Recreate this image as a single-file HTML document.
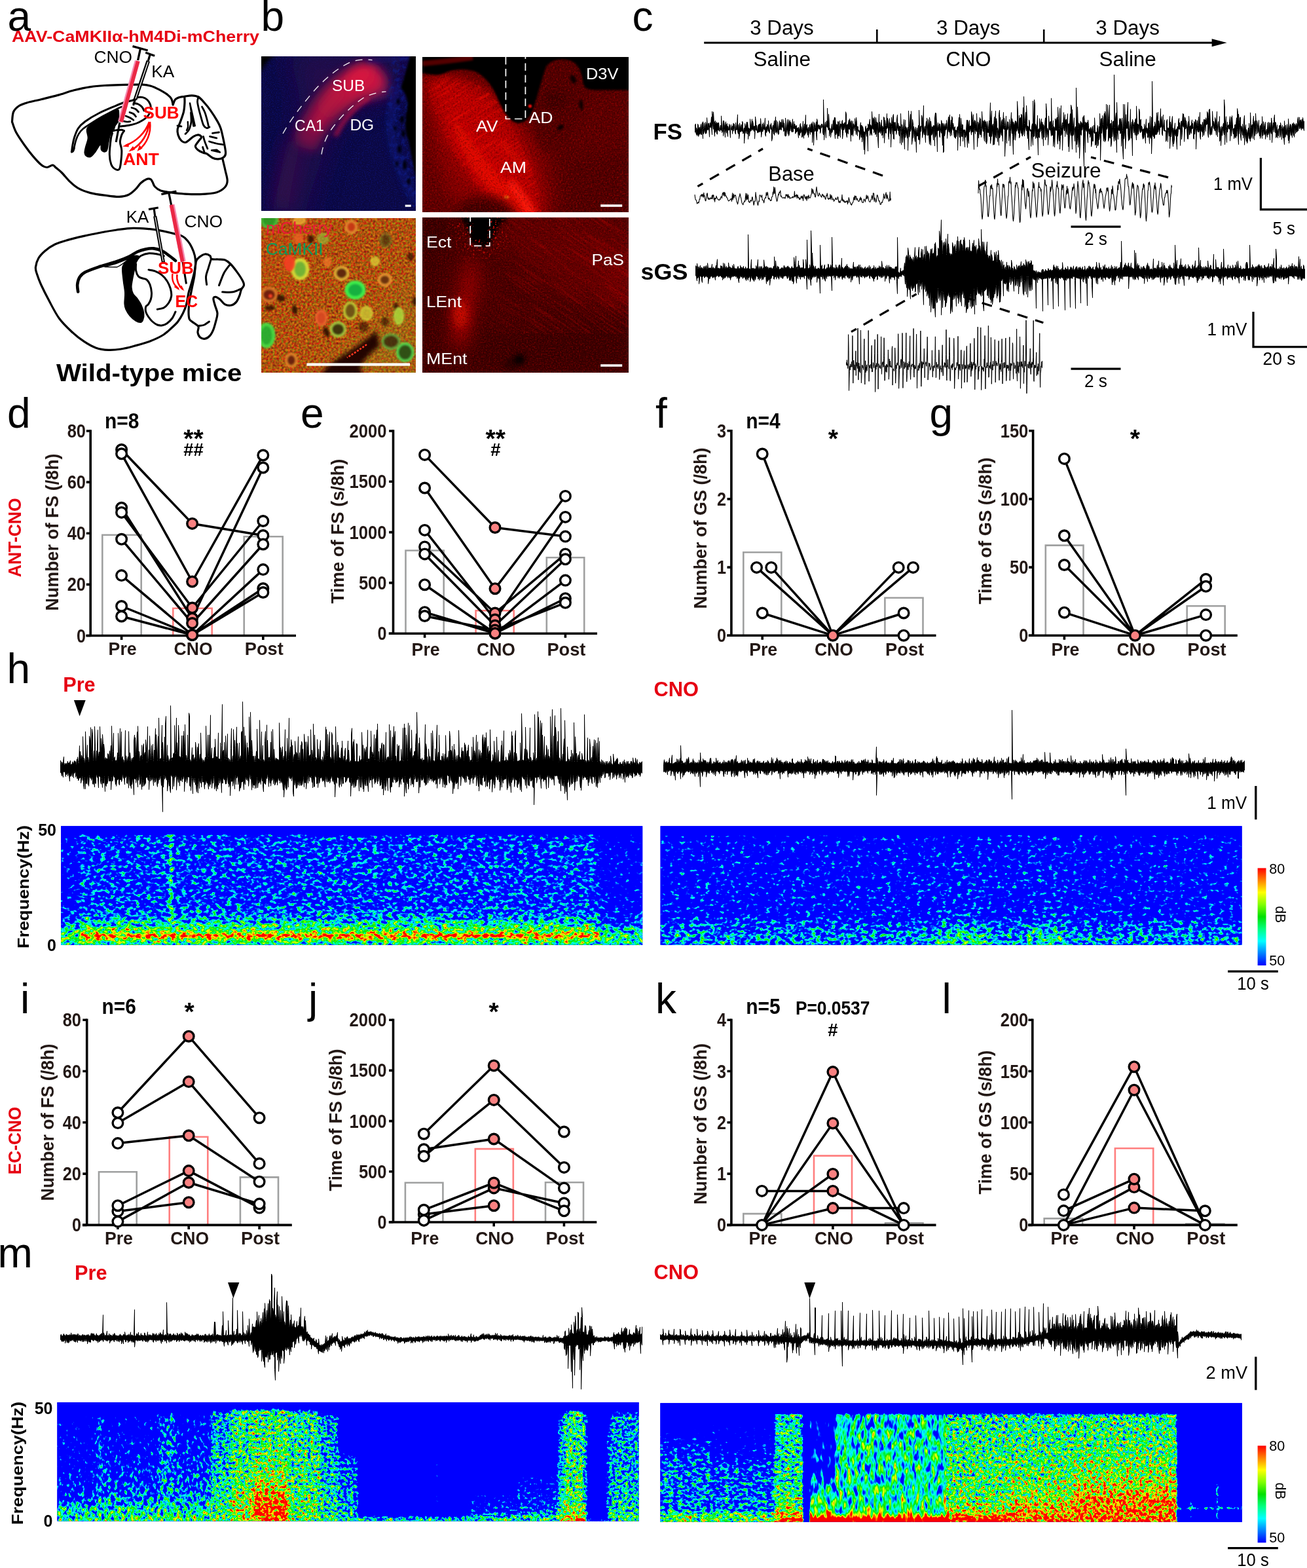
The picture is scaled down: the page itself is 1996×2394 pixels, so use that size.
<!DOCTYPE html>
<html lang="en"><head><meta charset="utf-8"><title>Figure</title>
<style>html,body{margin:0;padding:0;background:#fff}svg{display:block}text{font-family:"Liberation Sans",Arial,Helvetica,sans-serif}</style>
</head><body>
<svg xmlns="http://www.w3.org/2000/svg" width="1996" height="2394" viewBox="0 0 1996 2394">
<defs>
<linearGradient id="gh1_0" gradientUnits="userSpaceOnUse" x1="0" y1="1261.2" x2="0" y2="1442.8"><stop offset="0.000" stop-color="#000000"/><stop offset="0.055" stop-color="#000000"/><stop offset="0.075" stop-color="#505050"/><stop offset="0.650" stop-color="#525252"/><stop offset="0.800" stop-color="#666666"/><stop offset="0.880" stop-color="#8a8a8a"/><stop offset="0.930" stop-color="#999999"/><stop offset="1.000" stop-color="#858585"/></linearGradient>
<linearGradient id="gh1_1" gradientUnits="userSpaceOnUse" x1="0" y1="1261.2" x2="0" y2="1442.8"><stop offset="0.000" stop-color="#000000"/><stop offset="0.055" stop-color="#000000"/><stop offset="0.075" stop-color="#626262"/><stop offset="0.650" stop-color="#636363"/><stop offset="0.740" stop-color="#6c6c6c"/><stop offset="0.800" stop-color="#7c7c7c"/><stop offset="0.860" stop-color="#949494"/><stop offset="0.900" stop-color="#a3a3a3"/><stop offset="0.917" stop-color="#c4c4c4"/><stop offset="0.930" stop-color="#c4c4c4"/><stop offset="0.947" stop-color="#a3a3a3"/><stop offset="0.970" stop-color="#949494"/><stop offset="1.000" stop-color="#858585"/></linearGradient>
<linearGradient id="gh1_2" gradientUnits="userSpaceOnUse" x1="0" y1="1261.2" x2="0" y2="1442.8"><stop offset="0.000" stop-color="#000000"/><stop offset="0.055" stop-color="#000000"/><stop offset="0.075" stop-color="#8a8a8a"/><stop offset="0.780" stop-color="#8f8f8f"/><stop offset="0.860" stop-color="#999999"/><stop offset="0.900" stop-color="#a3a3a3"/><stop offset="0.917" stop-color="#c4c4c4"/><stop offset="0.930" stop-color="#c4c4c4"/><stop offset="0.947" stop-color="#a3a3a3"/><stop offset="0.970" stop-color="#949494"/><stop offset="1.000" stop-color="#858585"/></linearGradient>
<linearGradient id="gh1_3" gradientUnits="userSpaceOnUse" x1="0" y1="1261.2" x2="0" y2="1442.8"><stop offset="0.000" stop-color="#000000"/><stop offset="0.055" stop-color="#000000"/><stop offset="0.075" stop-color="#626262"/><stop offset="0.650" stop-color="#636363"/><stop offset="0.740" stop-color="#6c6c6c"/><stop offset="0.800" stop-color="#7c7c7c"/><stop offset="0.860" stop-color="#949494"/><stop offset="0.900" stop-color="#a3a3a3"/><stop offset="0.917" stop-color="#c4c4c4"/><stop offset="0.930" stop-color="#c4c4c4"/><stop offset="0.947" stop-color="#a3a3a3"/><stop offset="0.970" stop-color="#949494"/><stop offset="1.000" stop-color="#858585"/></linearGradient>
<linearGradient id="gh1_4" gradientUnits="userSpaceOnUse" x1="0" y1="1261.2" x2="0" y2="1442.8"><stop offset="0.000" stop-color="#000000"/><stop offset="0.055" stop-color="#000000"/><stop offset="0.075" stop-color="#494949"/><stop offset="0.650" stop-color="#4e4e4e"/><stop offset="0.800" stop-color="#5e5e5e"/><stop offset="0.880" stop-color="#808080"/><stop offset="0.930" stop-color="#8f8f8f"/><stop offset="1.000" stop-color="#808080"/></linearGradient>
<g id="eh1"><rect x="79.1" y="1247.2" width="916.1" height="209.6" fill="#000"/><rect x="79.1" y="1247.2" width="41.9" height="209.6" fill="url(#gh1_0)"/><rect x="121.0" y="1247.2" width="136.5" height="209.6" fill="url(#gh1_1)"/><rect x="257.5" y="1247.2" width="6.5" height="209.6" fill="url(#gh1_2)"/><rect x="264.0" y="1247.2" width="652.0" height="209.6" fill="url(#gh1_3)"/><rect x="916.0" y="1247.2" width="79.2" height="209.6" fill="url(#gh1_4)"/></g>
<clipPath id="ch1_0"><rect x="93.1" y="1261.2" width="888.1" height="181.6"/></clipPath>
<filter id="fh1_0" filterUnits="userSpaceOnUse" x="79.1" y="1247.2" width="916.1" height="209.6" color-interpolation-filters="sRGB">
<feGaussianBlur in="SourceGraphic" stdDeviation="1.6 1.0" result="e"/>
<feTurbulence type="fractalNoise" baseFrequency="0.13 0.19" numOctaves="2" seed="7"/>
<feColorMatrix type="matrix" values="1 0 0 0 0 1 0 0 0 0 1 0 0 0 0 0 0 0 0 1" result="n"/>
<feComposite in="e" in2="n" operator="arithmetic" k1="0" k2="2.5" k3="1.728" k4="-1.864"/>
<feComponentTransfer><feFuncR type="table" tableValues="0 0 0 0 0 .5 1 1 1"/><feFuncG type="table" tableValues="0 .5 1 1 .9 1 1 .5 0"/><feFuncB type="table" tableValues="1 1 1 .5 0 0 0 0 0"/></feComponentTransfer>
</filter>
<linearGradient id="gh2_0" gradientUnits="userSpaceOnUse" x1="0" y1="1261.2" x2="0" y2="1442.8"><stop offset="0.000" stop-color="#000000"/><stop offset="0.060" stop-color="#000000"/><stop offset="0.080" stop-color="#4e4e4e"/><stop offset="0.500" stop-color="#525252"/><stop offset="0.750" stop-color="#535353"/><stop offset="0.800" stop-color="#606060"/><stop offset="0.900" stop-color="#6e6e6e"/><stop offset="0.970" stop-color="#757575"/><stop offset="1.000" stop-color="#6e6e6e"/></linearGradient>
<linearGradient id="gh2_1" gradientUnits="userSpaceOnUse" x1="0" y1="1261.2" x2="0" y2="1442.8"><stop offset="0.000" stop-color="#000000"/><stop offset="0.060" stop-color="#000000"/><stop offset="0.080" stop-color="#505050"/><stop offset="0.300" stop-color="#565656"/><stop offset="0.700" stop-color="#595959"/><stop offset="0.800" stop-color="#686868"/><stop offset="0.900" stop-color="#808080"/><stop offset="0.970" stop-color="#8d8d8d"/><stop offset="1.000" stop-color="#838383"/></linearGradient>
<linearGradient id="gh2_2" gradientUnits="userSpaceOnUse" x1="0" y1="1261.2" x2="0" y2="1442.8"><stop offset="0.000" stop-color="#000000"/><stop offset="0.060" stop-color="#000000"/><stop offset="0.080" stop-color="#4e4e4e"/><stop offset="0.500" stop-color="#525252"/><stop offset="0.750" stop-color="#535353"/><stop offset="0.800" stop-color="#606060"/><stop offset="0.900" stop-color="#6e6e6e"/><stop offset="0.970" stop-color="#757575"/><stop offset="1.000" stop-color="#6e6e6e"/></linearGradient>
<linearGradient id="gh2_3" gradientUnits="userSpaceOnUse" x1="0" y1="1261.2" x2="0" y2="1442.8"><stop offset="0.000" stop-color="#000000"/><stop offset="0.060" stop-color="#000000"/><stop offset="0.080" stop-color="#505050"/><stop offset="0.300" stop-color="#565656"/><stop offset="0.700" stop-color="#595959"/><stop offset="0.800" stop-color="#686868"/><stop offset="0.900" stop-color="#808080"/><stop offset="0.970" stop-color="#8d8d8d"/><stop offset="1.000" stop-color="#838383"/></linearGradient>
<linearGradient id="gh2_4" gradientUnits="userSpaceOnUse" x1="0" y1="1261.2" x2="0" y2="1442.8"><stop offset="0.000" stop-color="#000000"/><stop offset="0.060" stop-color="#000000"/><stop offset="0.080" stop-color="#4e4e4e"/><stop offset="0.500" stop-color="#525252"/><stop offset="0.750" stop-color="#535353"/><stop offset="0.800" stop-color="#606060"/><stop offset="0.900" stop-color="#6e6e6e"/><stop offset="0.970" stop-color="#757575"/><stop offset="1.000" stop-color="#6e6e6e"/></linearGradient>
<g id="eh2"><rect x="994.6" y="1247.2" width="916.0" height="209.6" fill="#000"/><rect x="994.6" y="1247.2" width="435.4" height="209.6" fill="url(#gh2_0)"/><rect x="1430.0" y="1247.2" width="80.0" height="209.6" fill="url(#gh2_1)"/><rect x="1510.0" y="1247.2" width="55.0" height="209.6" fill="url(#gh2_2)"/><rect x="1565.0" y="1247.2" width="60.0" height="209.6" fill="url(#gh2_3)"/><rect x="1625.0" y="1247.2" width="285.6" height="209.6" fill="url(#gh2_4)"/></g>
<clipPath id="ch2_0"><rect x="1008.6" y="1261.2" width="888.0" height="181.6"/></clipPath>
<filter id="fh2_0" filterUnits="userSpaceOnUse" x="994.6" y="1247.2" width="916.0" height="209.6" color-interpolation-filters="sRGB">
<feGaussianBlur in="SourceGraphic" stdDeviation="12 1.0" result="e"/>
<feTurbulence type="fractalNoise" baseFrequency="0.13 0.19" numOctaves="2" seed="12"/>
<feColorMatrix type="matrix" values="1 0 0 0 0 1 0 0 0 0 1 0 0 0 0 0 0 0 0 1" result="n"/>
<feComposite in="e" in2="n" operator="arithmetic" k1="0" k2="2.5" k3="1.728" k4="-1.864"/>
<feComponentTransfer><feFuncR type="table" tableValues="0 0 0 0 0 .5 1 1 1"/><feFuncG type="table" tableValues="0 .5 1 1 .9 1 1 .5 0"/><feFuncB type="table" tableValues="1 1 1 .5 0 0 0 0 0"/></feComponentTransfer>
</filter>
<linearGradient id="gm1_0" gradientUnits="userSpaceOnUse" x1="0" y1="2141" x2="0" y2="2322.6"><stop offset="0.000" stop-color="#000000"/><stop offset="0.080" stop-color="#000000"/><stop offset="0.120" stop-color="#3d3d3d"/><stop offset="0.500" stop-color="#474747"/><stop offset="0.800" stop-color="#575757"/><stop offset="0.880" stop-color="#7a7a7a"/><stop offset="1.000" stop-color="#8f8f8f"/></linearGradient>
<linearGradient id="gm1_1" gradientUnits="userSpaceOnUse" x1="0" y1="2141" x2="0" y2="2322.6"><stop offset="0.000" stop-color="#000000"/><stop offset="0.100" stop-color="#000000"/><stop offset="0.130" stop-color="#666666"/><stop offset="0.500" stop-color="#6b6b6b"/><stop offset="0.800" stop-color="#757575"/><stop offset="0.900" stop-color="#858585"/><stop offset="1.000" stop-color="#949494"/></linearGradient>
<linearGradient id="gm1_2" gradientUnits="userSpaceOnUse" x1="0" y1="2141" x2="0" y2="2322.6"><stop offset="0.000" stop-color="#000000"/><stop offset="0.080" stop-color="#000000"/><stop offset="0.120" stop-color="#424242"/><stop offset="0.400" stop-color="#4c4c4c"/><stop offset="0.600" stop-color="#5c5c5c"/><stop offset="0.800" stop-color="#6b6b6b"/><stop offset="0.900" stop-color="#858585"/><stop offset="1.000" stop-color="#949494"/></linearGradient>
<linearGradient id="gm1_3" gradientUnits="userSpaceOnUse" x1="0" y1="2141" x2="0" y2="2322.6"><stop offset="0.000" stop-color="#000000"/><stop offset="0.070" stop-color="#000000"/><stop offset="0.100" stop-color="#666666"/><stop offset="0.500" stop-color="#6e6e6e"/><stop offset="0.800" stop-color="#757575"/><stop offset="0.900" stop-color="#8a8a8a"/><stop offset="1.000" stop-color="#949494"/></linearGradient>
<linearGradient id="gm1_4" gradientUnits="userSpaceOnUse" x1="0" y1="2141" x2="0" y2="2322.6"><stop offset="0.000" stop-color="#000000"/><stop offset="0.080" stop-color="#000000"/><stop offset="0.120" stop-color="#474747"/><stop offset="0.400" stop-color="#575757"/><stop offset="0.700" stop-color="#666666"/><stop offset="0.850" stop-color="#7a7a7a"/><stop offset="0.950" stop-color="#8f8f8f"/><stop offset="1.000" stop-color="#949494"/></linearGradient>
<linearGradient id="gm1_5" gradientUnits="userSpaceOnUse" x1="0" y1="2141" x2="0" y2="2322.6"><stop offset="0.000" stop-color="#000000"/><stop offset="0.050" stop-color="#000000"/><stop offset="0.080" stop-color="#757575"/><stop offset="0.600" stop-color="#808080"/><stop offset="0.850" stop-color="#8f8f8f"/><stop offset="1.000" stop-color="#999999"/></linearGradient>
<linearGradient id="gm1_6" gradientUnits="userSpaceOnUse" x1="0" y1="2141" x2="0" y2="2322.6"><stop offset="0.000" stop-color="#000000"/><stop offset="0.040" stop-color="#000000"/><stop offset="0.070" stop-color="#8b8b8b"/><stop offset="0.500" stop-color="#919191"/><stop offset="0.750" stop-color="#9b9b9b"/><stop offset="0.900" stop-color="#a5a5a5"/><stop offset="1.000" stop-color="#a3a3a3"/></linearGradient>
<linearGradient id="gm1_7" gradientUnits="userSpaceOnUse" x1="0" y1="2141" x2="0" y2="2322.6"><stop offset="0.000" stop-color="#000000"/><stop offset="0.040" stop-color="#000000"/><stop offset="0.070" stop-color="#919191"/><stop offset="0.450" stop-color="#969696"/><stop offset="0.600" stop-color="#9e9e9e"/><stop offset="0.720" stop-color="#afafaf"/><stop offset="0.820" stop-color="#c7c7c7"/><stop offset="0.970" stop-color="#cccccc"/><stop offset="1.000" stop-color="#b8b8b8"/></linearGradient>
<linearGradient id="gm1_8" gradientUnits="userSpaceOnUse" x1="0" y1="2141" x2="0" y2="2322.6"><stop offset="0.000" stop-color="#000000"/><stop offset="0.050" stop-color="#000000"/><stop offset="0.080" stop-color="#858585"/><stop offset="0.500" stop-color="#8f8f8f"/><stop offset="0.800" stop-color="#949494"/><stop offset="0.950" stop-color="#999999"/><stop offset="1.000" stop-color="#999999"/></linearGradient>
<linearGradient id="gm1_9" gradientUnits="userSpaceOnUse" x1="0" y1="2141" x2="0" y2="2322.6"><stop offset="0.000" stop-color="#000000"/><stop offset="0.080" stop-color="#000000"/><stop offset="0.120" stop-color="#707070"/><stop offset="0.500" stop-color="#7a7a7a"/><stop offset="0.850" stop-color="#858585"/><stop offset="1.000" stop-color="#8f8f8f"/></linearGradient>
<linearGradient id="gm1_10" gradientUnits="userSpaceOnUse" x1="0" y1="2141" x2="0" y2="2322.6"><stop offset="0.000" stop-color="#000000"/><stop offset="0.300" stop-color="#000000"/><stop offset="0.500" stop-color="#666666"/><stop offset="0.850" stop-color="#757575"/><stop offset="1.000" stop-color="#858585"/></linearGradient>
<linearGradient id="gm1_11" gradientUnits="userSpaceOnUse" x1="0" y1="2141" x2="0" y2="2322.6"><stop offset="0.000" stop-color="#000000"/><stop offset="0.940" stop-color="#000000"/><stop offset="0.970" stop-color="#7a7a7a"/><stop offset="1.000" stop-color="#8a8a8a"/></linearGradient>
<linearGradient id="gm1_12" gradientUnits="userSpaceOnUse" x1="0" y1="2141" x2="0" y2="2322.6"><stop offset="0.000" stop-color="#000000"/><stop offset="0.700" stop-color="#000000"/><stop offset="0.800" stop-color="#474747"/><stop offset="0.930" stop-color="#575757"/><stop offset="0.960" stop-color="#858585"/><stop offset="1.000" stop-color="#8a8a8a"/></linearGradient>
<linearGradient id="gm1_13" gradientUnits="userSpaceOnUse" x1="0" y1="2141" x2="0" y2="2322.6"><stop offset="0.000" stop-color="#000000"/><stop offset="0.500" stop-color="#000000"/><stop offset="0.650" stop-color="#474747"/><stop offset="0.900" stop-color="#616161"/><stop offset="0.960" stop-color="#858585"/><stop offset="1.000" stop-color="#8f8f8f"/></linearGradient>
<linearGradient id="gm1_14" gradientUnits="userSpaceOnUse" x1="0" y1="2141" x2="0" y2="2322.6"><stop offset="0.000" stop-color="#000000"/><stop offset="0.080" stop-color="#000000"/><stop offset="0.120" stop-color="#707070"/><stop offset="0.600" stop-color="#7a7a7a"/><stop offset="0.850" stop-color="#858585"/><stop offset="1.000" stop-color="#a3a3a3"/></linearGradient>
<linearGradient id="gm1_15" gradientUnits="userSpaceOnUse" x1="0" y1="2141" x2="0" y2="2322.6"><stop offset="0.000" stop-color="#000000"/><stop offset="0.050" stop-color="#000000"/><stop offset="0.080" stop-color="#8b8b8b"/><stop offset="0.600" stop-color="#919191"/><stop offset="0.850" stop-color="#999999"/><stop offset="0.950" stop-color="#a8a8a8"/><stop offset="1.000" stop-color="#c7c7c7"/></linearGradient>
<linearGradient id="gm1_16" gradientUnits="userSpaceOnUse" x1="0" y1="2141" x2="0" y2="2322.6"><stop offset="0.000" stop-color="#000000"/><stop offset="0.080" stop-color="#000000"/><stop offset="0.120" stop-color="#666666"/><stop offset="0.850" stop-color="#7a7a7a"/><stop offset="1.000" stop-color="#8f8f8f"/></linearGradient>
<linearGradient id="gm1_17" gradientUnits="userSpaceOnUse" x1="0" y1="2141" x2="0" y2="2322.6"><stop offset="0.000" stop-color="#000000"/><stop offset="0.960" stop-color="#000000"/><stop offset="1.000" stop-color="#666666"/></linearGradient>
<linearGradient id="gm1_18" gradientUnits="userSpaceOnUse" x1="0" y1="2141" x2="0" y2="2322.6"><stop offset="0.000" stop-color="#000000"/><stop offset="0.100" stop-color="#000000"/><stop offset="0.200" stop-color="#525252"/><stop offset="0.900" stop-color="#707070"/><stop offset="1.000" stop-color="#858585"/></linearGradient>
<linearGradient id="gm1_19" gradientUnits="userSpaceOnUse" x1="0" y1="2141" x2="0" y2="2322.6"><stop offset="0.000" stop-color="#000000"/><stop offset="0.060" stop-color="#000000"/><stop offset="0.100" stop-color="#727272"/><stop offset="0.700" stop-color="#7a7a7a"/><stop offset="0.900" stop-color="#878787"/><stop offset="1.000" stop-color="#8f8f8f"/></linearGradient>
<g id="em1"><rect x="73.4" y="2127.0" width="916.2" height="209.6" fill="#000"/><rect x="73.4" y="2127.0" width="74.6" height="209.6" fill="url(#gm1_0)"/><rect x="148.0" y="2127.0" width="10.0" height="209.6" fill="url(#gm1_1)"/><rect x="158.0" y="2127.0" width="84.0" height="209.6" fill="url(#gm1_2)"/><rect x="242.0" y="2127.0" width="26.0" height="209.6" fill="url(#gm1_3)"/><rect x="268.0" y="2127.0" width="54.0" height="209.6" fill="url(#gm1_4)"/><rect x="322.0" y="2127.0" width="30.0" height="209.6" fill="url(#gm1_5)"/><rect x="352.0" y="2127.0" width="33.0" height="209.6" fill="url(#gm1_6)"/><rect x="385.0" y="2127.0" width="55.0" height="209.6" fill="url(#gm1_7)"/><rect x="440.0" y="2127.0" width="50.0" height="209.6" fill="url(#gm1_8)"/><rect x="490.0" y="2127.0" width="28.0" height="209.6" fill="url(#gm1_9)"/><rect x="518.0" y="2127.0" width="30.0" height="209.6" fill="url(#gm1_10)"/><rect x="548.0" y="2127.0" width="166.0" height="209.6" fill="url(#gm1_11)"/><rect x="714.0" y="2127.0" width="76.0" height="209.6" fill="url(#gm1_12)"/><rect x="790.0" y="2127.0" width="61.0" height="209.6" fill="url(#gm1_13)"/><rect x="851.0" y="2127.0" width="11.0" height="209.6" fill="url(#gm1_14)"/><rect x="862.0" y="2127.0" width="31.0" height="209.6" fill="url(#gm1_15)"/><rect x="893.0" y="2127.0" width="5.0" height="209.6" fill="url(#gm1_16)"/><rect x="898.0" y="2127.0" width="27.0" height="209.6" fill="url(#gm1_17)"/><rect x="925.0" y="2127.0" width="7.0" height="209.6" fill="url(#gm1_18)"/><rect x="932.0" y="2127.0" width="57.6" height="209.6" fill="url(#gm1_19)"/><rect x="665.5" y="2231.8" width="3.5" height="69.0" fill="#808080"/></g>
<clipPath id="cm1_0"><rect x="87.4" y="2141" width="234.6" height="181.6"/></clipPath>
<filter id="fm1_0" filterUnits="userSpaceOnUse" x="73.4" y="2127.0" width="262.6" height="209.6" color-interpolation-filters="sRGB">
<feGaussianBlur in="SourceGraphic" stdDeviation="2 1.2" result="e"/>
<feTurbulence type="fractalNoise" baseFrequency="0.2 0.14" numOctaves="2" seed="21"/>
<feColorMatrix type="matrix" values="1 0 0 0 0 1 0 0 0 0 1 0 0 0 0 0 0 0 0 1" result="n"/>
<feComposite in="e" in2="n" operator="arithmetic" k1="0" k2="2.5" k3="1.920" k4="-1.960"/>
<feComponentTransfer><feFuncR type="table" tableValues="0 0 0 0 0 .5 1 1 1"/><feFuncG type="table" tableValues="0 .5 1 1 .9 1 1 .5 0"/><feFuncB type="table" tableValues="1 1 1 .5 0 0 0 0 0"/></feComponentTransfer>
</filter>
<clipPath id="cm1_1"><rect x="322.0" y="2141" width="653.6" height="181.6"/></clipPath>
<filter id="fm1_1" filterUnits="userSpaceOnUse" x="308.0" y="2127.0" width="681.6" height="209.6" color-interpolation-filters="sRGB">
<feGaussianBlur in="SourceGraphic" stdDeviation="2 1.2" result="e"/>
<feTurbulence type="fractalNoise" baseFrequency="0.2 0.22" numOctaves="2" seed="23"/>
<feColorMatrix type="matrix" values="1 0 0 0 0 1 0 0 0 0 1 0 0 0 0 0 0 0 0 1" result="n"/>
<feComposite in="e" in2="n" operator="arithmetic" k1="0" k2="2.5" k3="1.800" k4="-1.900"/>
<feComponentTransfer><feFuncR type="table" tableValues="0 0 0 0 0 .5 1 1 1"/><feFuncG type="table" tableValues="0 .5 1 1 .9 1 1 .5 0"/><feFuncB type="table" tableValues="1 1 1 .5 0 0 0 0 0"/></feComponentTransfer>
</filter>
<linearGradient id="gm2_0" gradientUnits="userSpaceOnUse" x1="0" y1="2142.2" x2="0" y2="2323.8"><stop offset="0.000" stop-color="#000000"/><stop offset="0.100" stop-color="#000000"/><stop offset="0.250" stop-color="#383838"/><stop offset="0.400" stop-color="#5c5c5c"/><stop offset="0.600" stop-color="#707070"/><stop offset="0.900" stop-color="#707070"/><stop offset="0.930" stop-color="#949494"/><stop offset="1.000" stop-color="#999999"/></linearGradient>
<linearGradient id="gm2_1" gradientUnits="userSpaceOnUse" x1="0" y1="2142.2" x2="0" y2="2323.8"><stop offset="0.000" stop-color="#000000"/><stop offset="0.100" stop-color="#000000"/><stop offset="0.200" stop-color="#3d3d3d"/><stop offset="0.450" stop-color="#474747"/><stop offset="0.550" stop-color="#666666"/><stop offset="0.900" stop-color="#707070"/><stop offset="0.930" stop-color="#949494"/><stop offset="1.000" stop-color="#999999"/></linearGradient>
<linearGradient id="gm2_2" gradientUnits="userSpaceOnUse" x1="0" y1="2142.2" x2="0" y2="2323.8"><stop offset="0.000" stop-color="#000000"/><stop offset="0.070" stop-color="#000000"/><stop offset="0.100" stop-color="#858585"/><stop offset="0.600" stop-color="#8a8a8a"/><stop offset="0.800" stop-color="#949494"/><stop offset="0.900" stop-color="#a3a3a3"/><stop offset="0.970" stop-color="#c2c2c2"/><stop offset="1.000" stop-color="#cccccc"/></linearGradient>
<linearGradient id="gm2_3" gradientUnits="userSpaceOnUse" x1="0" y1="2142.2" x2="0" y2="2323.8"><stop offset="0.000" stop-color="#000000"/><stop offset="1.000" stop-color="#000000"/></linearGradient>
<linearGradient id="gm2_4" gradientUnits="userSpaceOnUse" x1="0" y1="2142.2" x2="0" y2="2323.8"><stop offset="0.000" stop-color="#000000"/><stop offset="0.100" stop-color="#000000"/><stop offset="0.150" stop-color="#474747"/><stop offset="0.550" stop-color="#525252"/><stop offset="0.700" stop-color="#757575"/><stop offset="0.880" stop-color="#999999"/><stop offset="0.950" stop-color="#bdbdbd"/><stop offset="0.975" stop-color="#ebebeb"/><stop offset="1.000" stop-color="#ebebeb"/></linearGradient>
<linearGradient id="gm2_5" gradientUnits="userSpaceOnUse" x1="0" y1="2142.2" x2="0" y2="2323.8"><stop offset="0.000" stop-color="#000000"/><stop offset="0.070" stop-color="#000000"/><stop offset="0.100" stop-color="#838383"/><stop offset="0.800" stop-color="#888888"/><stop offset="0.920" stop-color="#949494"/><stop offset="0.955" stop-color="#bdbdbd"/><stop offset="0.975" stop-color="#ebebeb"/><stop offset="1.000" stop-color="#ebebeb"/></linearGradient>
<linearGradient id="gm2_6" gradientUnits="userSpaceOnUse" x1="0" y1="2142.2" x2="0" y2="2323.8"><stop offset="0.000" stop-color="#000000"/><stop offset="0.070" stop-color="#000000"/><stop offset="0.100" stop-color="#8b8b8b"/><stop offset="0.500" stop-color="#939393"/><stop offset="0.800" stop-color="#999999"/><stop offset="0.920" stop-color="#a8a8a8"/><stop offset="0.960" stop-color="#d1d1d1"/><stop offset="1.000" stop-color="#e0e0e0"/></linearGradient>
<linearGradient id="gm2_7" gradientUnits="userSpaceOnUse" x1="0" y1="2142.2" x2="0" y2="2323.8"><stop offset="0.000" stop-color="#000000"/><stop offset="0.070" stop-color="#000000"/><stop offset="0.100" stop-color="#8b8b8b"/><stop offset="0.400" stop-color="#939393"/><stop offset="0.600" stop-color="#999999"/><stop offset="0.780" stop-color="#a3a3a3"/><stop offset="0.900" stop-color="#b6b6b6"/><stop offset="1.000" stop-color="#cccccc"/></linearGradient>
<linearGradient id="gm2_8" gradientUnits="userSpaceOnUse" x1="0" y1="2142.2" x2="0" y2="2323.8"><stop offset="0.000" stop-color="#000000"/><stop offset="0.070" stop-color="#000000"/><stop offset="0.100" stop-color="#8d8d8d"/><stop offset="0.350" stop-color="#959595"/><stop offset="0.550" stop-color="#9d9d9d"/><stop offset="0.700" stop-color="#ababab"/><stop offset="0.820" stop-color="#c0c0c0"/><stop offset="1.000" stop-color="#c4c4c4"/></linearGradient>
<linearGradient id="gm2_9" gradientUnits="userSpaceOnUse" x1="0" y1="2142.2" x2="0" y2="2323.8"><stop offset="0.000" stop-color="#000000"/><stop offset="0.860" stop-color="#000000"/><stop offset="0.875" stop-color="#666666"/><stop offset="0.895" stop-color="#666666"/><stop offset="0.910" stop-color="#000000"/><stop offset="1.000" stop-color="#000000"/></linearGradient>
<g id="em2"><rect x="994.4" y="2128.2" width="916.4" height="209.6" fill="#000"/><rect x="994.4" y="2128.2" width="90.6" height="209.6" fill="url(#gm2_0)"/><rect x="1085.0" y="2128.2" width="98.0" height="209.6" fill="url(#gm2_1)"/><rect x="1183.0" y="2128.2" width="44.0" height="209.6" fill="url(#gm2_2)"/><rect x="1227.0" y="2128.2" width="9.0" height="209.6" fill="url(#gm2_3)"/><rect x="1236.0" y="2128.2" width="39.0" height="209.6" fill="url(#gm2_4)"/><rect x="1275.0" y="2128.2" width="170.0" height="209.6" fill="url(#gm2_5)"/><rect x="1445.0" y="2128.2" width="95.0" height="209.6" fill="url(#gm2_6)"/><rect x="1540.0" y="2128.2" width="100.0" height="209.6" fill="url(#gm2_7)"/><rect x="1640.0" y="2128.2" width="158.5" height="209.6" fill="url(#gm2_8)"/><rect x="1798.5" y="2128.2" width="112.3" height="209.6" fill="url(#gm2_9)"/><rect x="1816.5" y="2287.5" width="4" height="30.9" fill="#858585"/><rect x="1857" y="2265.7" width="4" height="54.5" fill="#858585"/><rect x="1246" y="2164.0" width="3" height="90.8" fill="#707070"/></g>
<clipPath id="cm2_0"><rect x="1008.4" y="2142.2" width="227.6" height="181.6"/></clipPath>
<filter id="fm2_0" filterUnits="userSpaceOnUse" x="994.4" y="2128.2" width="255.6" height="209.6" color-interpolation-filters="sRGB">
<feGaussianBlur in="SourceGraphic" stdDeviation="1.6 1.2" result="e"/>
<feTurbulence type="fractalNoise" baseFrequency="0.14 0.22" numOctaves="2" seed="33"/>
<feColorMatrix type="matrix" values="1 0 0 0 0 1 0 0 0 0 1 0 0 0 0 0 0 0 0 1" result="n"/>
<feComposite in="e" in2="n" operator="arithmetic" k1="0" k2="2.5" k3="1.920" k4="-1.960"/>
<feComponentTransfer><feFuncR type="table" tableValues="0 0 0 0 0 .5 1 1 1"/><feFuncG type="table" tableValues="0 .5 1 1 .9 1 1 .5 0"/><feFuncB type="table" tableValues="1 1 1 .5 0 0 0 0 0"/></feComponentTransfer>
</filter>
<clipPath id="cm2_1"><rect x="1236.0" y="2142.2" width="209.0" height="181.6"/></clipPath>
<filter id="fm2_1" filterUnits="userSpaceOnUse" x="1222.0" y="2128.2" width="237.0" height="209.6" color-interpolation-filters="sRGB">
<feGaussianBlur in="SourceGraphic" stdDeviation="1.6 1.2" result="e"/>
<feTurbulence type="fractalNoise" baseFrequency="0.17 0.06" numOctaves="2" seed="35"/>
<feColorMatrix type="matrix" values="1 0 0 0 0 1 0 0 0 0 1 0 0 0 0 0 0 0 0 1" result="n"/>
<feComposite in="e" in2="n" operator="arithmetic" k1="0" k2="2.5" k3="1.680" k4="-1.840"/>
<feComponentTransfer><feFuncR type="table" tableValues="0 0 0 0 0 .5 1 1 1"/><feFuncG type="table" tableValues="0 .5 1 1 .9 1 1 .5 0"/><feFuncB type="table" tableValues="1 1 1 .5 0 0 0 0 0"/></feComponentTransfer>
</filter>
<clipPath id="cm2_2"><rect x="1445.0" y="2142.2" width="451.8" height="181.6"/></clipPath>
<filter id="fm2_2" filterUnits="userSpaceOnUse" x="1431.0" y="2128.2" width="479.8" height="209.6" color-interpolation-filters="sRGB">
<feGaussianBlur in="SourceGraphic" stdDeviation="1.6 1.2" result="e"/>
<feTurbulence type="fractalNoise" baseFrequency="0.2 0.2" numOctaves="2" seed="37"/>
<feColorMatrix type="matrix" values="1 0 0 0 0 1 0 0 0 0 1 0 0 0 0 0 0 0 0 1" result="n"/>
<feComposite in="e" in2="n" operator="arithmetic" k1="0" k2="2.5" k3="1.800" k4="-1.900"/>
<feComponentTransfer><feFuncR type="table" tableValues="0 0 0 0 0 .5 1 1 1"/><feFuncG type="table" tableValues="0 .5 1 1 .9 1 1 .5 0"/><feFuncB type="table" tableValues="1 1 1 .5 0 0 0 0 0"/></feComponentTransfer>
</filter>
<linearGradient id="jet" x1="0" y1="0" x2="0" y2="1"><stop offset="0" stop-color="#f00"/><stop offset="0.125" stop-color="#ff8000"/><stop offset="0.25" stop-color="#ff0"/><stop offset="0.375" stop-color="#80ff00"/><stop offset="0.5" stop-color="#00e000"/><stop offset="0.625" stop-color="#00ff80"/><stop offset="0.75" stop-color="#0ff"/><stop offset="0.875" stop-color="#0080ff"/><stop offset="1" stop-color="#00f"/></linearGradient>
<filter id="bl1" filterUnits="userSpaceOnUse" x="370" y="50" width="620" height="550"><feGaussianBlur stdDeviation="0.9"/></filter>
<filter id="bl2" filterUnits="userSpaceOnUse" x="370" y="50" width="620" height="550"><feGaussianBlur stdDeviation="1.6"/></filter>
<filter id="bl3" filterUnits="userSpaceOnUse" x="370" y="50" width="620" height="550"><feGaussianBlur stdDeviation="3"/></filter>
<filter id="bl5" filterUnits="userSpaceOnUse" x="370" y="50" width="620" height="550"><feGaussianBlur stdDeviation="5"/></filter>
<filter id="bl8" filterUnits="userSpaceOnUse" x="370" y="50" width="620" height="550"><feGaussianBlur stdDeviation="8"/></filter>
<filter id="bl12" filterUnits="userSpaceOnUse" x="370" y="50" width="620" height="550"><feGaussianBlur stdDeviation="12"/></filter>
<filter id="bl20" filterUnits="userSpaceOnUse" x="370" y="50" width="620" height="550"><feGaussianBlur stdDeviation="20"/></filter>

<clipPath id="cb1"><rect x="399" y="86" width="236" height="236"/></clipPath>
<filter id="nb1" filterUnits="userSpaceOnUse" x="399" y="86" width="236" height="236" color-interpolation-filters="sRGB">
<feTurbulence type="fractalNoise" baseFrequency="0.55" numOctaves="2" seed="4"/>
<feColorMatrix type="matrix" values="0 0 0 0 0.06  0 0 0 0 0.08  0 0 0 0 0.5  0 0 2.2 0 -0.95"/>
</filter>
<filter id="nb1t" filterUnits="userSpaceOnUse" x="399" y="86" width="236" height="236" color-interpolation-filters="sRGB">
<feTurbulence type="fractalNoise" baseFrequency="0.16" numOctaves="2" seed="8"/>
<feColorMatrix type="matrix" values="0 0 0 0 0.06  0 0 0 0 0.12  0 0 0 0 0.55  0 0 4 0 -1.9"/>
</filter>
<linearGradient id="gb1" gradientUnits="userSpaceOnUse" x1="565" y1="100" x2="445" y2="235"><stop offset="0" stop-color="#d01642"/><stop offset="0.35" stop-color="#c01440"/><stop offset="0.7" stop-color="#8a1044"/><stop offset="1" stop-color="#5a0c48"/></linearGradient>
<clipPath id="cb1t"><path d="M600 86C592 120 588 160 590 200C596 250 612 290 635 322L635 86Z"/></clipPath>
<clipPath id="cb2"><rect x="645" y="87" width="315" height="237"/></clipPath>
<filter id="nb2" filterUnits="userSpaceOnUse" x="645" y="87" width="315" height="237" color-interpolation-filters="sRGB">
<feTurbulence type="fractalNoise" baseFrequency="0.4" numOctaves="2" seed="9"/>
<feColorMatrix type="matrix" values="0 0 0 0 1  0 0 0 0 0.02  0 0 0 0 0  2.2 0 0 0 -1.0"/>
</filter>
<filter id="nb2d" filterUnits="userSpaceOnUse" x="645" y="87" width="315" height="237" color-interpolation-filters="sRGB">
<feTurbulence type="fractalNoise" baseFrequency="0.4" numOctaves="2" seed="19"/>
<feColorMatrix type="matrix" values="0 0 0 0 0  0 0 0 0 0  0 0 0 0 0  2.0 0 0 0 -0.9"/>
</filter>
<filter id="nb2f" filterUnits="userSpaceOnUse" x="545" y="-13" width="515" height="437" color-interpolation-filters="sRGB">
<feTurbulence type="fractalNoise" baseFrequency="0.35 0.02" numOctaves="2" seed="5"/>
<feColorMatrix type="matrix" values="0 0 0 0 1  0 0 0 0 0.05  0 0 0 0 0  3 0 0 0 -1.35"/>
</filter>
<clipPath id="cb2f"><path d="M648 118C700 110 745 125 768 170C786 200 800 230 815 262C822 285 826 310 828 330L760 330C735 290 700 250 682 215C668 185 655 150 648 118Z"/></clipPath>
<clipPath id="cb3"><rect x="399" y="333" width="236" height="236"/></clipPath>
<filter id="nb3" filterUnits="userSpaceOnUse" x="399" y="333" width="236" height="236" color-interpolation-filters="sRGB">
<feTurbulence type="fractalNoise" baseFrequency="0.3" numOctaves="2" seed="2"/>
<feColorMatrix type="matrix" values="0.75 0 0 0 0.31  0 0.8 0 0 -0.08  0 0 0 0 0.06  0 0 0 0 1"/>
</filter>
<clipPath id="cb4"><rect x="645" y="332" width="315" height="237"/></clipPath>
<filter id="nb4" filterUnits="userSpaceOnUse" x="645" y="332" width="315" height="237" color-interpolation-filters="sRGB">
<feTurbulence type="fractalNoise" baseFrequency="0.45" numOctaves="2" seed="14"/>
<feColorMatrix type="matrix" values="0 0 0 0 0.9  0 0 0 0 0.02  0 0 0 0 0.0  2.2 0 0 0 -1.0"/>
</filter>
<filter id="nb4d" filterUnits="userSpaceOnUse" x="645" y="332" width="315" height="237" color-interpolation-filters="sRGB">
<feTurbulence type="fractalNoise" baseFrequency="0.45" numOctaves="2" seed="15"/>
<feColorMatrix type="matrix" values="0 0 0 0 0  0 0 0 0 0  0 0 0 0 0  2 0 0 0 -0.9"/>
</filter>
<filter id="nb4s" filterUnits="userSpaceOnUse" x="645" y="332" width="315" height="237" color-interpolation-filters="sRGB">
<feTurbulence type="fractalNoise" baseFrequency="0.32" numOctaves="2" seed="3"/>
<feColorMatrix type="matrix" values="0 0 0 0 1  0 0 0 0 0.06  0 0 0 0 0.03  7 0 0 0 -4.3"/>
</filter>
<filter id="nb4f" filterUnits="userSpaceOnUse" x="495" y="182" width="615" height="537" color-interpolation-filters="sRGB">
<feTurbulence type="fractalNoise" baseFrequency="0.3 0.015" numOctaves="2" seed="6"/>
<feColorMatrix type="matrix" values="0 0 0 0 0.8  0 0 0 0 0.02  0 0 0 0 0  3 0 0 0 -1.4"/>
</filter>
<radialGradient id="rg4s" cx="733" cy="352" r="58" gradientUnits="userSpaceOnUse"><stop offset="0" stop-color="#fff"/><stop offset="0.45" stop-color="#fff" stop-opacity="0.8"/><stop offset="1" stop-color="#fff" stop-opacity="0"/></radialGradient>
<mask id="mk4s" maskUnits="userSpaceOnUse" x="645" y="332" width="315" height="237"><rect x="645" y="332" width="315" height="237" fill="url(#rg4s)"/></mask>
<linearGradient id="lg4f" gradientUnits="userSpaceOnUse" x1="720" y1="0" x2="960" y2="0"><stop offset="0" stop-color="#fff" stop-opacity="0"/><stop offset="0.4" stop-color="#fff" stop-opacity="0.8"/><stop offset="1" stop-color="#fff"/></linearGradient>
<mask id="mk4f" maskUnits="userSpaceOnUse" x="645" y="332" width="315" height="237"><rect x="645" y="332" width="315" height="177" fill="url(#lg4f)"/></mask>
</defs>
<rect width="1996" height="2394" fill="#fff"/>
<text x="11.5" y="46.5" font-size="64" fill="#000">a</text>
<text x="398.5" y="46.5" font-size="64" fill="#000">b</text>
<text x="965.5" y="47.0" font-size="64" fill="#000">c</text>
<text x="11.0" y="652.5" font-size="64" fill="#000">d</text>
<text x="459.0" y="652.5" font-size="64" fill="#000">e</text>
<text x="1001.0" y="652.5" font-size="64" fill="#000">f</text>
<text x="1419.5" y="652.5" font-size="64" fill="#000">g</text>
<text x="10.5" y="1043.0" font-size="64" fill="#000">h</text>
<text x="31.0" y="1547.0" font-size="64" fill="#000">i</text>
<text x="471.0" y="1547.0" font-size="64" fill="#000">j</text>
<text x="1001.0" y="1547.0" font-size="64" fill="#000">k</text>
<text x="1438.5" y="1547.0" font-size="64" fill="#000">l</text>
<text x="-3.5" y="1935.0" font-size="64" fill="#000">m</text>
<text x="18.0" y="63.6" font-size="23.5" fill="#e60012" font-weight="bold" textLength="378.0" lengthAdjust="spacingAndGlyphs">AAV-CaMKIIα-hM4Di-mCherry</text>
<path d="M18.5 186.0C18.8 183.5 18.8 175.0 20.5 171.0C22.2 167.0 25.4 164.2 28.9 161.8C32.4 159.4 35.9 158.4 41.5 156.7C47.1 155.0 55.0 153.6 62.8 151.7C70.5 149.8 79.6 147.7 88.0 145.4C96.4 143.1 104.6 139.9 113.0 137.8C121.4 135.7 129.8 133.8 138.2 132.6C146.6 131.3 154.3 130.9 163.3 130.3C172.3 129.8 182.9 129.5 192.0 129.3C201.1 129.1 211.3 128.9 217.7 129.2C224.1 129.5 226.1 130.0 230.3 131.2C234.5 132.4 238.6 134.4 242.8 136.6C247.0 138.8 252.2 141.8 255.4 144.2C258.6 146.6 260.2 148.2 261.7 150.8C263.2 153.4 263.8 158.3 264.2 159.8" fill="none" stroke="#000" stroke-width="3.2" stroke-linecap="round" stroke-linejoin="round" />
<path d="M18.5 186.0C19.5 188.7 21.4 196.0 24.6 202.0C27.8 208.0 33.4 215.9 37.7 222.0C42.0 228.1 46.1 233.5 50.3 238.4C54.5 243.3 59.2 248.7 62.8 251.5C66.3 254.3 68.7 255.4 71.6 255.5C74.5 255.6 78.1 252.1 80.4 252.2C82.7 252.3 83.1 254.1 85.4 256.0C87.7 257.9 90.6 259.9 94.2 263.5C97.8 267.1 102.6 273.4 106.8 277.4C111.0 281.4 114.2 284.5 119.4 287.4C124.6 290.3 130.9 292.7 138.2 294.6C145.5 296.5 156.0 297.7 163.3 298.7C170.6 299.7 176.6 300.6 182.0 300.4C187.4 300.2 191.8 299.4 196.0 297.5C200.2 295.6 204.1 291.7 207.3 288.7C210.5 285.7 212.2 282.1 215.0 279.5C217.8 276.9 221.5 274.4 224.0 273.4C226.5 272.4 228.5 272.8 230.0 273.6C231.5 274.4 231.9 276.1 233.0 278.0C234.1 279.9 234.4 282.8 236.5 285.0C238.6 287.2 241.1 289.5 245.3 291.0C249.5 292.5 255.8 293.2 261.7 294.0C267.6 294.8 273.2 295.6 280.5 296.0C287.8 296.4 297.2 297.0 305.6 296.6C314.0 296.2 324.5 295.5 330.8 293.7C337.1 291.9 340.6 288.9 343.3 286.0C346.0 283.1 347.1 280.3 347.2 276.0C347.3 271.7 345.2 265.7 344.0 260.0C342.8 254.3 340.5 245.0 339.8 242.0" fill="none" stroke="#000" stroke-width="3.2" stroke-linecap="round" stroke-linejoin="round" />
<path d="M264.2 159.8C264.8 158.5 266.1 153.6 268.0 151.7C269.9 149.8 273.2 148.9 275.5 148.2C277.8 147.5 278.9 147.7 281.8 147.3C284.7 146.9 289.5 145.7 293.0 145.8C296.5 145.9 299.8 146.2 303.0 148.0C306.2 149.8 308.8 153.1 312.0 156.7C315.2 160.2 318.9 164.9 322.0 169.3C325.1 173.7 328.3 178.7 330.8 183.1C333.3 187.5 335.1 190.0 337.0 195.7C338.9 201.3 340.7 210.7 342.0 217.0C343.3 223.3 344.6 229.6 344.6 233.4C344.6 237.2 343.9 238.1 342.0 239.7C340.1 241.3 336.2 242.6 333.3 242.8C330.4 243.0 327.4 242.4 324.5 241.0C321.6 239.6 318.0 235.9 315.7 234.6C313.4 233.3 312.8 234.2 310.7 233.4C308.6 232.6 305.1 231.3 303.0 229.6C300.9 227.9 298.4 225.6 298.4 223.3C298.4 221.0 301.5 218.1 303.0 215.8C304.5 213.5 307.6 211.2 307.6 209.5C307.6 207.8 305.0 206.1 303.0 205.9C301.0 205.7 298.1 206.9 295.6 208.3C293.1 209.7 290.1 213.0 288.0 214.5C285.9 216.0 284.9 217.5 283.0 217.5C281.1 217.5 278.6 216.5 276.7 214.5C274.8 212.5 272.8 208.6 271.9 205.7C271.0 202.8 270.6 200.3 271.2 197.0C271.8 193.7 273.9 190.0 275.5 185.6C277.1 181.2 279.4 175.4 280.5 170.6C281.6 165.8 281.8 160.6 282.0 156.7C282.2 152.8 281.8 148.9 281.8 147.3" fill="none" stroke="#000" stroke-width="3.2" stroke-linecap="round" stroke-linejoin="round" />
<path d="M290 157.5L297.8 192L295.4 192.5Z" fill="#000" stroke="#000" stroke-width="2.4" stroke-linejoin="round"/>
<path d="M291.5 172.0C291.6 174.3 292.3 182.0 292.0 186.0C291.7 190.0 290.4 193.5 289.5 196.0C288.6 198.5 287.6 199.6 286.5 201.0C285.4 202.4 283.6 203.9 283.0 204.5" fill="none" stroke="#000" stroke-width="2.8" stroke-linecap="round" stroke-linejoin="round" />
<path d="M286.8 186.0C286.8 187.3 287.3 191.8 287.0 194.0C286.7 196.2 285.3 198.2 285.0 199.0" fill="none" stroke="#000" stroke-width="2.4" stroke-linecap="round" stroke-linejoin="round" />
<path d="M271.0 192.0C272.0 192.2 276.0 192.8 277.0 193.0" fill="none" stroke="#000" stroke-width="2.8" stroke-linecap="round" stroke-linejoin="round" />
<path d="M303.0 148.0C302.8 149.2 301.4 152.0 301.5 155.0C301.6 158.0 302.6 162.0 303.5 166.0C304.4 170.0 305.8 174.8 307.0 179.0C308.2 183.2 309.3 188.2 310.7 191.0C312.1 193.8 313.9 195.0 315.5 195.5C317.1 196.0 319.2 194.2 320.0 194.0" fill="none" stroke="#000" stroke-width="2.8" stroke-linecap="round" stroke-linejoin="round" />
<path d="M308.5 163.0C309.2 164.5 311.7 168.5 313.0 172.0C314.3 175.5 315.6 180.5 316.5 184.0C317.4 187.5 318.2 191.5 318.5 193.0" fill="none" stroke="#000" stroke-width="2.8" stroke-linecap="round" stroke-linejoin="round" />
<path d="M324.5 203.3C326.2 203.1 332.8 202.2 334.5 202.0" fill="none" stroke="#000" stroke-width="2.8" stroke-linecap="round" stroke-linejoin="round" />
<path d="M320.5 208.3C322.2 208.7 329.1 210.4 330.8 210.8" fill="none" stroke="#000" stroke-width="2.8" stroke-linecap="round" stroke-linejoin="round" />
<path d="M319.5 216.0C321.2 216.5 326.5 218.2 330.0 219.0C333.5 219.8 338.8 220.5 340.5 220.8" fill="none" stroke="#000" stroke-width="2.8" stroke-linecap="round" stroke-linejoin="round" />
<path d="M323 229.5L336 232.5L331 228.8Z" fill="#000" stroke="#000" stroke-width="2.4" stroke-linejoin="round"/>
<path d="M310.5 208.5C310.9 209.9 311.9 213.9 313.0 217.0C314.1 220.1 316.3 225.3 317.0 227.0" fill="none" stroke="#000" stroke-width="2.8" stroke-linecap="round" stroke-linejoin="round" />
<path d="M309.5 224.5C309.9 225.8 311.6 230.8 312.0 232.0" fill="none" stroke="#000" stroke-width="2.8" stroke-linecap="round" stroke-linejoin="round" />
<path d="M109.5 231.8C109.7 230.2 110.1 225.6 110.8 222.0C111.5 218.4 112.1 214.3 113.5 210.0C114.9 205.7 116.7 200.1 119.4 196.0C122.2 191.9 124.8 189.3 130.0 185.5C135.2 181.7 143.1 176.9 150.8 173.0C158.5 169.1 169.5 164.6 176.0 161.8C182.5 159.0 185.4 157.8 190.0 156.3C194.6 154.8 201.2 153.6 203.5 153.0" fill="none" stroke="#000" stroke-width="3.0" stroke-linecap="round" stroke-linejoin="round" />
<path d="M113.0 226.5C113.5 224.4 114.8 217.8 116.0 214.0C117.2 210.2 118.7 206.9 120.5 204.0C122.3 201.1 124.0 199.0 127.0 196.5C129.9 194.0 133.2 192.0 138.2 188.8C143.2 185.6 150.3 181.2 157.0 177.5C163.7 173.8 173.6 168.7 178.4 166.3C183.2 163.9 184.7 163.6 186.0 163.0" fill="none" stroke="#000" stroke-width="2.6" stroke-linecap="round" stroke-linejoin="round" />
<path d="M109.5 231.8C109.8 231.6 110.9 231.4 111.5 230.5C112.1 229.6 112.8 227.2 113.0 226.5" fill="none" stroke="#000" stroke-width="3.4" stroke-linecap="round" stroke-linejoin="round" />
<path d="M178.4 166.8C174.3 167.2 163.7 174.0 157.0 178.0C150.3 182.0 142.3 187.3 138.2 190.7C134.1 194.1 133.1 194.8 132.5 198.2C131.9 201.5 134.7 206.6 134.4 210.8C134.2 215.0 131.9 219.5 131.0 223.3C130.1 227.1 129.0 230.9 129.2 233.4C129.4 235.9 130.5 237.4 132.0 238.4C133.5 239.4 136.1 240.3 138.2 239.5C140.3 238.7 142.0 236.5 144.5 233.4C147.0 230.3 151.6 221.6 153.3 220.8C155.0 220.0 153.7 226.6 154.5 228.4C155.3 230.2 156.8 231.6 158.3 231.8C159.8 232.0 162.1 232.1 163.3 229.6C164.6 227.1 165.0 221.0 165.8 217.0C166.7 213.0 167.1 208.6 168.4 205.7C169.7 202.8 172.1 201.8 173.4 199.5C174.7 197.2 174.8 194.3 176.0 192.0C177.2 189.7 179.6 188.3 180.5 185.6C181.4 182.9 181.8 178.7 181.5 175.6C181.2 172.5 182.5 166.4 178.4 166.8Z" fill="#000" stroke="#000" stroke-width="1.5" stroke-linecap="round" stroke-linejoin="round" />
<path d="M171.5 203.5C171.1 204.9 170.0 206.6 169.3 212.0C168.6 217.4 167.2 229.5 167.3 236.0C167.4 242.5 168.4 247.3 169.8 251.0C171.2 254.7 173.9 257.1 176.0 258.3C178.1 259.5 180.8 259.9 182.2 258.3C183.6 256.7 183.9 253.3 184.5 248.5C185.1 243.7 186.0 234.8 185.8 229.6C185.6 224.3 183.4 220.9 183.4 217.0C183.4 213.1 184.8 208.9 185.8 206.0C186.8 203.1 188.9 200.8 189.5 199.8" fill="none" stroke="#000" stroke-width="3.0" stroke-linecap="round" stroke-linejoin="round" />
<path d="M173.5 199.5C174.5 199.3 177.6 198.8 179.7 198.6C181.8 198.4 184.4 198.0 186.0 198.2C187.6 198.4 188.9 199.5 189.5 199.8" fill="none" stroke="#000" stroke-width="3.0" stroke-linecap="round" stroke-linejoin="round" />
<path d="M203.5 153.0C204.6 152.3 207.6 149.5 210.0 148.8C212.4 148.1 215.5 148.0 218.0 148.6C220.5 149.2 223.1 150.7 225.0 152.5C226.9 154.3 228.6 157.2 229.5 159.5C230.4 161.8 230.3 164.9 230.5 166.0" fill="none" stroke="#000" stroke-width="3.0" stroke-linecap="round" stroke-linejoin="round" />
<path d="M184.0 193.0C186.0 192.8 192.0 192.2 196.0 191.5C200.0 190.8 204.3 189.8 208.0 188.5C211.7 187.2 215.2 185.2 218.0 183.5C220.8 181.8 223.2 179.9 225.0 178.0C226.8 176.1 228.3 173.0 229.0 172.0" fill="none" stroke="#000" stroke-width="2.8" stroke-linecap="round" stroke-linejoin="round" />
<path d="M204.0 157.5C205.2 157.8 208.8 158.0 211.0 159.0C213.2 160.0 215.5 161.8 217.0 163.5C218.5 165.2 219.5 168.1 220.0 169.0" fill="none" stroke="#000" stroke-width="3.0" stroke-linecap="round" stroke-linejoin="round" />
<path d="M201.0 164.5C202.0 164.8 205.2 165.4 207.0 166.5C208.8 167.6 210.8 170.2 211.5 171.0" fill="none" stroke="#000" stroke-width="2.8" stroke-linecap="round" stroke-linejoin="round" />
<path d="M198.0 171.5C199.0 171.9 202.4 172.9 204.0 174.0C205.6 175.1 206.9 177.3 207.5 178.0" fill="none" stroke="#000" stroke-width="2.8" stroke-linecap="round" stroke-linejoin="round" />
<path d="M192.0 177.0C193.2 177.5 197.0 178.9 199.0 180.0C201.0 181.1 203.2 182.9 204.0 183.5" fill="none" stroke="#000" stroke-width="2.6" stroke-linecap="round" stroke-linejoin="round" />
<path d="M187.0 184.5C188.2 184.8 192.0 185.8 194.0 186.0C196.0 186.2 198.2 185.6 199.0 185.5" fill="none" stroke="#000" stroke-width="2.6" stroke-linecap="round" stroke-linejoin="round" />
<path d="M226.3 93L206.5 152" stroke="#000" stroke-width="5.6" fill="none"/>
<path d="M226 94.5L207 150.5" stroke="#fff" stroke-width="1.3" fill="none"/>
<path d="M222.2 80.3L236.2 85.2M229.2 83L226.3 93" stroke="#000" stroke-width="3.2" fill="none"/>
<path d="M206.5 152L203.5 161" stroke="#000" stroke-width="3" fill="none"/>
<path d="M202.5 70.6L225.7 77M214.5 74L210.6 92" stroke="#000" stroke-width="3.3" fill="none"/>
<path d="M182.8 187L177.2 217" stroke="#000" stroke-width="3.1" fill="none"/>
<path d="M209.8 93L184 186" stroke="#f58ab0" stroke-width="8" fill="none"/>
<path d="M210.8 93.3L185 186.3" stroke="#ea2845" stroke-width="5.6" fill="none"/>
<path d="M228 186C222 203 208 216 192 222M228 186C226 206 216 220 201 229M229 186C231 204 224 219 213 228" fill="none" stroke="#ff0000" stroke-width="2.6"/>
<path d="M187 223.5L197 218.5L196.5 224.5ZM196.5 231.5L203 223L206 228.5ZM209.5 231L213 221.5L217.5 226.5Z" fill="#ff0000"/>
<text x="143.6" y="95.8" font-size="25.5" fill="#000" textLength="58.5" lengthAdjust="spacingAndGlyphs">CNO</text>
<text x="231.2" y="118.0" font-size="25.5" fill="#000" textLength="35.0" lengthAdjust="spacingAndGlyphs">KA</text>
<text x="218.6" y="181.3" font-size="25.5" fill="#ff0000" font-weight="bold" textLength="55.0" lengthAdjust="spacingAndGlyphs">SUB</text>
<text x="188.0" y="252.3" font-size="25.5" fill="#ff0000" font-weight="bold" textLength="54.8" lengthAdjust="spacingAndGlyphs">ANT</text>
<path d="M259.9 355.3C254.0 353.8 248.0 352.5 242.8 351.6C237.6 350.7 235.1 350.2 228.5 349.7C221.9 349.2 211.7 348.2 203.3 348.4C194.9 348.6 186.6 349.9 178.2 351.0C169.8 352.1 161.4 353.7 153.0 355.3C144.6 356.9 136.4 358.5 128.0 360.4C119.6 362.3 110.1 364.5 102.8 366.6C95.5 368.7 89.7 370.3 84.0 373.0C78.3 375.7 73.1 379.4 68.9 383.0C64.7 386.6 61.2 390.1 58.8 394.3C56.4 398.5 54.8 404.1 54.4 408.0C54.0 411.9 54.9 413.6 56.3 418.0C57.7 422.4 59.5 427.6 62.6 434.5C65.8 441.4 70.6 451.0 75.2 459.6C79.8 468.2 84.7 478.3 90.3 486.0C95.9 493.7 102.7 500.1 109.0 506.0C115.3 511.9 121.7 517.0 128.0 521.2C134.3 525.4 140.5 529.0 146.8 531.2C153.1 533.4 159.3 534.1 165.6 534.4C171.9 534.7 178.2 534.0 184.5 533.0C190.8 532.0 196.0 530.7 203.3 528.7C210.6 526.7 220.9 524.1 228.5 521.2C236.1 518.3 243.5 514.9 249.0 511.5C254.5 508.1 257.9 504.4 261.7 501.0C265.5 497.6 268.8 494.8 271.7 491.0C274.6 487.2 277.2 482.7 279.3 478.5C281.4 474.3 282.9 471.2 284.3 466.0C285.8 460.8 286.8 452.2 288.0 447.0C289.2 441.8 290.3 439.7 291.8 434.5C293.3 429.3 295.7 420.9 296.8 415.6C297.9 410.4 298.6 407.2 298.7 403.0C298.8 398.8 298.4 394.7 297.5 390.5C296.6 386.3 294.8 381.8 293.0 378.0C291.2 374.2 289.3 370.9 286.8 368.0C284.3 365.1 282.5 362.5 278.0 360.4C273.5 358.3 265.8 356.8 259.9 355.3Z" fill="none" stroke="#000" stroke-width="3.2" stroke-linecap="round" stroke-linejoin="round" />
<path d="M299.4 399.3C300.9 394.3 303.3 393.7 305.6 391.8C307.9 389.9 310.7 388.2 313.2 388.0C315.7 387.8 319.0 389.2 320.7 390.5C322.4 391.8 321.1 394.6 323.2 395.5C325.2 396.4 329.6 395.8 333.0 396.0C336.4 396.2 340.1 395.6 343.3 396.8C346.5 398.0 348.9 399.9 352.0 403.0C355.1 406.1 359.0 411.2 362.2 415.6C365.4 420.0 369.3 426.1 371.0 429.5C372.7 432.9 372.8 433.6 372.4 435.7C372.0 437.8 369.6 439.5 368.5 442.0C367.4 444.5 367.2 447.7 366.0 450.8C364.8 453.9 363.1 458.4 361.0 460.9C358.9 463.4 356.3 465.4 353.4 466.0C350.4 466.6 346.2 466.1 343.3 464.6C340.4 463.1 338.1 458.9 335.8 457.0C333.5 455.1 331.1 453.5 329.5 453.3C327.9 453.1 326.1 453.7 325.9 455.8C325.7 457.9 327.3 462.2 328.3 466.0C329.3 469.8 331.8 474.3 332.0 478.5C332.2 482.7 330.6 486.8 329.5 491.0C328.4 495.2 327.2 500.0 325.7 503.6C324.2 507.2 322.8 510.1 320.7 512.4C318.6 514.7 315.7 516.8 313.2 517.2C310.7 517.6 307.5 516.6 305.6 515.0C303.7 513.4 302.4 510.1 302.0 507.4C301.6 504.7 304.0 501.0 303.0 498.6C302.0 496.2 298.3 494.9 296.0 493.0C293.7 491.1 290.6 490.1 289.3 487.3C288.0 484.5 288.0 480.6 288.0 476.0C288.0 471.4 288.5 465.5 289.3 459.6C290.1 453.7 291.8 447.1 293.0 440.8C294.2 434.5 295.7 428.9 296.8 422.0C297.9 415.1 297.9 404.3 299.4 399.3Z" fill="none" stroke="#000" stroke-width="3.2" stroke-linecap="round" stroke-linejoin="round" />
<path d="M322.0 396.8C321.4 398.9 319.4 405.2 318.2 409.4C317.0 413.6 315.0 417.8 314.6 422.0C314.2 426.2 315.5 432.4 315.7 434.5" fill="none" stroke="#000" stroke-width="3.0" stroke-linecap="round" stroke-linejoin="round" />
<path d="M350.9 404.3C349.4 406.4 344.7 411.8 342.0 417.0C339.3 422.2 335.8 432.6 334.5 435.7" fill="none" stroke="#000" stroke-width="3.0" stroke-linecap="round" stroke-linejoin="round" />
<path d="M339.6 445.8C342.3 445.8 351.1 446.6 355.9 445.8C360.7 445.0 366.4 441.6 368.5 440.8" fill="none" stroke="#000" stroke-width="3.0" stroke-linecap="round" stroke-linejoin="round" />
<path d="M304.4 497.3C305.7 497.1 309.5 497.1 312.0 496.0C314.5 494.9 318.2 491.8 319.5 491.0" fill="none" stroke="#000" stroke-width="3.0" stroke-linecap="round" stroke-linejoin="round" />
<path d="M119.2 445.4C119.0 443.6 117.8 438.2 118.2 434.5C118.6 430.8 119.7 426.2 121.7 423.0C123.8 419.8 125.3 418.0 130.5 415.3C135.7 412.6 145.1 409.5 153.0 406.8C160.9 404.1 170.9 401.8 178.2 399.3C185.5 396.8 191.8 394.3 197.0 391.8C202.2 389.3 205.4 386.4 209.6 384.5C213.8 382.6 218.0 381.4 222.2 380.5C226.4 379.6 230.5 379.0 234.7 379.4C238.9 379.8 243.1 381.0 247.3 383.0C251.5 385.0 256.4 389.0 259.9 391.5C263.3 394.0 266.6 396.9 268.0 398.0" fill="none" stroke="#000" stroke-width="4.6" stroke-linecap="round" stroke-linejoin="round" />
<path d="M160 407.6L178.5 407.8C186 405 192 399 197.5 394.5C184 400.5 172 404.5 160 407.6Z" fill="#fff" stroke="#000" stroke-width="1.4" stroke-linejoin="round"/>
<path d="M187.0 408.0C186.0 413.1 187.7 421.7 188.3 428.2C188.9 434.7 190.5 441.1 190.8 447.0C191.1 452.9 189.9 459.2 190.1 463.4C190.3 467.6 190.6 469.1 192.0 472.2C193.4 475.3 195.8 479.3 198.3 482.2C200.8 485.1 204.4 488.1 207.1 489.8C209.8 491.5 212.7 492.5 214.6 492.3C216.5 492.1 217.6 490.8 218.4 488.5C219.2 486.2 220.1 482.2 219.7 478.5C219.3 474.8 217.6 469.8 215.9 466.0C214.2 462.2 211.7 458.8 209.6 455.8C207.5 452.9 204.8 451.2 203.3 448.3C201.8 445.4 201.0 441.7 200.8 438.3C200.6 434.9 201.5 432.0 202.1 428.2C202.7 424.4 203.8 419.8 204.6 415.6C205.4 411.4 205.8 407.0 207.1 403.0C208.3 399.0 212.7 393.8 212.1 391.8C211.5 389.8 206.2 390.1 203.3 391.0C200.4 391.9 197.2 394.7 194.5 397.5C191.8 400.3 188.0 402.9 187.0 408.0Z" fill="#000" stroke="#000" stroke-width="1.5" stroke-linecap="round" stroke-linejoin="round" />
<path d="M208.9 396.8C209.9 395.8 212.1 392.2 215.2 390.5C218.3 388.8 223.5 387.1 227.7 386.7C231.9 386.3 236.5 387.3 240.3 388.0C244.1 388.7 248.7 390.3 250.4 390.8" fill="none" stroke="#000" stroke-width="3.0" stroke-linecap="round" stroke-linejoin="round" />
<path d="M207.6 403.0C207.6 404.7 207.0 409.8 207.6 413.0C208.2 416.2 209.7 420.0 211.4 422.0C213.1 424.0 215.6 424.2 217.7 425.0C219.8 425.8 222.1 425.4 224.0 427.0C225.9 428.6 227.8 431.2 229.0 434.5C230.2 437.8 231.3 443.2 231.5 447.0C231.7 450.8 231.1 454.1 230.3 457.0C229.5 459.9 227.8 462.7 226.5 464.6C225.2 466.5 223.3 466.5 222.7 468.4C222.1 470.3 222.1 473.5 222.7 476.0C223.3 478.5 224.8 481.0 226.5 483.5C228.2 486.0 230.5 488.9 232.8 491.0C235.1 493.1 237.8 495.1 240.3 496.0C242.8 496.9 245.3 497.1 247.8 496.7C250.3 496.3 252.9 495.3 255.4 493.5C257.9 491.7 260.8 488.9 262.9 486.0C265.0 483.1 267.1 477.7 268.0 476.0" fill="none" stroke="#000" stroke-width="3.0" stroke-linecap="round" stroke-linejoin="round" />
<path d="M227.0 411.9C228.6 412.2 233.2 412.6 236.5 413.8C239.8 415.1 243.4 416.8 246.6 419.4C249.8 422.0 253.1 425.9 255.4 429.5C257.7 433.1 259.3 437.1 260.4 440.8C261.4 444.6 262.1 448.5 261.7 452.0C261.3 455.5 259.8 459.1 257.9 462.0C256.0 464.9 253.3 468.0 250.4 469.7C247.5 471.4 242.0 471.8 240.3 472.2" fill="none" stroke="#000" stroke-width="3.0" stroke-linecap="round" stroke-linejoin="round" />
<path d="M236.7 330L249.8 402.5" stroke="#000" stroke-width="5.2" fill="none"/>
<path d="M237 331.5L249.2 399" stroke="#fff" stroke-width="1.2" fill="none"/>
<path d="M227 319.6L241.8 317M235.2 318.5L236.7 330" stroke="#000" stroke-width="3.1" fill="none"/>
<path d="M246.4 296.6L269.4 292M257.8 294.5L261.6 313" stroke="#000" stroke-width="3.2" fill="none"/>
<path d="M279 400L284.5 433.5" stroke="#000" stroke-width="3" fill="none"/>
<path d="M262.6 312.6L279.8 399.4" stroke="#f58ab0" stroke-width="8" fill="none"/>
<path d="M261.6 312.8L278.8 399.6" stroke="#ea2845" stroke-width="5.6" fill="none"/>
<path d="M263.5 418C262 428 266 436 273 441M270.5 419C269 428 273 437 279.5 442" fill="none" stroke="#ff0000" stroke-width="2.4"/>
<path d="M274.5 443.5L265.5 438L270 436ZM281.5 444.5L273 437.5L277.5 436Z" fill="#ff0000"/>
<text x="192.8" y="340.3" font-size="25.5" fill="#000" textLength="34.5" lengthAdjust="spacingAndGlyphs">KA</text>
<text x="281.4" y="347.3" font-size="25.5" fill="#000" textLength="58.8" lengthAdjust="spacingAndGlyphs">CNO</text>
<text x="241.0" y="417.6" font-size="25.5" fill="#ff0000" font-weight="bold" textLength="54.8" lengthAdjust="spacingAndGlyphs">SUB</text>
<text x="267.4" y="468.5" font-size="25.5" fill="#ff0000" font-weight="bold" textLength="34.8" lengthAdjust="spacingAndGlyphs">EC</text>
<text x="86.0" y="582.3" font-size="37" fill="#000" font-weight="bold" textLength="283.5" lengthAdjust="spacingAndGlyphs">Wild-type mice</text>
<g clip-path="url(#cb1)"><rect x="399" y="86" width="236" height="236" fill="#0b0840"/><rect x="399" y="86" width="236" height="236" filter="url(#nb1)" opacity="0.8"/><path d="M440 80C480 78 540 78 625 82C610 110 600 130 595 150C570 150 545 160 525 180C505 200 495 220 490 245C480 280 470 300 465 335L410 335C425 280 440 230 455 190C465 150 450 120 440 80Z" fill="#2c0a4c" opacity="0.75" filter="url(#bl20)"/><path d="M565 92C580 105 592 122 598 146C585 147 572 150 560 156C562 135 564 112 565 92Z" fill="#5e1256" opacity="0.85" filter="url(#bl8)"/><path d="M450 215C442 245 435 280 430 318" stroke="#400c4a" stroke-width="22" fill="none" opacity="0.7" filter="url(#bl12)"/><path d="M550 99C528 106 508 121 491 141C476 159 462 179 452 200C448 210 450 220 458 224L482 231C489 213 500 196 514 181C530 165 548 153 566 147C578 143 586 138 588 128C590 113 574 96 550 99Z" fill="url(#gb1)" opacity="0.95" filter="url(#bl8)"/><ellipse cx="549" cy="118" rx="24" ry="15" transform="rotate(-38 549 118)" fill="#dc1840" opacity="0.8" filter="url(#bl8)"/><path d="M520 140C505 155 490 175 478 198" stroke="#b81440" stroke-width="14" fill="none" opacity="0.6" filter="url(#bl5)"/><path d="M564 150C545 160 526 180 512 208" stroke="#d41842" stroke-width="6" fill="none" opacity="0.7" filter="url(#bl3)"/><path d="M608 128C598 160 594 190 600 218C606 245 618 275 634 306" fill="none" stroke="#101c80" stroke-width="12" opacity="0.5" filter="url(#bl5)"/><g clip-path="url(#cb1t)"><rect x="399" y="86" width="236" height="236" filter="url(#nb1t)" opacity="0.55"/></g><path d="M560 94C585 91 605 90 628 88" fill="none" stroke="#1a1a80" stroke-width="4" opacity="0.6" filter="url(#bl3)"/><path d="M640 80L628 80C622 100 618 118 612 134C618 140 624 150 622 165C618 185 618 200 624 215C629 240 633 265 640 290Z" fill="#000" filter="url(#bl2)"/><path d="M395 82L422 82C410 90 402 100 395 116Z" fill="#000" filter="url(#bl3)"/><ellipse cx="614" cy="182" rx="3" ry="6" fill="#02020c" filter="url(#bl2)"/><ellipse cx="616" cy="204" rx="3" ry="5" fill="#02020c" filter="url(#bl2)"/><ellipse cx="610" cy="228" rx="3" ry="6" fill="#02020c" filter="url(#bl2)"/><ellipse cx="618" cy="252" rx="3" ry="7" fill="#02020c" filter="url(#bl2)"/><ellipse cx="624" cy="277" rx="2.5" ry="5" fill="#02020c" filter="url(#bl2)"/><ellipse cx="608" cy="155" rx="2.5" ry="4" fill="#02020c" filter="url(#bl2)"/><ellipse cx="603" cy="196" rx="2" ry="4" fill="#02020c" filter="url(#bl2)"/><ellipse cx="606" cy="250" rx="2" ry="4" fill="#02020c" filter="url(#bl2)"/><path d="M432 204C443 184 458.6 163.6 476.6 142C495 121 516 103 537 94C548 91 558 90.5 568.5 91.6" fill="none" stroke="#fff" stroke-width="1.3" stroke-dasharray="11 9" opacity="0.95"/><path d="M491 235.6C493 222 498 210 503 202C516 182 536 162 557 148C568 143 580 140.5 589.5 139.8" fill="none" stroke="#fff" stroke-width="1.3" stroke-dasharray="11 9" opacity="0.95"/><rect x="618.7" y="312.6" width="9" height="3.2" fill="#fff"/></g>
<text x="507.0" y="139.2" font-size="23" fill="#fff" textLength="50.2" lengthAdjust="spacingAndGlyphs">SUB</text>
<text x="450.0" y="200.0" font-size="23" fill="#fff" textLength="44.8" lengthAdjust="spacingAndGlyphs">CA1</text>
<text x="534.4" y="198.6" font-size="23" fill="#fff" textLength="36.8" lengthAdjust="spacingAndGlyphs">DG</text>
<g clip-path="url(#cb2)"><rect x="645" y="87" width="315" height="237" fill="#4e0000"/><path d="M640 105L770 150L835 230L845 330L640 330Z" fill="#8c0000" opacity="0.95" filter="url(#bl20)"/><path d="M890 140L965 140L965 230L860 240Z" fill="#600000" opacity="0.6" filter="url(#bl12)"/><path d="M655 120C700 112 742 130 767 168C787 198 800 230 812 260C822 285 828 310 832 335L772 335C752 300 720 270 700 240C680 205 668 165 650 135Z" fill="#c00400" opacity="0.9" filter="url(#bl12)"/><path d="M700 185C722 220 750 256 784 290C802 308 817 325 822 340L790 340C770 315 738 285 720 255C706 232 696 208 690 186Z" fill="#ee0c04" opacity="0.85" filter="url(#bl8)"/><path d="M782 272C796 288 810 306 822 330L802 330C796 312 784 296 774 284Z" fill="#ff1a0c" filter="url(#bl5)"/><path d="M765 215C780 235 795 250 810 262" stroke="#e00c04" stroke-width="10" fill="none" opacity="0.6" filter="url(#bl5)"/><g clip-path="url(#cb2f)" opacity="0.5"><g transform="rotate(58 740 220)"><rect x="545" y="-13" width="515" height="437" filter="url(#nb2f)"/></g></g><ellipse cx="773.5" cy="301" rx="4" ry="2.6" fill="#ff6a10" filter="url(#bl1)"/><ellipse cx="740" cy="330" rx="48" ry="30" fill="#3c0000" opacity="0.97" filter="url(#bl8)"/><path d="M640 140C652 200 664 250 690 300L700 335L640 335Z" fill="#540000" opacity="0.8" filter="url(#bl12)"/><path d="M834 98C850 90 870 92 880 108C890 135 893 160 882 190C868 210 848 224 834 234C820 220 814 200 815 180C813 160 818 128 834 98Z" fill="#500000" opacity="0.9" filter="url(#bl5)"/><ellipse cx="848" cy="152" rx="16" ry="12" fill="#300000" opacity="0.8" filter="url(#bl8)"/><rect x="645" y="87" width="315" height="237" filter="url(#nb2)" opacity="0.4"/><rect x="645" y="87" width="315" height="237" filter="url(#nb2d)" opacity="0.45"/><path d="M640 80L640 111C655 113 668 117 678 112C690 106 705 104 722 108C738 113 750 128 758 146C765 162 772 178 784 186C796 192 806 184 812 172C820 152 826 124 834 102C840 92 856 88 872 93C884 98 888 110 890 124C891 134 896 137.5 910 137.5L965 137.5L965 80Z" fill="#000" filter="url(#bl2)"/><path d="M645 97C670 95 695 92 722 88" stroke="#520000" stroke-width="8" fill="none" filter="url(#bl2)"/><ellipse cx="875.5" cy="121" rx="4" ry="7" transform="rotate(-25 875.5 121)" fill="#0c0000" filter="url(#bl2)"/><ellipse cx="887.5" cy="160" rx="3" ry="8" transform="rotate(-5 887.5 160)" fill="#0c0000" filter="url(#bl2)"/><ellipse cx="856" cy="194.5" rx="6" ry="3.5" transform="rotate(-35 856 194.5)" fill="#0c0000" filter="url(#bl2)"/><circle cx="809.5" cy="162" r="2.6" fill="#ff1008" filter="url(#bl1)"/><path d="M772.4 87V181.5H802.4V87" fill="none" stroke="#fff" stroke-width="1.7" stroke-dasharray="11.5 6.5"/><rect x="917.2" y="312.2" width="33" height="3.6" fill="#fff"/></g>
<text x="895.0" y="120.8" font-size="24.5" fill="#fff" textLength="49.5" lengthAdjust="spacingAndGlyphs">D3V</text>
<text x="727.0" y="201.3" font-size="24.5" fill="#fff" textLength="33.5" lengthAdjust="spacingAndGlyphs">AV</text>
<text x="807.5" y="188.3" font-size="24.5" fill="#fff" textLength="37.0" lengthAdjust="spacingAndGlyphs">AD</text>
<text x="764.0" y="264.0" font-size="24.5" fill="#fff" textLength="40.0" lengthAdjust="spacingAndGlyphs">AM</text>
<g clip-path="url(#cb3)"><rect x="399" y="333" width="236" height="236" filter="url(#nb3)"/><path d="M640 400L640 575L480 575C540 540 600 480 640 400Z" fill="#80a020" opacity="0.28" filter="url(#bl20)"/><path d="M395 330L520 330C480 380 440 420 395 450Z" fill="#d04010" opacity="0.22" filter="url(#bl20)"/><ellipse cx="450.2" cy="473" rx="4" ry="7" transform="rotate(-10 450.2 473)" fill="#2a0a00" opacity="0.9" filter="url(#bl2)"/><ellipse cx="428" cy="455" rx="8" ry="5" transform="rotate(15 428 455)" fill="#2a0a00" opacity="0.85" filter="url(#bl2)"/><ellipse cx="498.7" cy="507" rx="4" ry="8" transform="rotate(-20 498.7 507)" fill="#2a0a00" opacity="0.9" filter="url(#bl2)"/><ellipse cx="474.5" cy="365" rx="5" ry="6" transform="rotate(0 474.5 365)" fill="#2a0a00" opacity="0.8" filter="url(#bl2)"/><ellipse cx="626.8" cy="392" rx="5" ry="6" transform="rotate(0 626.8 392)" fill="#2a0a00" opacity="0.7" filter="url(#bl2)"/><ellipse cx="605" cy="468" rx="4" ry="6" transform="rotate(0 605 468)" fill="#2a0a00" opacity="0.7" filter="url(#bl2)"/><ellipse cx="633.5" cy="460" rx="4" ry="7" transform="rotate(0 633.5 460)" fill="#2a0a00" opacity="0.8" filter="url(#bl2)"/><ellipse cx="555" cy="499" rx="8" ry="8" transform="rotate(0 555 499)" fill="#2a0a00" opacity="0.55" filter="url(#bl2)"/><ellipse cx="588" cy="491" rx="6" ry="7" transform="rotate(0 588 491)" fill="#2a0a00" opacity="0.6" filter="url(#bl2)"/><ellipse cx="412" cy="470" rx="8" ry="4" transform="rotate(0 412 470)" fill="#2a0a00" opacity="0.8" filter="url(#bl2)"/><ellipse cx="542.5" cy="442.8" rx="13.5" ry="12" fill="#16b040" stroke="#3cf04c" stroke-width="5" opacity="1.0" filter="url(#bl2)"/><ellipse cx="411" cy="336" rx="12" ry="11" fill="#20a028" stroke="#3cc83c" stroke-width="4" opacity="0.9" filter="url(#bl2)"/><ellipse cx="407" cy="512" rx="11" ry="17" fill="#28b030" stroke="#44e044" stroke-width="5" opacity="0.95" filter="url(#bl2)"/><ellipse cx="618.7" cy="537.8" rx="12" ry="13.2" fill="#2c5014" stroke="#50dc50" stroke-width="3.6" opacity="0.95" filter="url(#bl2)"/><ellipse cx="597" cy="521.5" rx="13" ry="11" fill="#3a2c10" stroke="#60b040" stroke-width="3.2" opacity="0.85" filter="url(#bl2)"/><ellipse cx="458.3" cy="411" rx="11.5" ry="14.5" fill="#70b838" stroke="#d8e038" stroke-width="5" opacity="0.95" filter="url(#bl2)"/><ellipse cx="442" cy="401.7" rx="7" ry="11" fill="#f04020" stroke="#f83c20" stroke-width="3" opacity="0.95" filter="url(#bl2)"/><ellipse cx="536.5" cy="346.5" rx="8" ry="9" fill="#c83818" stroke="#e89030" stroke-width="3.5" opacity="0.95" filter="url(#bl2)"/><ellipse cx="521.6" cy="417.2" rx="10" ry="9.5" fill="#5c2810" stroke="#e8b838" stroke-width="3.6" opacity="0.95" filter="url(#bl2)"/><ellipse cx="587.7" cy="427.3" rx="9" ry="8.5" fill="#6a3010" stroke="#f09c34" stroke-width="3.6" opacity="0.95" filter="url(#bl2)"/><ellipse cx="535" cy="474.5" rx="9.5" ry="12.5" fill="#6e5418" stroke="#c8d838" stroke-width="3.2" opacity="0.95" filter="url(#bl2)"/><ellipse cx="559.4" cy="478.5" rx="9" ry="10" fill="#c8c030" stroke="#d8d838" stroke-width="3" opacity="0.85" filter="url(#bl2)"/><ellipse cx="490.6" cy="485.3" rx="8" ry="11" fill="#d84820" stroke="#f06830" stroke-width="3" opacity="0.95" filter="url(#bl2)"/><ellipse cx="516.2" cy="502.8" rx="11" ry="10.5" fill="#3a3410" stroke="#a8d844" stroke-width="3.2" opacity="0.95" filter="url(#bl2)"/><ellipse cx="411" cy="450" rx="11" ry="10" fill="#701c0c" stroke="#e07c2c" stroke-width="3.6" opacity="0.95" filter="url(#bl2)"/><ellipse cx="609" cy="482.6" rx="6.5" ry="12" fill="#a8d838" stroke="#b4e444" stroke-width="3" opacity="0.85" filter="url(#bl2)"/><ellipse cx="444.8" cy="550" rx="8" ry="9.5" fill="#6a2410" stroke="#e8882c" stroke-width="3.4" opacity="0.95" filter="url(#bl2)"/><ellipse cx="493.3" cy="364" rx="8" ry="7.5" fill="#90b030" stroke="#a0c038" stroke-width="3" opacity="0.7" filter="url(#bl2)"/><ellipse cx="572.9" cy="399" rx="6" ry="6" fill="#d8c030" stroke="#dcd034" stroke-width="3" opacity="0.85" filter="url(#bl2)"/><ellipse cx="457" cy="337" rx="9" ry="5" fill="#e4a430" stroke="#ecb434" stroke-width="3" opacity="0.85" filter="url(#bl2)"/><ellipse cx="589" cy="366.7" rx="8" ry="10" fill="#4a3410" stroke="#6c7020" stroke-width="3" opacity="0.75" filter="url(#bl2)"/><ellipse cx="455.6" cy="364" rx="6" ry="7" fill="#ec6424" stroke="#ec6424" stroke-width="3" opacity="0.8" filter="url(#bl2)"/><ellipse cx="500" cy="400.4" rx="5" ry="6" fill="#ec7428" stroke="#ec7428" stroke-width="3" opacity="0.8" filter="url(#bl2)"/><circle cx="413" cy="452" r="3" fill="#f04020" filter="url(#bl1)"/><path d="M575 505C560 518 538 534 515 548C503 556 495 563 490 574L560 574C540 566 555 548 580 528Z" fill="#1c0600" opacity="0.95" filter="url(#bl3)"/><path d="M560 526C550 533 540 540 530 546" stroke="#ff3820" stroke-width="2.6" stroke-dasharray="3 2" fill="none"/><rect x="468.4" y="554.4" width="157.7" height="4.2" fill="#fff"/></g>
<text x="406.0" y="357.4" font-size="25.5" fill="#f0183c" textLength="101.5" lengthAdjust="spacingAndGlyphs" opacity="0.92">mCherry</text>
<text x="406.0" y="389.4" font-size="25.5" fill="#00a060" textLength="87.5" lengthAdjust="spacingAndGlyphs" opacity="0.95">CaMKII</text>
<g clip-path="url(#cb4)"><rect x="645" y="332" width="315" height="237" fill="#460000"/><path d="M770 330L965 330L965 470C900 465 850 440 805 400C785 380 775 355 770 330Z" fill="#680000" opacity="0.8" filter="url(#bl20)"/><path d="M930 380L965 380L965 470L920 460Z" fill="#7a0000" opacity="0.6" filter="url(#bl12)"/><path d="M720 500L965 480L965 575L700 575Z" fill="#340000" opacity="0.7" filter="url(#bl20)"/><rect x="640" y="330" width="30" height="250" fill="#380000" opacity="0.7" filter="url(#bl12)"/><path d="M640 325L700 325L690 370L640 400Z" fill="#300000" opacity="0.7" filter="url(#bl12)"/><path d="M722 395C732 410 734 430 727 455C722 480 718 500 714 530L690 530C690 505 694 475 698 452C702 430 708 410 714 395Z" fill="#980000" opacity="0.95" filter="url(#bl12)"/><ellipse cx="703" cy="480" rx="11" ry="22" fill="#e00c04" opacity="0.9" filter="url(#bl8)"/><g mask="url(#mk4f)" opacity="0.4"><g transform="rotate(-55 800 450)"><rect x="495" y="182" width="615" height="537" filter="url(#nb4f)"/></g></g><rect x="645" y="332" width="315" height="237" filter="url(#nb4)" opacity="0.4"/><rect x="645" y="332" width="315" height="237" filter="url(#nb4d)" opacity="0.45"/><path d="M700 325C708 338 714 350 720 362C726 374 734 380 742 378C750 374 754 360 760 348C764 340 772 334 784 328Z" fill="#000" opacity="0.95" filter="url(#bl3)"/><rect x="720" y="330" width="27" height="40" fill="#000" filter="url(#bl2)"/><g mask="url(#mk4s)"><rect x="645" y="332" width="315" height="237" filter="url(#nb4s)"/></g><rect x="722" y="330" width="23" height="36" fill="#000" filter="url(#bl2)"/><ellipse cx="793" cy="549" rx="9" ry="8" fill="#000" filter="url(#bl5)"/><ellipse cx="780" cy="556" rx="8" ry="6" fill="#100000" opacity="0.7" filter="url(#bl5)"/><path d="M718.2 332V375.4H747.8V332" fill="none" stroke="#fff" stroke-width="1.7" stroke-dasharray="11.5 6.5" stroke-dashoffset="5"/><rect x="917.2" y="556.2" width="33" height="3.6" fill="#fff"/></g>
<text x="651.0" y="378.4" font-size="24.5" fill="#fff" textLength="38.5" lengthAdjust="spacingAndGlyphs">Ect</text>
<text x="903.6" y="404.6" font-size="24.5" fill="#fff" textLength="49.5" lengthAdjust="spacingAndGlyphs">PaS</text>
<text x="651.0" y="468.7" font-size="24.5" fill="#fff" textLength="54.0" lengthAdjust="spacingAndGlyphs">LEnt</text>
<text x="651.0" y="556.0" font-size="24.5" fill="#fff" textLength="62.5" lengthAdjust="spacingAndGlyphs">MEnt</text>
<path d="M1075.2 65.3H1852" stroke="#000" stroke-width="3.1" fill="none"/>
<path d="M1339.3 45V65.3M1594.2 45V65.3" stroke="#000" stroke-width="2.6" fill="none"/>
<path d="M1873.6 65.3L1850.6 59.3V71.3Z" fill="#000"/>
<text x="1145.2" y="52.6" font-size="31" fill="#000" textLength="97.5" lengthAdjust="spacingAndGlyphs">3 Days</text>
<text x="1430.0" y="52.6" font-size="31" fill="#000" textLength="97.5" lengthAdjust="spacingAndGlyphs">3 Days</text>
<text x="1673.3" y="52.6" font-size="31" fill="#000" textLength="97.5" lengthAdjust="spacingAndGlyphs">3 Days</text>
<text x="1150.5" y="101.0" font-size="31" fill="#000" textLength="87.5" lengthAdjust="spacingAndGlyphs">Saline</text>
<text x="1444.5" y="101.0" font-size="31" fill="#000" textLength="69.0" lengthAdjust="spacingAndGlyphs">CNO</text>
<text x="1678.4" y="101.0" font-size="31" fill="#000" textLength="87.5" lengthAdjust="spacingAndGlyphs">Saline</text>
<text x="997.5" y="212.9" font-size="34.5" fill="#000" font-weight="bold" textLength="44.5" lengthAdjust="spacingAndGlyphs">FS</text>
<text x="978.5" y="426.6" font-size="34.5" fill="#000" font-weight="bold" textLength="72.0" lengthAdjust="spacingAndGlyphs">sGS</text>
<text x="1173.3" y="275.8" font-size="30.5" fill="#000" textLength="70.5" lengthAdjust="spacingAndGlyphs">Base</text>
<text x="1574.5" y="271.4" font-size="30.5" fill="#000" textLength="107.0" lengthAdjust="spacingAndGlyphs">Seizure</text>
<path d="M1165 227L1065.4 284.7M1233.2 227L1359.5 272.3M1574 239.6L1494.4 284M1666 240L1787.3 271.7M1399.6 448.8L1300 506.7M1453 447.3L1593.3 492.8" stroke="#000" stroke-width="3.2" fill="none" stroke-dasharray="16 12.5" stroke-dashoffset="8"/>
<path d="M1635.5 346.2H1711.5M1635.5 563.1H1711.5" stroke="#000" stroke-width="3.2" fill="none"/>
<text x="1656.0" y="374.0" font-size="27" fill="#000" textLength="35.0" lengthAdjust="spacingAndGlyphs">2 s</text>
<text x="1656.0" y="590.8" font-size="27" fill="#000" textLength="35.0" lengthAdjust="spacingAndGlyphs">2 s</text>
<path d="M1925.4 241V319.8H1996M1914 476V529.6H1996" stroke="#000" stroke-width="3.2" fill="none"/>
<text x="1853.0" y="290.0" font-size="27" fill="#000" textLength="60.0" lengthAdjust="spacingAndGlyphs">1 mV</text>
<text x="1943.5" y="358.0" font-size="27" fill="#000" textLength="34.5" lengthAdjust="spacingAndGlyphs">5 s</text>
<text x="1843.5" y="511.8" font-size="27" fill="#000" textLength="61.0" lengthAdjust="spacingAndGlyphs">1 mV</text>
<text x="1928.5" y="557.2" font-size="27" fill="#000" textLength="50.0" lengthAdjust="spacingAndGlyphs">20 s</text>
<path d="M1061.5 202.3v-12.2l1 -0.9v12l1 4.4v-10.7l1 3v9.5l1 -2.3v-15.8l1 2v17.1l1 -2v-11l1 -1.4v11.2l1 -1.4v-6.9l1 -7.3v15.9l1 0v-9.7l1 -8.6v10.1l1 14.4v-26l1 10.7v8l1 -4.7v-12l1 6.8v5.8l1 4.1v-17.9l1 4.5v12.9l1 -4.4v-19.8l1 14.2v4.4l1 0.1v-9.9l1 -0.6v6.5l1 14.8v-16.2l1 -5.6v7.2l1 0.1v-4.7l1 -11.4v14.6l1 12.5v-35.7l1 6.5v13.8l1 7v-26.5l1 19v8.2l1 10.2v-21.9l1 -1.9v17.8l1 -3.1v-10.1l1 -2.8v17.6l1 1.4v-17.2l1 -0.4v11.2l1 0.6v-12.4l1 10.5v0.9l1 2.5v-5l1 -4.8v7l1 1.2v-22.4l1 18v7.6l1 -2.8v-2l1 -13.5v23.3l1 -8.7v-14.3l1 8.6v5.3l1 11.3v-19l1 -4.9v13.3l1 4.2v-12.9l1 -1.9v10.7l1 9.3v-16l1 2.8v3.6l1 -0.3v-9.2l1 2.5v6.9l1 11.5v-11.2l1 -9.1v7l1 2.1v-3.8l1 -3.4v12.5l1 -8.4v-7.1l1 -0.7v11.9l1 -4.4v-6.3l1 6.9v5.8l1 2.9v-17.6l1 8v3l1 -0.3v-8.3l1 -14.9v26.6l1 2.9v-14.5l1 5.6v16.4l1 -6.5v-17.5l1 4.5v8.8l1 0.2v-6.8l1 -4.5v9.7l1 1.2v-15.7l1 2.2v16.5l1 -0.7v-4.1l1 -4.1v23.9l1 -15v-15.4l1 5.3v6.7l1 3.5v-12.3l1 -5.6v12.8l1 6v-18.4l1 8.4v17.5l1 -11.5v-5.6l1 1v11.5l1 -8.7v-17.5l1 11.4v7.3l1 -1.4v-7.9l1 -9.3v15.3l1 1.7v-14l1 5.5v7.1l1 3.2v-7.8l1 -0.6v19.9l1 -16.4v-17.6l1 8.9v11.6l1 1v-8.2l1 7.5v3.4l1 0.6v-10.1l1 -2.6v11.8l1 -0.9v-12.1l1 0.5v12.5l1 -2.1v-19.1l1 11.6v16.9l1 -7.1v-6l1 -7v11.9l1 -1.4v-12.4l1 6v3.7l1 1.4v-5.8l1 -12.3v24.5l1 3.4v-13l1 -2.3v9.6l1 -2v-10.9l1 2v5.7l1 3.4v-16.6l1 12.8v4.7l1 1.8v-5.7l1 -7.7v5.6l1 2.4v-10.1l1 8v19.4l1 -4.3v-14.6l1 -5.1v6.5l1 7.2v-12l1 -8.7v22.2l1 -10.3v-6.2l1 -11.6v24.3l1 -1.6v-17.3l1 13.4v6.7l1 -4.1v-14.1l1 12.5v7.4l1 -1.5v-8.7l1 -11.1v13.8l1 0.1v-11.5l1 0v10.4l1 1.7v-16.3l1 8.1v3.2l1 1.5v-13.4l1 4.4v14.6l1 -1.1v-12l1 10.9v8.1l1 1.4v-28.1l1 18.7v8.7l1 -8.3v-5.3l1 -11.4v15.5l1 7.2v-14.3l1 -8.3v24.9l1 -3.6v-17.2l1 -2.9v16.3l1 -5.3v-8.3l1 5.1v8.7l1 1.5v-10.9l1 -9.1v19.5l1 -0.2v-8.6l1 -7v10.5l1 1.1v-8l1 2.4v12.7l1 -1.4v-10.5l1 -1v10.6l1 -1.9v-4.1l1 -1.1v7l1 8.7v-16.6l1 4v7.1l1 2.1v-15.9l1 -2.8v14.9l1 -2.4v-8l1 5.3v11.7l1 -1.1v-11.6l1 -12.3v20l1 6.4v-15.5l1 -6.6v17.5l1 -0.8v-13l1 -17.3v28.4l1 -4.4v-8.1l1 -1.7v10.2l1 6.4v-9.5l1 -2.7v15.7l1 -9.6v-2.9l1 -7.3v9l1 6.3v-9.3l1 -7v12.6l1 0.3v-14.6l1 4v26.2l1 -16.4v-15.4l1 10.9v25.3l1 -27.1v-8l1 4.1v9.9l1 -1.5v-4.8l1 -8.7v19.4l1 8.5v-32.2l1 3.9v14.9l1 -5.6v-3.8l1 -0.9v6.5l1 0.9v-5.6l1 -0.8v12.4l1 -3.3v-5.9l1 -4.8v6l1 -2v-4.5l1 3.8v9.3l1 3.9v-54l1 43.1v18.6l1 -13.9v-7.3l1 -6.2v11l1 13.2v-17.7l1 -8.1v8.8l1 1.1v-29.5l1 23.8v7.9l1 2v-24.4l1 15.8v17.6l1 -6.5v-5.8l1 2.7v11.5l1 -8.2v-5.8l1 -6.2v13.1l1 -2.2v-2.1l1 -14.7v14.7l1 -0.1v-13.5l1 -5.7v22.3l1 10.4v-32.1l1 12.5v13.8l1 -2.8v-13.4l1 0.6v13.8l1 7.9v-26.4l1 0.2v21.8l1 0.1v-12.3l1 -10.9v13l1 12.5v-20.9l1 0.3v3.5l1 5.2v-11.9l1 -2.7v28.6l1 -8.5v-15.2l1 0.7v9.5l1 -2.9v-8.3l1 -0.5v7l1 8.4v-31.6l1 3.4v31.4l1 4.4v-19.3l1 -1.2v13.4l1 1.8v-16.8l1 -4.7v14.2l1 0.3v-16.3l1 5.9v8.5l1 20.3v-29.6l1 -2.4v22.4l1 -1.1v-12.9l1 -7.6v23.3l1 -10.7v-8.6l1 3.2v1.9l1 5.7v-18.8l1 7.8v5.7l1 11.2v-26.1l1 7.8v12.1l1 8.1v-14.4l1 0.3v5.7l1 2.9v-3.5l1 1.8v13.2l1 -4.3v-15.7l1 -6.5v17.2l1 5.9v-18.7l1 0.3v25.3l1 -9.7v-14l1 4.7v12.6l1 18.4v-28.1l1 0.6v34.1l1 -29.4v-11.7l1 -2.1v10.1l1 6v-11.1l1 -2v3.5l1 32.1v-41.7l1 1.5v9.4l1 -3v-9l1 -6.2v25.1l1 -5.2v-11.4l1 1.8v12.1l1 2.5v-36.4l1 16.6v9.2l1 1.5v-17.9l1 2.3v20.9l1 -2.5v-21.9l1 10.1v16.6l1 -0.4v-25.3l1 8.6v20.9l1 -12.1v-10.5l1 1.4v22.8l1 15.3v-28l1 -24v28.6l1 -1.7v-14.7l1 7.6v10.2l1 -3.7v-9.5l1 -7.8v23.9l1 -0.8v-13.9l1 2.7v15.8l1 -13v-19.2l1 1.4v38.4l1 -18v-16.9l1 8.2v11.4l1 0.4v-11.6l1 -18.3v23l1 -1.7v-14.3l1 6v20l1 6.5v-20.6l1 -11.6v15.6l1 7.9v-17.1l1 2.3v35.2l1 -30.9v-14.7l1 9.3v7.9l1 8.9v-27.5l1 -3.2v37.5l1 0.7v-26l1 0.4v12.8l1 -0.1v-13.3l1 8.9v9.9l1 -4.7v-18.7l1 -6.5v19.7l1 4.6v-11.9l1 5.5v11l1 3.3v-15.5l1 1.1v25.4l1 -22v-23.2l1 28v19.8l1 -13.7v-17.6l1 6.5v21.2l1 -12.3v-9.5l1 -13.4v24.5l1 20.8v-30l1 -14.5v27l1 -6.8v-9.8l1 2.4v9.4l1 5.7v-12.5l1 -4.4v35.6l1 -33.4v-27.4l1 26.3v14l1 -5.2v-15.9l1 -13.7v26.2l1 -4.9v-26.1l1 29.5v21.3l1 -8v-30l1 6.5v21.5l1 -8.9v-8.4l1 5.6v10l1 7.5v-16.9l1 -5.5v12.5l1 26.3v-31.3l1 -6v12.4l1 0v-6.4l1 -10v21.4l1 1.2v-46l1 29v23.3l1 -16.8v-10.4l1 -1v8.8l1 -10v-15l1 3.9v30.5l1 -6.2v-10.1l1 -33v40l1 5v-9.6l1 -3.9v9.4l1 15.7v-21.1l1 -11.2v21l1 -12.4v-13.7l1 13.8v13.2l1 -1v-23.8l1 8.5v16l1 13.4v-41.1l1 7.9v26.9l1 7.9v-36.9l1 10.4v11l1 -1.7v-11.1l1 -0.1v7.6l1 12.8v-22.6l1 0.5v6.1l1 25.1v-43l1 -7.7v37.1l1 -3.6v-33.1l1 16.2v12.4l1 30.4v-36.8l1 -7.5v12.7l1 -1.1v-5.5l1 -4.8v18.5l1 2.7v-20.6l1 6.4v3.9l1 3.7v-19.6l1 3.8v14.3l1 20.3v-34l1 4.4v40.6l1 -2.1v-42.5l1 4.2v14.9l1 -5.3v-9.6l1 -4.3v10.1l1 -1.8v-13.1l1 12.8v15l1 -13v-8.3l1 -11.7v21l1 2.6v-20.7l1 -6.2v25.2l1 7.7v-14.5l1 -10.3v16.7l1 6.8v-29l1 2.2v16.2l1 3v-11.2l1 5.6v9.7l1 6.3v-14.8l1 -1.4v17l1 1.2v-12.9l1 0.3v10l1 -9v-4.1l1 -2.5v36.3l1 -30.1v-5.5l1 -14.8v21.3l1 9.3v-35.3l1 20.4v28.2l1 -22.4v-20.2l1 14v13.9l1 0.3v-18.7l1 0.6v25.1l1 -13.6v-3.9l1 -0.1v5.2l1 21.2v-26.6l1 4v8.1l1 -3.7v-7.6l1 -15.3v25.3l1 16.6v-42.1l1 2.4v27.4l1 6.2v-27.1l1 -8.4v18.1l1 -3.9v-5.4l1 -0.7v5.4l1 8.9v-35.5l1 6.3v25.2l1 -0.9v-15.9l1 -10.5v23.7l1 29.8v-41.1l1 -4v13.6l1 7.7v-20.1l1 5v10l1 1.9v-28.1l1 24.9v26.1l1 -21.6v-16.5l1 3.4v21.5l1 -12.5v-11l1 -8.1v25.5l1 1.2v-24.9l1 15.3v13l1 -11.7v-27.5l1 17v7.6l1 5.9v-16.6l1 1.5v22.7l1 7.1v-32.5l1 2.9v8.5l1 22.9v-31.6l1 6.1v28.1l1 -4.8v-30l1 10.7v6.7l1 0.2v-6l1 -12.4v23.4l1 1.2v-21.3l1 -30.8v62.4l1 -7.3v-29.1l1 -13.4v39.1l1 -6.9v-9.9l1 -2.4v32.1l1 -0.8v-25.5l1 -16.5v42l1 -14.1v-22.1l1 -15v38.1l1 3.3v-30l1 6.6v12l1 17v-21.2l1 4v4.7l1 18.2v-47.6l1 -6.3v42.4l1 -3.8v-27.9l1 15.1v8.2l1 4.5v-20.7l1 -3.5v22.1l1 11.2v-25.3l1 -19v25l1 1.3v-17.4l1 11v47.4l1 -24.3v-19.7l1 -17.6v24.1l1 17.7v-24.1l1 -9.4v12.9l1 -1.9v-10.3l1 10.2v18.8l1 -10.7v-22.2l1 13.3v27.1l1 -22.4v-11.7l1 -16.9v23.2l1 9.3v-23.3l1 6.2v21.2l1 27.6v-49.7l1 3.5v23.7l1 -11.9v-11.7l1 -5.3v29.7l1 -10.7v-18.6l1 2.7v12.8l1 -4.1v-41.6l1 17.3v25.9l1 5.9v-7.6l1 -20.1v34.7l1 -2.7v-27.1l1 -1.8v18.8l1 5.7v-29.6l1 2v29.9l1 2.2v-14.1l1 -29.9v41.5l1 -7.6v-50.6l1 41v19.4l1 -11.3v-12.4l1 -12.8v23.2l1 5.1v-38.7l1 19.8v21.6l1 9.3v-19.5l1 1.8v18.2l1 16.7v-45.9l1 4.5v11.2l1 1.8v-3.3l1 0.9v25.3l1 -18.3v-10.9l1 -5.4v16.4l1 16.3v-67.5l1 33v21.9l1 -0.9v-56l1 7.2v37.9l1 14.6v-22.2l1 3.2v15.5l1 2.7v-17l1 -17.8v26.7l1 33.9v-38.9l1 -1.6v13.5l1 0.8v-29.7l1 8.5v12.2l1 -4v-6.3l1 -9.9v19.2l1 11.8v-26.1l1 4.8v8.6l1 23v-32.6l1 4.2v15.7l1 -16.9v-2.5l1 -10.6v33.7l1 -13.4v-42.1l1 13.4v38.5l1 -7.3v-7.1l1 3v22.8l1 -18.3v-26.2l1 14v6.4l1 1.8v-13.1l1 -0.9v13.7l1 9.2v-58.1l1 44.3v11.8l1 1v-13.4l1 -9.6v39.4l1 -9.9v-20.2l1 1.9v29.6l1 -24v-19.8l1 2.6v15.4l1 0.3v-18.1l1 -2.2v33.4l1 7.7v-56.5l1 18v23.4l1 10.3v-18.8l1 -31.1v62.5l1 -19.3v-9.9l1 -37.6v45.7l1 -2.1v-10.2l1 -7.5v42.6l1 -36.2v-2.7l1 -19v23.5l1 4.6v-15.6l1 -9.4v33.9l1 -15.7v-9.8l1 -1.3v19.6l1 4.2v-17.7l1 -14.4v14.4l1 36.1v-34.8l1 -0.8v43.2l1 -27.6v-14.9l1 -15.6v27.8l1 5.7v-46.8l1 3.5v37.9l1 26.4v-60.9l1 24.6v15.5l1 -1.9v-11.4l1 -14.2v15.7l1 20v-19.4l1 -3v5.9l1 33.9v-98.9l1 58.1v28.6l1 -9.3v-48.1l1 32.9v28.9l1 -14.2v-23.1l1 2.3v51.9l1 -24.1v-27.4l1 -5.6v20.5l1 1.3v-20l1 2.1v10.2l1 -4.5v-14.7l1 -2v45.4l1 30.8v-78l1 13.4v13.1l1 30.6v-46.8l1 1.8v10.4l1 2.3v-13.1l1 -1.4v18.8l1 13v-34.9l1 8.1v8.9l1 4.8v-7.2l1 -1.9v14.2l1 -3.7v-12.3l1 4.4v25.6l1 -4.9v-23.6l1 -2.9v22.7l1 0.2v-12.9l1 -11.5v11l1 1.7v-24.1l1 18v23.9l1 -0.8v-19l1 -0.4v24.5l1 -13.7v-15.3l1 -5.5v31.4l1 -3.1v-16.6l1 -10.1v20.4l1 -8v-32.2l1 18.6v52.9l1 -36.8v-26.2l1 -1.3v23l1 -9.6v-17.4l1 14.1v12.2l1 12.7v-35.3l1 -7.3v37.1l1 6.9v-46.8l1 8v36.7l1 -20.8v-35l1 33.4v5.1l1 -3.8v-33.3l1 23.8v31.5l1 -3.8v-30.3l1 -21.3v49.7l1 1.2v-22.2l1 -1v36l1 -4.3v-36.3l1 11.4v14l1 -10.6v-12.6l1 -0.8v20.3l1 10.9v-102l1 80.3v13.3l1 6.7v-33.4l1 -8.4v32.2l1 28.2v-76.5l1 32.4v12.1l1 11.8v-18.2l1 -4v8.6l1 0.5v-17.2l1 -1.9v23.8l1 -1.3v-21.4l1 7.1v34.6l1 -14.5v-28.6l1 19.2v27.8l1 15.9v-84.1l1 33.2v20l1 -7.8v-45l1 29.8v38l1 -17v-35.4l1 15.3v6.2l1 -0.2v-23.9l1 -16.2v46.9l1 12.3v-29.7l1 12.6v15.7l1 -2.6v-15.5l1 -29v27.1l1 17.4v-18.4l1 -6.9v12.9l1 39.1v-55.6l1 3.9v7.3l1 9.4v-11.9l1 -4.4v12.4l1 7.3v-22.3l1 -3.1v19l1 14v-52l1 24.7v20.3l1 -4.5v-13.4l1 1.4v14.7l1 -11.3v-27.5l1 4.3v28.1l1 4.2v-19.2l1 -1.8v20l1 -2.8v-6.7l1 3.8v11.6l1 4.6v-14.9l1 -0.9v14.7l1 -4.9v-16.9l1 6.4v10.4l1 12.5v-24.5l1 -12.5v19.9l1 2.3v-9.1l1 2.2v12.9l1 -0.2v-21.1l1 -1.3v16.9l1 15.1v-21.8l1 -20.1v31.6l1 2.4v-13.3l1 -19.4v56.2l1 -29v-82l1 64.3v17.6l1 2.9v-12.6l1 -3.7v19.3l1 -1.3v-24.6l1 5.3v14.6l1 -0.4v-9.5l1 -23.9v33.5l1 -2.8v-21.7l1 -9.6v30.3l1 -4.7v-12.5l1 7.2v13.9l1 -10.7v-8.7l1 -20.4v29.2l1 -1.7v-9.2l1 -6.4v26.6l1 2.9v-13.2l1 -18.7v18.6l1 6v-5.6l1 -11.4v17.5l1 -0.2v-1.3l1 0.5v16.8l1 -2.1v-29.2l1 -2.6v17l1 17.2v-21.4l1 0.4v4l1 8.6v-16.7l1 -13.9v49.3l1 -20.4v-20.2l1 6.4v16.4l1 -9.1v-15l1 -7.3v36.4l1 9.8v-28.6l1 3.2v21.3l1 -6.7v-15.8l1 -9.4v17.1l1 3.2v-9.4l1 -1.9v16.6l1 14.8v-31.5l1 -3.7v15.2l1 -9.8v-13.9l1 -3.8v16.4l1 0.4v-10.5l1 7.3v28l1 -28.7v-8.3l1 -0.4v27.9l1 -10.6v-16l1 -13v18.7l1 2.4v-20.1l1 12v30.1l1 -21.6v-15.8l1 3.4v14.8l1 -2.3v-10.2l1 9v3.2l1 15.4v-17.2l1 -9.4v26.8l1 -16.7v-18.3l1 15.3v13.4l1 -2.3v-11.1l1 -1.3v9.1l1 3.4v-15.4l1 -5.6v14.3l1 -1.2v-8l1 8.4v15l1 1.1v-27.2l1 2.3v17.5l1 -9.1v-13.6l1 1v44.3l1 -31.4v-6l1 -6.4v14.1l1 3.6v-9.9l1 -13.4v23.8l1 -2.6v-9.5l1 -18.5v36.2l1 5.3v-23.4l1 1.1v8.4l1 2.5v-7.8l1 -7.3v22.3l1 -8.3v-7.7l1 -10.5v24.4l1 -7.1v-17.1l1 0.3v8.3l1 9.5v-20.8l1 3.7v7.2l1 -1.1v-19.1l1 2.3v31.6l1 5.7v-30.3l1 -12.4v25.3l1 12.6v-38.8l1 24.6v15.4l1 -3.6v-6.5l1 -3.9v13.2l1 -9.5v-26.4l1 17.5v3.6l1 5.6v-11.3l1 4.6v7.4l1 2.9v-20.6l1 3.8v13.3l1 9.8v-17.1l1 -19v25.6l1 13v-16.2l1 -7.1v6.3l1 10.2v-6.2l1 -18.2v38.3l1 -2.4v-19.9l1 5.7v23l1 -19.3v-10.4l1 2.1v12.3l1 -10.8v-3.7l1 -4.7v12.5l1 5.6v-54l1 13.1v55.8l1 -21.4v-11.7l1 -10v15.8l1 23.9v-22.7l1 -8.8v15.9l1 -7.5v-2.6l1 -1.6v6l1 1.2v-11.8l1 -7.9v37.5l1 -19v-6.6l1 -10.8v28.9l1 -10.9v-20.1l1 15.3v4.3l1 8.4v-8.3l1 -0.7v16.1l1 -3.1v-17.8l1 -1v19l1 2v-21l1 -10.1v28.4l1 -10.5v-32l1 6.9v32.5l1 15.6v-46.4l1 13.3v16.9l1 -9.7v-15.4l1 -0.5v29l1 6.6v-22.2l1 2.1v4.6l1 7.3v-16.8l1 9.6v12l1 -6.4v-19.9l1 -8.4v44.9l1 -15.2v-9.2l1 -6.4v16.9l1 8.7v-18.4l1 5.4v15.7l1 -3.4v-14l1 -6.2v10.7l1 5.8v-23.6l1 13.4v10.2l1 4.4v-44.2l1 22.4v17.2l1 -3.4v-16.6l1 -1.6v12.2l1 9.6v-26.2l1 -8.3v14.8l1 21.5v-26.1l1 -3v22.9l1 -9.7v-24.5l1 20.4v11.5l1 -13.2v-7.5l1 5.3v14l1 -2.7v-6.7l1 -10.6v14.6l1 9.8v-9.2l1 -7.2v19.8l1 -3.9v-15.3l1 -3.4v9.8l1 12.9v-33.7l1 19.6v9.9l1 -6v-15.6l1 9.5v11.1l1 -2.2v-12.7l1 -5v26.1l1 -7.5v-4.4l1 -3.5v5l1 7.4v-22.2l1 9.8v9l1 -2.9v-16.8l1 1.6v12l1 14v-19l1 -7.9v14.2l1 3v-24.3l1 7v30.7l1 -18.5v-5.3l1 -6.7v8.3l1 6.2v-19.2l1 -7.2v17.6l1 9.7v-16.5l1 1.9v22.4l1 -1.3v-12.7l1 -5.7v14.4l1 5.8v-11.4l1 -2.9v11l1 -11.6v-3.9l1 -1v19l1 -3.4v-19.4l1 5.5v3.6l1 16.8v-16.3l1 -5.6v10.4l1 9v-13.7l1 -4v17l1 10.8v-36.2l1 12.5v12.8l1 -3.4v-15.5l1 9.1v4.6l1 1.8v-16.8l1 8.7v2.9l1 13.5v-33.4l1 16.2v21.4l1 -9.8v-14.6l1 -5.3v12l1 5.6v-16.4l1 4.8v8.5l1 6.4v-21.6l1 0.5v11.9l1 6.2v-20.2l1 4.2v18.2l1 -13.3v-6.7l1 2.5v12l1 -4.3v-11.4l1 3v10.6l1 -1.8v-16.5l1 -4.7v21.2l1 -9v-2.1l1 -10v17.9l1 -2v-11.1l1 -0.9v12.5l1 3.2v-12.6l1 -3.8v13.9l1 0.8v-17.2l1 6.2v8.1l1 5.6v-14.6" fill="none" stroke="#000" stroke-width="1.0" stroke-linejoin="round" />
<path d="M1061 297.1l0.6 4.5l0.6 3.4l0.6 0.1l0.6 0.9l0.6 2.9l0.6 2.1l0.6 -0.7l0.6 -1.4l0.6 -0.3l0.6 1.5l0.6 -2.8l0.6 -3.3l0.6 0.4l0.6 -5.4l0.6 0l0.6 -0.6l0.6 -1.6l0.6 3.5l0.6 -2.3l0.6 -1.7l0.6 3.3l0.6 1.8l0.6 -7.2l0.6 5.4l0.6 -0.8l0.6 4.8l0.6 2.8l0.6 0.4l0.6 -3.5l0.6 -3.6l0.6 -4l0.6 -0.8l0.6 7l0.6 2.3l0.6 -2.4l0.6 2.6l0.6 -1.3l0.6 1.2l0.6 -0.2l0.6 -2.4l0.6 1.3l0.6 -0.4l0.6 0.8l0.6 -5.2l0.6 5.6l0.6 -6.3l0.6 2.2l0.6 -1.8l0.6 7.2l0.6 -2.9l0.6 5.9l0.6 -5.6l0.6 0.7l0.6 0.2l0.6 -4.2l0.6 2.1l0.6 1.2l0.6 0.7l0.6 1.5l0.6 -0.1l0.6 0.7l0.6 0.4l0.6 -0.4l0.6 -1.7l0.6 0.8l0.6 -3.2l0.6 -0.7l0.6 -0.5l0.6 2.7l0.6 -5.2l0.6 -2.5l0.6 -1l0.6 4.8l0.6 -4.8l0.6 -0.6l0.6 6.3l0.6 -5.4l0.6 3.4l0.6 1.8l0.6 -0.3l0.6 2.5l0.6 0l0.6 0.4l0.6 2.7l0.6 0.9l0.6 1.2l0.6 -0.4l0.6 -0.2l0.6 -0.8l0.6 -0.6l0.6 -0.3l0.6 -1.4l0.6 0l0.6 4.3l0.6 -5.4l0.6 -7.3l0.6 10.2l0.6 -4.7l0.6 -4.2l0.6 6l0.6 -2.6l0.6 -1.6l0.6 0.5l0.6 -0.4l0.6 4.5l0.6 2l0.6 4.1l0.6 0.3l0.6 2.9l0.6 -1.9l0.6 -3.9l0.6 -2.5l0.6 -3.4l0.6 -0.6l0.6 -3.9l0.6 2.1l0.6 3.6l0.6 1.5l0.6 3.5l0.6 3.4l0.6 1l0.6 1l0.6 1l0.6 -2.4l0.6 -1.2l0.6 -1l0.6 -1.7l0.6 1.4l0.6 -6.8l0.6 -5.9l0.6 10.3l0.6 -2.9l0.6 -6.6l0.6 8.6l0.6 -3l0.6 -3.9l0.6 10.3l0.6 -0.8l0.6 2.1l0.6 0.1l0.6 -1.3l0.6 -2.1l0.6 -0.4l0.6 1.7l0.6 -1.8l0.6 -4.7l0.6 0.3l0.6 5.4l0.6 1.1l0.6 5.8l0.6 -1.6l0.6 -4.7l0.6 0.8l0.6 -1.3l0.6 -13l0.6 6.1l0.6 1.9l0.6 4.3l0.6 2.3l0.6 4.1l0.6 1.2l0.6 -3.8l0.6 -2.8l0.6 1l0.6 -9l0.6 -1.1l0.6 0.6l0.6 0.9l0.6 1.9l0.6 -1.2l0.6 -2.1l0.6 7.7l0.6 -0.4l0.6 0.5l0.6 1.6l0.6 2.6l0.6 -3l0.6 -3.6l0.6 -0.6l0.6 -1.2l0.6 0.9l0.6 -8.6l0.6 4.4l0.6 -0.1l0.6 -4.8l0.6 2.1l0.6 7.3l0.6 1.7l0.6 -2l0.6 0.5l0.6 2.1l0.6 0.7l0.6 1l0.6 -1.2l0.6 0.7l0.6 -5.4l0.6 -0.2l0.6 -0.6l0.6 -6.6l0.6 3.3l0.6 -11.2l0.6 7.3l0.6 3l0.6 -9.3l0.6 5.8l0.6 6l0.6 3.2l0.6 3.1l0.6 2.9l0.6 -1.1l0.6 -3.6l0.6 -3.3l0.6 -3.4l0.6 1.9l0.6 -4.3l0.6 0.8l0.6 -1.7l0.6 -1.7l0.6 8.9l0.6 -0.6l0.6 0l0.6 2.5l0.6 0.2l0.6 0.2l0.6 -0.2l0.6 0.1l0.6 -0.7l0.6 0l0.6 1.3l0.6 0.3l0.6 -2.2l0.6 -4l0.6 0.8l0.6 1.7l0.6 -2.5l0.6 3.1l0.6 2.4l0.6 -5.6l0.6 3.8l0.6 1l0.6 -1.7l0.6 3.5l0.6 -0.6l0.6 -0.7l0.6 -0.1l0.6 0.4l0.6 -0.5l0.6 -0.5l0.6 -1.2l0.6 2.1l0.6 -1.7l0.6 -0.1l0.6 -0.2l0.6 -8.1l0.6 9.2l0.6 -2.8l0.6 0.1l0.6 1.2l0.6 -3.1l0.6 6l0.6 -4.6l0.6 -0.3l0.6 4.3l0.6 -0.8l0.6 -0.1l0.6 3.3l0.6 -1.9l0.6 2l0.6 -1.9l0.6 -1.4l0.6 -2l0.6 2.6l0.6 0.8l0.6 -3.7l0.6 3.6l0.6 3.8l0.6 -7l0.6 -2.4l0.6 1.4l0.6 3.1l0.6 0.3l0.6 2.2l0.6 -4.1l0.6 0l0.6 6.4l0.6 -4.2l0.6 -2.2l0.6 -0.5l0.6 4.3l0.6 -5.8l0.6 2.8l0.6 1l0.6 0.7l0.6 -0.8l0.6 -1.4l0.6 -2.9l0.6 -0.8l0.6 -8.7l0.6 2.1l0.6 5.7l0.6 -6l0.6 4.1l0.6 0.8l0.6 2.2l0.6 -1l0.6 4.2l0.6 1.2l0.6 -2.5l0.6 -8.7l0.6 -4.5l0.6 5.8l0.6 1.9l0.6 4.1l0.6 2.1l0.6 -0.1l0.6 -1.3l0.6 -3.3l0.6 1.9l0.6 0.7l0.6 0.9l0.6 1.5l0.6 0.9l0.6 0.6l0.6 -3.3l0.6 -1.5l0.6 2.2l0.6 -0.8l0.6 3.3l0.6 -1.6l0.6 -0.4l0.6 2.3l0.6 1.9l0.6 1.2l0.6 -3.4l0.6 -2.8l0.6 0.6l0.6 -3.8l0.6 3.3l0.6 5.4l0.6 -1.1l0.6 1.9l0.6 -1l0.6 -1l0.6 0.9l0.6 -6.6l0.6 4.2l0.6 3.9l0.6 -6.9l0.6 2.9l0.6 0.6l0.6 3.5l0.6 -1l0.6 -0.3l0.6 3.7l0.6 -0.9l0.6 -1l0.6 -0.7l0.6 -1.5l0.6 -1.4l0.6 2.4l0.6 0.3l0.6 0l0.6 -2.2l0.6 -1.9l0.6 1.4l0.6 5l0.6 2.5l0.6 -2.5l0.6 1.4l0.6 1.3l0.6 -2.4l0.6 -0.6l0.6 -1.3l0.6 -1.1l0.6 -6.9l0.6 9.4l0.6 -2.6l0.6 1.7l0.6 2.2l0.6 -2.3l0.6 2.7l0.6 0.8l0.6 -1.5l0.6 1.1l0.6 -1.8l0.6 1l0.6 -0.4l0.6 -1.5l0.6 5.5l0.6 -3.9l0.6 1.6l0.6 -7.7l0.6 2.2l0.6 3.1l0.6 2.3l0.6 0l0.6 2.8l0.6 -0.4l0.6 1.7l0.6 -1.6l0.6 -1.5l0.6 -1.2l0.6 0l0.6 -4l0.6 -3.8l0.6 3.7l0.6 -6l0.6 6.3l0.6 -5.4l0.6 -0.5l0.6 1.1l0.6 5l0.6 -2.5l0.6 1l0.6 1.7l0.6 1.5l0.6 0.3l0.6 0l0.6 -0.8l0.6 -3.5l0.6 1.9l0.6 -4.3l0.6 4.4l0.6 -2.4l0.6 4.1l0.6 2.1l0.6 0.4l0.6 -0.2l0.6 0.2l0.6 -4.1l0.6 -1.3l0.6 1.5l0.6 0.3l0.6 2.4l0.6 -4.6l0.6 -0.2l0.6 -5.5l0.6 5.4l0.6 0.2l0.6 -4.7l0.6 1.9l0.6 1.2l0.6 4.3l0.6 1.5l0.6 0.4l0.6 0.5l0.6 -0.7l0.6 -2.8l0.6 0.1l0.6 -2.6l0.6 -3.9l0.6 2.7l0.6 3.6l0.6 -9.7l0.6 -0.4l0.6 0.5l0.6 12.4l0.6 -5.7l0.6 1.6l0.6 1.5l0.6 3.7l0.6 -1.5l0.6 -4.7l0.6 -4.5l0.6 -0.3l0.6 2.3l0.6 2.1l0.6 3.6l0.6 1.5l0.6 -0.8l0.6 2.4l0.6 3.2l0.6 0l0.6 -0.1l0.6 -2.5l0.6 -1l0.6 0.9l0.6 -2.1l0.6 -2.1l0.6 -1l0.6 -8.2l0.6 5.1l0.6 1l0.6 1.1l0.6 -5.6l0.6 -1l0.6 -2.8l0.6 7.7l0.6 2.2l0.6 -6.5l0.6 4.2l0.6 1.2l0.6 2l0.6 2.9l0.6 -1.2l0.6 -1.2l0.6 -12.1l0.6 13.3l0.6 -2.5l0.6 -0.2" fill="none" stroke="#000" stroke-width="1.1" stroke-linejoin="round" />
<path d="M1494 295.2l0.5 -19.5l0.5 7.7l0.5 4l0.5 2.1l0.5 -0.6l0.5 6.7l0.5 1.1l0.5 5.3l0.5 9.6l0.5 11.9l0.5 6.5l0.5 4.7l0.5 -3.5l0.5 -7.8l0.5 -12.8l0.5 -7l0.5 -13.5l0.5 -5.4l0.5 -0.1l0.5 -1.4l0.5 -8l0.5 -0.1l0.5 9.8l0.5 -1.5l0.5 12.9l0.5 4.3l0.5 7.9l0.5 8.7l0.5 10.5l0.5 3.1l0.5 0l0.5 -6.3l0.5 -7.7l0.5 -10.5l0.5 -7.5l0.5 0.1l0.5 -13.7l0.5 -1.9l0.5 0.3l0.5 4.8l0.5 -6.5l0.5 5.4l0.5 1l0.5 -0.6l0.5 13.5l0.5 8.1l0.5 8.1l0.5 8.8l0.5 6.8l0.5 1.8l0.5 -5.8l0.5 -7.3l0.5 -9.1l0.5 -9.7l0.5 -5.3l0.5 -3.3l0.5 -14.3l0.5 4.9l0.5 -11.6l0.5 8.4l0.5 -0.2l0.5 -1.1l0.5 0.8l0.5 8.3l0.5 6.9l0.5 7.8l0.5 8.7l0.5 11.2l0.5 5l0.5 -0.3l0.5 -12.1l0.5 -9.9l0.5 -5.8l0.5 -13.1l0.5 -6.8l0.5 3.3l0.5 -3.1l0.5 5l0.5 -4.3l0.5 8.5l0.5 7.4l0.5 8.2l0.5 6.2l0.5 8.8l0.5 7.9l0.5 4.4l0.5 -2.5l0.5 -5.4l0.5 -9.1l0.5 -9.6l0.5 -7.3l0.5 -1l0.5 -20.4l0.5 -1.4l0.5 2.6l0.5 -3.8l0.5 -5l0.5 7.9l0.5 2.4l0.5 -3.1l0.5 17.9l0.5 4.2l0.5 8.6l0.5 9l0.5 11.4l0.5 5.6l0.5 3.2l0.5 -4.3l0.5 -6.2l0.5 -10.6l0.5 -9.6l0.5 -9.7l0.5 -14.6l0.5 3.4l0.5 -7.2l0.5 1.5l0.5 -1.4l0.5 -0.3l0.5 4l0.5 1l0.5 3.4l0.5 0.3l0.5 13.8l0.5 8.5l0.5 14.1l0.5 10l0.5 6l0.5 -1.6l0.5 -9.4l0.5 -12.4l0.5 -11.8l0.5 -9.5l0.5 -12.6l0.5 7.6l0.5 -16.1l0.5 1.1l0.5 10.6l0.5 -10.3l0.5 8.8l0.5 5l0.5 6.9l0.5 6l0.5 8.6l0.5 3.9l0.5 4.5l0.5 -5.2l0.5 -6.3l0.5 -7.8l0.5 -9.7l0.5 -2.1l0.5 0l0.5 4.6l0.5 7.4l0.5 -8l0.5 3.4l0.5 8.7l0.5 10l0.5 10.2l0.5 6.2l0.5 2.4l0.5 -4.1l0.5 -10.7l0.5 -9.3l0.5 -8.4l0.5 -10.6l0.5 2.1l0.5 -14.3l0.5 7.1l0.5 2.3l0.5 -7.1l0.5 3l0.5 8.1l0.5 8.6l0.5 3.6l0.5 8.5l0.5 8.4l0.5 8.8l0.5 3l0.5 -4.8l0.5 -5.6l0.5 -11.6l0.5 -7.3l0.5 -14.1l0.5 -4.2l0.5 -5.9l0.5 8.1l0.5 -1.2l0.5 0.8l0.5 1.4l0.5 0.4l0.5 4.1l0.5 -2.8l0.5 13.1l0.5 9.3l0.5 13.7l0.5 5.1l0.5 -2.1l0.5 -4.2l0.5 -11.4l0.5 -11.5l0.5 -8.2l0.5 -8.6l0.5 -9.9l0.5 0.6l0.5 7l0.5 0.1l0.5 1.9l0.5 -1.7l0.5 8.9l0.5 9.4l0.5 7.9l0.5 11.4l0.5 5.5l0.5 2.3l0.5 -2.4l0.5 -6.1l0.5 -5.9l0.5 -9.2l0.5 -6.5l0.5 -12.6l0.5 7.3l0.5 -2.9l0.5 -2.9l0.5 -1.9l0.5 -9.9l0.5 3.9l0.5 9.8l0.5 0.9l0.5 8.2l0.5 8.6l0.5 9.7l0.5 9.8l0.5 4.3l0.5 -3l0.5 -7.5l0.5 -10.7l0.5 -11.4l0.5 -8.2l0.5 -6.3l0.5 2.4l0.5 -8.3l0.5 7.2l0.5 1.3l0.5 2.8l0.5 -0.6l0.5 12.7l0.5 9.7l0.5 7.5l0.5 7.4l0.5 0.4l0.5 -7.8l0.5 -8.2l0.5 -10.3l0.5 -7.3l0.5 -9.8l0.5 7.7l0.5 -6.2l0.5 3l0.5 -0.3l0.5 -4.3l0.5 17.4l0.5 4.1l0.5 8.7l0.5 5.2l0.5 0.4l0.5 -3.9l0.5 -8.3l0.5 -8.2l0.5 -6.5l0.5 5.8l0.5 -12.2l0.5 8.8l0.5 1.8l0.5 -6.8l0.5 7l0.5 3.6l0.5 4.1l0.5 7.1l0.5 5.3l0.5 2.9l0.5 1l0.5 -3.5l0.5 -5.9l0.5 -4.1l0.5 -2.9l0.5 -7.5l0.5 -6.3l0.5 -3.3l0.5 4.8l0.5 -3.9l0.5 1l0.5 -7l0.5 4.8l0.5 2l0.5 11.6l0.5 2.1l0.5 13.2l0.5 11.8l0.5 -3.5l0.5 -6.3l0.5 -12.5l0.5 -9l0.5 -9.2l0.5 -8.7l0.5 5.3l0.5 3.2l0.5 9.6l0.5 10.2l0.5 8.5l0.5 11.1l0.5 7.3l0.5 0.6l0.5 -7.7l0.5 -8.8l0.5 -11.7l0.5 -12.5l0.5 -3.5l0.5 -8l0.5 -2.8l0.5 -2.8l0.5 11.3l0.5 0.1l0.5 -6l0.5 16.3l0.5 5.3l0.5 12.4l0.5 9.8l0.5 9.2l0.5 3.2l0.5 -7.8l0.5 -11l0.5 -12.2l0.5 -6.2l0.5 -7l0.5 -11.7l0.5 -5l0.5 4.7l0.5 -1.9l0.5 5.6l0.5 0.9l0.5 5.7l0.5 8.9l0.5 7.3l0.5 12.7l0.5 9.6l0.5 1.1l0.5 -5.3l0.5 -4.7l0.5 -7.9l0.5 -11.8l0.5 -6.9l0.5 -5.4l0.5 -5.4l0.5 -1.7l0.5 6.2l0.5 -5.3l0.5 2.4l0.5 10.2l0.5 -5.5l0.5 13.2l0.5 1.4l0.5 5.2l0.5 2.9l0.5 3.6l0.5 3.5l0.5 -2.4l0.5 -5.1l0.5 -6.6l0.5 -5.1l0.5 -6.4l0.5 -3.7l0.5 4.9l0.5 -6.7l0.5 0.5l0.5 4.5l0.5 0.5l0.5 -1.3l0.5 3.5l0.5 1l0.5 3.6l0.5 4.5l0.5 6.3l0.5 3.6l0.5 3.9l0.5 -3.2l0.5 -3.8l0.5 -5.4l0.5 -5.3l0.5 -1.7l0.5 -2.5l0.5 -2.3l0.5 -6.2l0.5 -1.1l0.5 1.5l0.5 3.5l0.5 -5.3l0.5 7l0.5 7l0.5 9l0.5 7.3l0.5 5.5l0.5 -2.2l0.5 -4.4l0.5 -7l0.5 -4.8l0.5 -1.6l0.5 -13.1l0.5 2.4l0.5 4.6l0.5 -12.4l0.5 4.2l0.5 7.8l0.5 1l0.5 4.3l0.5 3.6l0.5 3.4l0.5 6.8l0.5 5.7l0.5 0.3l0.5 -1.3l0.5 -5.7l0.5 -4.1l0.5 -8.7l0.5 -3.7l0.5 -5.3l0.5 -9l0.5 6.6l0.5 -12.6l0.5 0.7l0.5 2.7l0.5 -6l0.5 -1l0.5 7.8l0.5 0.8l0.5 4l0.5 5.6l0.5 9.4l0.5 5l0.5 6.9l0.5 2.4l0.5 3.9l0.5 1l0.5 -3.9l0.5 -8.5l0.5 -6.8l0.5 -6.8l0.5 -6.7l0.5 -13.1l0.5 -1.8l0.5 -0.4l0.5 0.1l0.5 0.6l0.5 -7l0.5 4l0.5 -0.1l0.5 3l0.5 6.8l0.5 4.7l0.5 0.2l0.5 5.5l0.5 8.5l0.5 9l0.5 5.3l0.5 -0.7l0.5 -5.6l0.5 -7l0.5 -4.2l0.5 -7.5l0.5 -3.5l0.5 -3.1l0.5 -2.7l0.5 9l0.5 -7l0.5 0.8l0.5 4.2l0.5 11.8l0.5 10.7l0.5 11.3l0.5 9l0.5 -2.5l0.5 -2.7l0.5 -16.9l0.5 -7.3l0.5 -7.2l0.5 -3.6l0.5 -5.7l0.5 1.5l0.5 0.2l0.5 2.3l0.5 6.2l0.5 7.2l0.5 7.5l0.5 8.8l0.5 10.2l0.5 6.3l0.5 -2.3l0.5 -5.5l0.5 -11.8l0.5 -8.7l0.5 -6l0.5 -7.7l0.5 -2.9l0.5 1.3l0.5 -7.6l0.5 -1l0.5 5.5l0.5 -3.7l0.5 10.5l0.5 9.1l0.5 9.2l0.5 13.1l0.5 9.3l0.5 4.2l0.5 -6.8l0.5 -5.4l0.5 -10.6l0.5 -11.7l0.5 -12.1l0.5 -0.7l0.5 -11.2l0.5 -0.4l0.5 2.9l0.5 -4l0.5 4.7l0.5 3l0.5 1.5l0.5 13.3l0.5 9.1l0.5 7.6l0.5 6.1l0.5 1.2l0.5 -2.1l0.5 -5.6l0.5 -10.8l0.5 -4.7l0.5 -6.8l0.5 -7.5l0.5 -3.9l0.5 4.6l0.5 -8.3l0.5 10l0.5 -4.1l0.5 12.1l0.5 5.3l0.5 4.6l0.5 10.1l0.5 6.5l0.5 3.7l0.5 -2.4l0.5 -7.5l0.5 -8.9l0.5 -7.8l0.5 -4.4l0.5 -7.6l0.5 -1.3l0.5 -1.3l0.5 -6.3l0.5 1.6l0.5 7.2l0.5 2.3l0.5 10.5l0.5 1.6l0.5 2.8l0.5 5l0.5 2l0.5 0.6l0.5 -0.5l0.5 -6.3l0.5 -5.4l0.5 -0.1l0.5 -3.6l0.5 -2.3l0.5 -0.7l0.5 0.5l0.5 -4.4l0.5 3.8l0.5 0.2l0.5 -4.2l0.5 6l0.5 6l0.5 7.6l0.5 12.6l0.5 8.8l0.5 -2.4l0.5 -5.9l0.5 -8.5l0.5 -11.4l0.5 -6.6l0.5 -1.6l0.5 -12.1l0.5 3.3" fill="none" stroke="#000" stroke-width="1.1" stroke-linejoin="round" />
<path d="M1062.5 421.4v-15.7l1 1.5v15.6l1 6.2v-26.7l1 7v15.5l1 -1.9v-15.9l1 2.8v23.6l1 -8.1v-17l1 -3v16.1l1 1.4v-13l1 -1.9v19.8l1 3.7v-22.5l1 1.6v12.1l1 -1.6v-13.1l1 -1.6v17.9l1 -0.7v-13.8l1 -3.1v15.9l1 -0.7v-16.6l1 5.4v12.5l1 0.1v-21.5l1 7.5v24.1l1 -7.6v-16.6l1 -0.1v16.9l1 -1v-15.9l1 0v13.5l1 -0.6v-12.5l1 -6.2v19.3l1 1.9v-14.6l1 -2.1v15.8l1 -0.4v-13.4l1 0v12.4l1 5.6v-18.4l1 -4.1v17.6l1 -1.7v-17.6l1 -7.7v25.1l1 0.9v-12.4l1 -0.2v13.7l1 -0.7v-12.3l1 0v11.4l1 0.1v-15.8l1 0.5v16.8l1 0.6v-17.3l1 3.9v17.4l1 -3.9v-22l1 8.4v15.4l1 -1.9v-21.1l1 7.2v14.7l1 -2v-13.4l1 -2.3v14.7l1 1.2v-13.1l1 -1.4v16.5l1 -2v-21.5l1 8.6v13.1l1 2.1v-17.8l1 1.5v19l1 -5.6v-13.1l1 0.6v13.9l1 -2.2v-15.9l1 3.5v14.1l1 -1.5v-18l1 6.7v12.1l1 -1.1v-11.3l1 0.4v12.8l1 -0.7v-12.1l1 -0.1v15.3l1 -1.7v-16.5l1 -0.3v19.8l1 5v-21.7l1 -0.1v15.5l1 -4v-15.9l1 3.9v13.1l1 0.8v-15.4l1 1.8v12.3l1 3.6v-16.7l1 -2.3v17.3l1 -0.3v-13.6l1 0.1v12.4l1 4.2v-19.2l1 3v18.2l1 -4.9v-13.7l1 -0.6v15.4l1 3.2v-70l1 52.1v14.3l1 -2.2v-12.2l1 1.1v19.1l1 -4.2v-17.8l1 -12.1v26.5l1 2.7v-15.6l1 -0.1v17.5l1 0.9v-18.7l1 1v19.5l1 -5.4v-14.4l1 0.3v17l1 -4.7v-17l1 2.8v12.7l1 1.6v-15.9l1 -10.5v29.8l1 -0.8v-14.2l1 -4.4v21.4l1 -5.2v-11.9l1 -4.4v19l1 -3.3v-13.2l1 -2.6v21.1l1 -3.2v-14l1 -1.7v18.2l1 -4.5v-25.6l1 9.2v17.3l1 -1v-15.3l1 0.4v13.3l1 12.6v-27l1 2.3v20.9l1 0.3v-22.2l1 2.9v17.7l1 -1.8v-17.5l1 0v26.6l1 -9v-17.4l1 -0.9v17.3l1 -2.3v-13.6l1 0.4v11l1 0.3v-11.5l1 -3.4v19.5l1 0.5v-34.5l1 17.7v13.6l1 -0.6v-24.5l1 10.7v17.4l1 -4.5v-11.9l1 -3.9v16.5l1 2.1v-17.5l1 1.6v17.8l1 -4.8v-10.5l1 -0.4v10.6l1 2.5v-14l1 -0.9v13.7l1 2.5v-16.6l1 1.3v15.7l1 -3.1v-13.1l1 -4.2v16.9l1 -0.4v-14.7l1 2v12.2l1 0.6v-12.5l1 -1.7v15.1l1 3v-18.6l1 -1.1v18.4l1 -2.8v-13.7l1 0.3v20.3l1 -1.3v-17.3l1 -0.1v18.8l1 -5.1v-14.6l1 -2.2v22.1l1 1.3v-21.1l1 0.4v24.2l1 -4.4v-36.2l1 9.7v19.6l1 -0.6v-11.7l1 -19v34.8l1 6.6v-24.2l1 -0.9v14.2l1 4.5v-15.5l1 -12.4v22.5l1 2.3v-18l1 4.2v14.6l1 2.9v-17.2l1 -0.9v13.8l1 1.2v-14.5l1 -0.3v14.3l1 -0.4v-26.5l1 8.1v18.2l1 3.2v-15.3l1 -0.4v11.3l1 0v-25l1 10.9v16.4l1 18.6v-76l1 43v13.3l1 3.4v-15.9l1 -0.7v18.4l1 -4.9v-18.7l1 5.2v18.1l1 8.8v-84l1 30v44.5l1 -4.5v-36l1 20.6v16.9l1 -2.1v-15.7l1 3.8v13.9l1 -1.7v-11.5l1 -4.2v16.9l1 -2.1v-10.3l1 0.1v20.6l1 -8.5v-11.9l1 -1.9v15.2l1 1.6v-16.4l1 1.6v11l1 26.1v-74l1 34.7v13.3l1 1.1v-16l1 -2.4v16.1l1 5.7v-15.8l1 -0.7v11.1l1 5v-18.9l1 -3.1v22.8l1 2.5v-18.2l1 -1.1v11.6l1 3.9v-17l1 0.3v13.5l1 -1.7v-17.5l1 0.6v18.5l1 -0.9v-11.6l1 -2.3v13.6l1 1.2v-18.2l1 3.2v14.1l1 22.6v-82l1 40.5v18.8l1 -0.5v-12.9l1 2.4v14.2l1 -3.7v-12.3l1 1.6v17.3l1 -6.1v-17.2l1 6v11l1 0.2v-13.2l1 2.4v13.9l1 -2.4v-14.1l1 -3.5v20.8l1 -3.2v-17.5l1 6.4v11.6l1 -1.2v-10.2l1 -17.1v29l1 3.9v-19.1l1 2v14.5l1 -0.6v-13l1 -2.2v13.9l1 2.8v-17.6l1 -1.7v15.3l1 -0.6v-13.2l1 -4v18.5l1 1.9v-17.7l1 4.2v11.9l1 3.3v-17.6l1 2.8v14.1l1 -3.6v-11.5l1 0.6v20.5l1 -9.3v-11.8l1 0.9v17.4l1 -4.7v-14.7l1 -8.6v21.3l1 0.7v-14.7l1 0.8v12.8l1 0.2v-13.8l1 3.2v10.8l1 2.7v-16.9l1 -0.4v14.9l1 1.7v-15.2l1 -4.1v17.8l1 12v-23.1l1 -6.6v16.3l1 2.5v-14.1l1 -1.4v14.9l1 1.3v-13.4l1 -1.7v12.6l1 0.8v-11.5l1 -0.7v12.4l1 2.6v-15.6l1 -2v14.8l1 1.4v-12.8l1 -1.3v13l1 0.1v-14.6l1 2.2v11.6l1 -0.9v-11.2l1 -4.1v18.4l1 1.8v-15.2l1 -3.2v13.8l1 1.6v-11l1 -1.7v12.6l1 2.6v-15.4l1 -0.8v16.1l1 4.7v-24.2l1 5.3v15.2l1 -3.8v-11.3l1 -3.1v15l1 -1.1v-11.2l1 -0.7v17.6l1 -1.3v-17.3l1 0.4v11.5l1 1.4v-16.2l1 3.3v13.9l1 -1.3v-14.9l1 2.6v15l1 -1.8v-23.9l1 7.5v17.5l1 -3.4v-11.3l1 -1.1v14.4l1 -1.8v-10.5l1 -0.3v19.9l1 -8.2v-15.2l1 4.6v14.7l1 -3.6v-17.2l1 6.2v9.9l1 1.2v-11.6l1 -5.6v17.6l1 9.9v-24.1l1 -1.2v17.3l1 2.2v-18.2l1 -0.2v15l1 0.6v-13.3l1 -0.9v13.4l1 1v-13.6l1 0.5v12.1l1 4.5v-17.3l1 -3v14.8l1 0.9v-15.6l1 -0.2v22.8l1 18.7v-86l1 49.8v10.8l1 2.8v-10.4l1 1.3v5.5l1 -0.3v-6.2l1 -6.5v12.4l1 1.1v-8.8l1 0.3v5.9l1 -0.9v-6.4l1 -0.1v7.3l1 1.2v-10.9l1 -8.8v18.1l1 14.1v-28l1 -14v36.7l1 10.9v-49.8l1 3v60.3l1 -15.7v-58.7l1 6.3v54.2l1 3.4v-45.6l1 -7.7v50.8l1 16.5v-64.6l1 3.5v40.6l1 4.9v-46l1 3.3v45.9l1 -5.7v-45.8l1 5.8v41.8l1 -4.2v-43.6l1 -14.6v68.4l1 -2.5v-50.3l1 -3v43.8l1 -1.7v-36.9l1 -3.5v46.8l1 11.3v-65.5l1 -7.3v51.4l1 17.7v-53.1l1 0.3v43.6l1 -5.2v-45l1 -6.9v61.6l1 -10.5v-35.8l1 -14.5v58.3l1 26.2v-70.3l1 -6.7v53.5l1 -7v-58.8l1 21.8v47.7l1 -2.3v-67.6l1 12.8v63.7l1 -4.9v-63.8l1 4v59.5l1 8.2v-68.6l1 11.5v68.6l1 -21.7v-55.7l1 -9.2v96.4l1 -18.3v-75.1l1 -3.7v75.8l1 15.6v-83.7l1 -0.7v84.9l1 -1.2v-83.2l1 -14.8v96.4l1 15.7v-114.2l1 12.6v73.7l1 6.4v-70.4l1 -2.4v71.5l1 -21v-61.8l1 1.7v75.9l1 -5.7v-97.8l1 10.8v95.1l1 -11.3v-80.7l1 -30.9v145.4l1 -35.6v-78.3l1 19.3v83.2l1 -23.5v-76.2l1 6v74.4l1 8.2v-89.7l1 4.7v95.3l1 -2.5v-101.8l1 23.8v74.1l1 -11.1v-72.7l1 -21.4v94.9l1 -4.5v-75.2l1 10.8v68.3l1 2.3v-67.2l1 3v89.2l1 -6v-85.7l1 1.7v76.3l1 11.1v-106l1 4.3v83.1l1 -6.9v-72.5l1 -2.6v80.7l1 -6.2v-77l1 12.1v60.9l1 21.4v-85.1l1 -15v81.5l1 6.4v-94.2l1 22.7v79.5l1 -10.2v-85l1 15.8v63.7l1 13.5v-93.6l1 -1.6v82.1l1 19.1v-94.7l1 2.2v75.1l1 -4.4v-63.8l1 -15.5v88.5l1 -3.1v-88.9l1 8.1v97.9l1 -5.1v-80.8l1 -4.9v99.7l1 -5.9v-92.6l1 -1.8v94.8l1 -2.6v-86.5l1 -5.3v84.1l1 -7.9v-87.7l1 19.9v82.1l1 -18.6v-66.5l1 0.7v87.2l1 -6.5v-83.9l1 -9.5v97.4l1 -1.9v-90.2l1 -9.6v74.7l1 38.3v-104.1l1 2.2v74.6l1 13.4v-91.5l1 13.7v62.3l1 -10.5v-58.2l1 -2.3v66.2l1 3.2v-84.3l1 9.2v73.9l1 1.9v-73.9l1 8.6v65.6l1 2.7v-102.2l1 35.9v57.3l1 7.9v-82.3l1 11.2v86l1 8.7v-105.4l1 15.3v59.7l1 -1.8v-60.1l1 5.1v54.9l1 -2.9v-60l1 -10.5v81.8l1 0.5v-62.4l1 5.9v60.1l1 -13.3v-51l1 -0.1v63.7l1 3.1v-60.5l1 -15.1v80.6l1 -5.9v-67.9l1 5.2v70.8l1 -7.4v-58.9l1 -0.5v56.6l1 -8.1v-61.4l1 6.8v56.9l1 -9.5v-47.5l1 -7.7v52.6l1 18.7v-55.8l1 -10.3v63l1 -10.1v-59.7l1 10.3v44.4l1 24.5v-64.7l1 2.7v61.5l1 -14.7v-41.9l1 -7.6v32.1l1 -2.9v-16.7l1 -10.1v27.1l1 25.7v-46.4l1 -1.6v27.8l1 1.5v-22.5l1 -3.5v26.5l1 -2.4v-20.2l1 -11.3v41.4l1 3.1v-38.9l1 -0.7v33.6l1 6.9v-34.7l1 -5.3v26l1 -7.8v-16.1l1 4.1v23.2l1 -4.6v-33.1l1 6.1v22.1l1 4.8v-20.9l1 3.2v18.5l1 13.9v-38.1l1 1.6v15l1 13.5v-26.3l1 1.7v23l1 -8.4v-22.5l1 6.9v25.7l1 -10.8v-17.6l1 -2.6v43.1l1 -21.2v-22.8l1 3.3v29.4l1 -15.4v-15.8l1 -7.1v31.5l1 -9.2v-15.6l1 -0.9v25.3l1 18.1v-41.4l1 -5.2v49l1 -22.5v-24.3l1 2.4v38.7l1 -18.3v-30.5l1 8.3v44.5l1 -26.8v-22.9l1 7.6v46.5l1 -31.3v-22.2l1 -1.4v36.9l1 8.5v-41.3l1 -1.5v33.9l1 8.8v-46.4l1 2.6v31.4l1 10.6v-37.6l1 -0.6v20.6l1 2.1v-14l1 0.8v12.9l1 1.4v-14.5l1 2.6v11l1 43.9v-58l1 4.5v6.9l1 7.6v-15.7l1 -1.7v9.2l1 3.7v-11.6l1 -0.1v8.8l1 0.5v-9.5l1 1v9l1 0.9v-12.2l1 -2.7v12.4l1 51.3v-64l1 0.6v14l1 0.1v-10.7l1 -1.6v11.5l1 0.2v-14.3l1 3v11.4l1 -0.7v-11.8l1 1v13.3l1 38.8v-56l1 0.4v12.8l1 2.3v-12.8l1 -0.6v12.3l1 -0.4v-12.5l1 1.6v16.7l1 -2.4v-14.2l1 -1.2v18.2l1 41.6v-64.3l1 -3.3v21.4l1 -0.8v-17.5l1 3.7v21.2l1 -8.8v-13.3l1 -4.3v24.5l1 3.6v-22.1l1 -5.6v18.7l1 42.8v-58l1 2.8v12.2l1 -0.4v-12.4l1 -0.6v14.4l1 -2.5v-10l1 -3.5v14l1 0.9v-23.9l1 10.2v13.3l1 3.7v-16.2l1 0.2v12.2l1 49.4v-64l1 -0.9v18.5l1 1.2v-17.5l1 0.1v13.2l1 2.3v-19.8l1 5.9v11.6l1 1.3v-13.8l1 -0.3v13.1l1 44.9v-60l1 -2.1v18l1 -1v-15.6l1 3.1v14l1 -3.4v-11.6l1 -4.8v16.7l1 0v-10.4l1 -1.6v17.9l1 42.7v-62l1 -1.9v16.7l1 0.9v-18.1l1 5.2v12.3l1 1v-13.9l1 -3.3v16.9l1 0.7v-15.6l1 -2.8v14.9l1 40.8v-54l1 2.9v14.5l1 -2.9v-12.6l1 -3.4v20.1l1 3.2v-18.9l1 -0.4v15.4l1 -4.1v-16.8l1 6.1v10.7l1 10.2v-20.4l1 -2v12.7l1 43.5v-58l1 2v12.7l1 1.9v-18.6l1 -0.9v15.7l1 0.3v-14.1l1 -0.6v14l1 4.5v-16.1l1 1.3v24.9l1 18.8v-46l1 -1.3v16.5l1 -0.2v-12.4l1 0.5v13l1 -1.9v-11.3l1 -4.7v18.7l1 7.5v-32.9l1 9.8v14.3l1 9.8v-25.4l1 2.1v13.8l1 1v-24.3l1 6.5v16.2l1 -1.4v-12l1 -2.6v18.7l1 0v-14.9l1 -0.2v10.4l1 8.1v-24.2l1 3.1v14.9l1 0.5v-16.8l1 -3.6v20.5l1 2.8v-16.9l1 -1.8v15.3l1 -1.6v-13.1l1 1.6v13.3l1 0.7v-13.9l1 -3.4v18.4l1 -0.5v-14.7l1 -0.6v14.1l1 -0.3v-13.3l1 -5.7v16.7l1 13.4v-24.3l1 -3.6v24.1l1 -4.8v-15.6l1 -1v15.1l1 10.5v-29l1 3.6v18.4l1 -6.1v-11.5l1 -4v15.2l1 -1.2v-10l1 -0.9v15.2l1 -3.1v-13.1l1 -0.3v21.8l1 -8.6v-11.2l1 -10.1v24.3l1 1.3v-58l1 43.2v10.2l1 5.1v-14.9l1 -3.4v14.1l1 -0.2v-14l1 -4.1v18.3l1 -0.4v-20.3l1 5.7v14.9l1 -0.1v-16.7l1 1.7v14.8l1 0.3v-16l1 -5.1v39.8l1 -17.8v-17.1l1 2.9v14l1 0.1v-14.8l1 -6.7v20.3l1 1.4v-14.9l1 0.7v12.4l1 5.1v-16.3l1 -0.1v11.8l1 5.4v-45.3l1 26.9v16.2l1 1.8v-40.9l1 23.7v12.3l1 1.8v-17.2l1 -4.3v21.7l1 3.3v-21.3l1 -1.3v17.2l1 0.2v-12.4l1 1.8v10l1 1.5v-15.9l1 3.5v11.8l1 2.2v-13.6l1 -3.5v16.6l1 1.4v-19.5l1 3v24.2l1 -12.6v-11.3l1 2.3v10.3l1 3.5v-15.5l1 -5.4v17l1 8.7v-28.6l1 7.3v12.6l1 3.9v-19.6l1 4.4v15.6l1 -2.9v-11.6l1 -0.8v11.7l1 2.2v-14.1l1 1v15.9l1 -4.9v-11.3l1 -16v32l1 -1.5v-15.7l1 -0.9v15.9l1 -2.2v-13.4l1 1.4v13.2l1 -2v-11.7l1 -5.5v18.7l1 0.3v-12.8l1 -12.5v25.4l1 -3.1v-12.4l1 2.9v11.9l1 8.2v-23.2l1 -0.7v15.2l1 2.6v-24.8l1 11v12.6l1 -1.6v-11.7l1 -9.1v34.1l1 -6.7v-23.8l1 5v12.4l1 0.9v-13.7l1 0v13.6l1 8.1v-21.7l1 1.9v14.6l1 -2.9v-17.3l1 1.3v13.8l1 2.8v-19.8l1 4v19l1 -3.7v-15l1 0.8v12.8l1 -0.9v-11l1 -0.3v12.1l1 3v-23.5l1 9.3v11.1l1 12v-59.8l1 28.3v32.4l1 -12.5v-15.7l1 -9.1v27.1l1 -2.7v-12l1 1v9.7l1 12.7v-22.4l1 -6.1v17.4l1 4.1v-19l1 -12.4v28.1l1 -1.8v-16.3l1 -0.4v17.3l1 4.7v-18.8l1 0.3v14.4l1 13.9v-30.6l1 3.7v11.7l1 0.8v-18.1l1 6.2v11.6l1 0.9v-12l1 -1v11.9l1 0.9v-18.4l1 6.2v17.3l1 -2.4v-18.4l1 2v14.2l1 -0.1v-12.6l1 0.6v11l1 2v-16.9l1 -2.7v19.5l1 1.2v-15.2l1 -3v16.3l1 -0.3v-15l1 -9.6v23.5l1 2.6v-14.1l1 -1.8v14.8l1 8.8v-22.3l1 -3.8v23.1l1 -2.7v-48l1 33.5v10.6l1 3.9v-18.8l1 -10v24.8l1 0.2v-15.6l1 4.1v17.2l1 -5.4v-14.7l1 2.7v14.4l1 -0.8v-17l1 3.7v10.6l1 -0.8v-10.8l1 -3.6v15.7l1 -1.4v-12.5l1 0.7v15.6l1 -0.5v-25.8l1 9.2v18l1 0.9v-15.5l1 -3v14.2l1 2.7v-19.8l1 1.3v15.9l1 0.4v-11.9l1 1v19.3l1 -1.9v-18.2l1 -22.5v34.2l1 1.3v-12.5l1 0v10.2l1 -0.6v-24.7l1 13.7v11.8l1 0.6v-13.9l1 0.2v13.8l1 2.2v-16.5l1 3v19.5l1 -5v-14.9l1 0.3v22.9l1 -8.6v-16.9l1 -8.1v25.3l1 -4.3v-10.8l1 -2.7v17.2l1 11.2v-56l1 30.3v11.8l1 1.6v-13.7l1 -1.7v14l1 -1v-11.6l1 0.9v12.6l1 3.3v-16.5l1 -6v19.6l1 0.5v-14.3l1 -0.1v12.4l1 1.8v-18.1l1 4.6v10.4l1 3.4v-14.9l1 0.4v15.4l1 2.4v-22.9l1 4.6v13.1l1 -0.8v-11.9l1 -1.2v16.8l1 1.1v-22l1 4.9v13.6l1 0.3v-23.3l1 10.8v14.4l1 -1.6v-24.9l1 12.2v15.1l1 6.6v-23.1l1 0.3v13.1l1 -1.8v-15.1l1 5.1v13.2l1 -0.7v-12.2l1 -0.3v11.2l1 0.3v-13.1l1 1.5v17l1 -6.4v-10.8l1 -0.4v18.6l1 -4v-21.2l1 -3.3v21.1l1 -0.4v-20.5l1 4.7v17.3l1 5.4v-17.9l1 -0.5v17.1l1 1.4v-54l1 32.9v14.6l1 0.9v-11.6l1 -3v12.8l1 9.6v-26.3l1 5.6v11.6l1 5.9v-19.7l1 2.3v12.4l1 2.2v-14.6l1 -2.2v15.3l1 0.3v-16.4l1 1.9v28.2l1 -7.3v-23.2l1 -1.2v16.7l1 2.3v-20.6l1 3.6v20.5l1 -4.6v-17.1l1 3.9v12.5l1 2.4v-19.4l1 5v17.4l1 -5.1v-13.1l1 0.4v11.9l1 9.8v-26l1 -0.7v18.2l1 0.5v-16.5l1 2.6v15.9l1 -4.3v-13.1l1 -0.9v16.6l1 -2.5v-12.6l1 -6.4v21.7l1 -2.3v-11.2l1 -3.7v15.1l1 -0.3v-15.1l1 1.8v14.2l1 -1.9v-17.3l1 6v15.3l1 7.7v-28.8l1 -9.1v37.3l1 -10.6v-12.4l1 2.4v16.9l1 2v-50l1 12.9v31.2l1 -1.9v-11.9l1 0.7v13l1 -0.3v-14.1l1 1.8v14.7l1 -2v-16.9l1 3.4v10.8l1 5v-21.9l1 6.8v12.6l1 -1.4v-13.2l1 0.8v15.5l1 1.6v-19l1 2.2v15.6l1 -3.5v-11.3l1 -2.2v16.1l1 -0.5v-17.2l1 2.2v15l1 -1.6v-12.1l1 -2.4v25.2l1 -11.5v-17.6l1 6.1v10.8l1 0.1v-14.8l1 -0.7v15.3l1 0.3v-13.2l1 -6.6v20.6l1 0.9v-17l1 3.3v12.8l1 3v-21.3l1 5.6v11.3l1 0.8v-15.2l1 0.1v15.1l1 0.3v-15.4l1 3v17l1 -3.6v-12.6l1 -18.9v35.3l1 -4.6v-13.1l1 -13.7v26.5l1 4.9v-16.6l1 -4.2v22.3l1 -0.8v-17.2l1 0.4v14.4l1 -0.7v-20l1 2v18.8l1 -0.3v-14.6" fill="none" stroke="#000" stroke-width="1.0" stroke-linejoin="round" />
<path d="M1292 553.7l0.4 -0.1l0.5 4l0.5 -7.9l0.4 8.5l0.5 -3l0.4 7.4l0.5 -10.7l0.4 -41.2l0.5 23.5l0.4 62.2l0.5 -18.6l0.4 -11.2l0.5 -7.8l0.4 6l0.5 -9.1l0.4 2.1l0.5 2.6l0.4 -0.4l0.5 -7.6l0.4 8l0.5 -11.2l0.4 -36.7l0.5 42.4l0.4 30.2l0.5 -26l0.4 -9.1l0.5 8.7l0.4 6.1l0.5 -7.9l0.4 8.3l0.5 0l0.4 -14.3l0.5 -15.1l0.4 37.6l0.5 -20.4l0.4 0.6l0.5 5.4l0.4 -0.1l0.5 3.6l0.4 -61.4l0.5 63.1l0.4 15.9l0.5 -25.7l0.4 -0.2l0.5 13.3l0.4 -8.4l0.5 2.5l0.4 7.6l0.5 -16.6l0.4 -48.4l0.5 53.2l0.4 27.3l0.5 -11l0.4 -16.1l0.5 0l0.4 -0.3l0.5 4.2l0.4 -1.8l0.5 4.8l0.4 -7.7l0.5 -31.1l0.4 -8.3l0.5 53.1l0.4 16.5l0.5 -18.1l0.4 -18.1l0.5 17.8l0.4 -7.9l0.5 3.3l0.4 -6.9l0.5 9.2l0.4 -5.2l0.5 -1.9l0.4 -3.8l0.5 -1.1l0.4 -49.8l0.5 51.4l0.4 26.4l0.5 -24.6l0.4 1.6l0.5 2.4l0.4 -3.9l0.5 -1.3l0.4 0l0.5 6.3l0.4 -15.6l0.5 -19.8l0.4 40.4l0.5 -1.7l0.4 1.4l0.5 -7.8l0.4 -6.1l0.5 1.8l0.4 4l0.5 2.1l0.4 -7.9l0.5 -13.9l0.4 -21.4l0.5 80.1l0.4 -30.8l0.5 -9.8l0.4 6.3l0.5 -9.4l0.4 5.4l0.5 -0.2l0.4 -8.8l0.5 -40.7l0.4 29l0.5 54.7l0.4 -25l0.5 -13.7l0.4 2.1l0.5 1.7l0.4 2.6l0.5 -3.7l0.4 3.8l0.5 1l0.4 -3.1l0.5 -45.9l0.4 45.6l0.5 11.8l0.4 -11.7l0.5 -6.1l0.4 2.8l0.5 -4.2l0.4 8.5l0.5 -0.6l0.4 -12.2l0.5 -32l0.4 27.9l0.5 37.5l0.4 -1l0.5 -22l0.4 1.7l0.5 7.6l0.4 -7.4l0.5 -4.2l0.4 12.6l0.5 -11.7l0.4 1.4l0.5 2l0.4 0.1l0.5 -26.3l0.4 11.2l0.5 34l0.4 -5.2l0.5 -26l0.4 10.5l0.5 1.5l0.4 -8.9l0.5 9.6l0.4 -2.2l0.5 0.4l0.4 0.5l0.5 1.9l0.4 -29.2l0.5 -3.4l0.4 59.4l0.5 -23.7l0.4 -1.5l0.5 1.3l0.4 0.9l0.5 1.5l0.4 -1.6l0.5 -7.8l0.4 -26.1l0.5 12.7l0.4 41.3l0.5 -12.3l0.4 -15.5l0.5 5.6l0.4 -5.5l0.5 -3.5l0.4 0l0.5 3.8l0.4 -6.3l0.5 -41.7l0.4 22.2l0.5 61.3l0.4 -12.8l0.5 -15.2l0.4 -7.2l0.5 5.1l0.4 -2.8l0.5 -5.6l0.4 -5.4l0.5 -1l0.4 13.3l0.5 -3.7l0.4 -9.3l0.5 -40.1l0.4 31.3l0.5 52.6l0.4 -18.3l0.5 -8.1l0.4 -14l0.5 2.6l0.4 8.6l0.5 -3.4l0.4 -5.4l0.5 -1.2l0.4 7.7l0.5 -30.3l0.4 -22.4l0.5 62.4l0.4 12.3l0.5 -6.8l0.4 -22l0.5 4.4l0.4 0.2l0.5 6l0.4 -8.8l0.5 2l0.4 -6l0.5 8.5l0.4 -31.6l0.5 -16l0.4 55.1l0.5 11.5l0.4 -14.6l0.5 -0.6l0.4 -7l0.5 2.5l0.4 -4.1l0.5 1.1l0.4 -0.5l0.5 2.1l0.4 2.9l0.5 -59.7l0.4 68.9l0.5 5.5l0.4 -18.1l0.5 -0.4l0.4 5.9l0.5 -3.3l0.4 3.2l0.5 -5.7l0.4 -21.6l0.5 -25.7l0.4 37l0.5 45.6l0.4 -22l0.5 -6.8l0.4 1.2l0.5 -7.2l0.4 0.2l0.5 7.4l0.4 -8.9l0.5 -2l0.4 7.5l0.5 -5.4l0.4 -14.8l0.5 -36.9l0.4 38l0.5 47l0.4 -12.2l0.5 -26.1l0.4 2.1l0.5 3l0.4 5.2l0.5 -9.4l0.4 3.6l0.5 -0.3l0.4 -3.2l0.5 -20.5l0.4 9.7l0.5 34.8l0.4 -17.7l0.5 -4.2l0.4 0.5l0.5 -2.9l0.4 1.6l0.5 5.2l0.4 -7.1l0.5 -15.2l0.4 -22.7l0.5 36.9l0.4 28.9l0.5 -6.8l0.4 -3l0.5 -12.1l0.4 -4.2l0.5 5.3l0.4 -4.3l0.5 3.4l0.4 6.9l0.5 -2.6l0.4 0.6l0.5 -2.2l0.4 -2.2l0.5 -2.1l0.4 -22l0.5 23.9l0.4 17l0.5 -16.6l0.4 7.3l0.5 -1.7l0.4 -6.6l0.5 1.7l0.4 1.8l0.5 -2.2l0.4 -11.8l0.5 -33.7l0.4 32.9l0.5 29.9l0.4 -1.4l0.5 -22.4l0.4 8l0.5 -0.6l0.4 -0.4l0.5 -3.7l0.4 6.9l0.5 -2.7l0.4 -2.8l0.5 -23.4l0.4 4.3l0.5 41l0.4 -10.8l0.5 -6.4l0.4 -2.8l0.5 -1.5l0.4 5.6l0.5 -1.5l0.4 6.2l0.5 -7l0.4 -13.8l0.5 -20.8l0.4 39.5l0.5 7.6l0.4 -1.3l0.5 -14.1l0.4 -0.2l0.5 2.2l0.4 -6.9l0.5 4.6l0.4 -4l0.5 4.5l0.4 2.6l0.5 -19.8l0.4 -38.1l0.5 71.5l0.4 6.1l0.5 -22.5l0.4 1.3l0.5 -11l0.4 11.4l0.5 0.1l0.4 0l0.5 3.2l0.4 -20.8l0.5 -27.2l0.4 21.9l0.5 41.8l0.4 2.5l0.5 -15.8l0.4 -2.7l0.5 -5.3l0.4 1.1l0.5 2.8l0.4 -5.5l0.5 8.5l0.4 -9.7l0.5 5.3l0.4 -1.9l0.5 -13.6l0.4 -28.4l0.5 19.6l0.4 57.4l0.5 -15l0.4 -16.7l0.5 -0.1l0.4 3.3l0.5 -2l0.4 -2.7l0.5 1.1l0.4 -7.9l0.5 4l0.4 1.2l0.5 -9.6l0.4 -35.6l0.5 65.5l0.4 -6.5l0.5 -16.4l0.4 7.6l0.5 -3.4l0.4 -4.2l0.5 9.7l0.4 -6.9l0.5 -0.5l0.4 -23.3l0.5 -0.7l0.4 58.7l0.5 -25l0.4 -9.4l0.5 -2.2l0.4 4.1l0.5 3l0.4 -3l0.5 -5.6l0.4 -8.1l0.5 -11.2l0.4 48.4l0.5 -20.5l0.4 -6.3l0.5 1.7l0.4 4.4l0.5 -4l0.4 2.5l0.5 -32l0.4 -1.6l0.5 55.3l0.4 -3.8l0.5 -22.5l0.4 -0.1l0.5 -0.5l0.4 6.3l0.5 -4.6l0.4 6.1l0.5 -9l0.4 5.6l0.5 -22.5l0.4 -14.2l0.5 34.2l0.4 16.4l0.5 -6.5l0.4 -15.8l0.5 2.1l0.4 10.8l0.5 -9.3l0.4 6.6l0.5 -6.7l0.4 -3.2l0.5 4.9l0.4 -0.4l0.5 -40.9l0.4 19.9l0.5 58.4l0.4 -21.1l0.5 -18.3l0.4 7.8l0.5 0.7l0.4 -5.4l0.5 1.4l0.4 -1.6l0.5 -3.4l0.4 -6.8l0.5 -49l0.4 80.4l0.5 -1l0.4 -18.2l0.5 6.5l0.4 -7.7l0.5 0.9l0.4 -0.2l0.5 -1.4l0.4 -11.7l0.5 -46.7l0.4 34.2l0.5 61.3l0.4 -14.8l0.5 -21.5l0.4 3.8l0.5 1.2l0.4 -3.5l0.5 0.5l0.4 5.3l0.5 0.7l0.4 -6.9l0.5 -12.3l0.4 12.2l0.5 -47.8l0.4 22l0.5 59.4l0.4 -21.7l0.5 -12.3l0.4 1.3l0.5 -1.3l0.4 -6.2l0.5 8.1l0.4 -4.3l0.5 1.1l0.4 -2l0.5 -59.2l0.4 78.9l0.5 -1l0.4 -16.5l0.5 -0.6l0.4 3.4l0.5 -3.9l0.4 -4.8l0.5 10.6l0.4 -48.4l0.5 22.8l0.4 48.5l0.5 -20l0.4 -9.2l0.5 -0.6l0.4 8.7l0.5 -13.9l0.4 7.7l0.5 -0.9l0.4 0.4l0.5 -0.3l0.4 -14.5l0.5 -25.2l0.4 22.6l0.5 42.7l0.4 -18.5l0.5 -13.9l0.4 6.9l0.5 -4.2l0.4 0l0.5 2.5l0.4 2.1l0.5 -2l0.4 -2.6l0.5 -8.3l0.4 -25.4l0.5 47.6l0.4 12.6l0.5 -20.7l0.4 -2.6l0.5 -2.3l0.4 9.2l0.5 -7.4l0.4 10.6l0.5 -16.8l0.4 1.3l0.5 -34.5l0.4 36l0.5 32.6l0.4 -12.3l0.5 -16.7l0.4 -3.2l0.5 0.8l0.4 7.6l0.5 -2.1l0.4 -7l0.5 7l0.4 1.2l0.5 -42.2l0.4 -2.9l0.5 55.7l0.4 9.6l0.5 -10.7l0.4 -13.6l0.5 3.1l0.4 2.1l0.5 -5.3l0.4 5.1l0.5 -3.7l0.4 7.6l0.5 -1.5l0.4 -12.6l0.5 -37.4l0.4 66.5l0.5 -9.8l0.4 -16.8l0.5 11.5l0.4 -5.2l0.5 -5.8l0.4 3.2l0.5 -2l0.4 -0.9l0.5 -31.8l0.4 2l0.5 42.3l0.4 10.9l0.5 -19.1l0.4 -5.9l0.5 2.6l0.4 6.7l0.5 -0.7l0.4 -3.9l0.5 -0.7l0.4 1.7l0.5 10.8l0.4 -28.7l0.5 -39.2l0.4 69l0.5 10.5l0.4 -29.6l0.5 15.2l0.4 -6.7l0.5 -2.1l0.4 11.1l0.5 -16.9l0.4 1.2l0.5 5.8l0.4 -45.8l0.5 36.7l0.4 42.5l0.5 -25.4l0.4 -15.5l0.5 7.2l0.4 -7.6l0.5 7.3l0.4 -3.4l0.5 4.7l0.4 1.3l0.5 -21.5l0.4 -13.2l0.5 58.5l0.4 -23.3l0.5 6l0.4 -11.5l0.5 -5.6l0.4 4.1l0.5 4l0.4 -22.3l0.5 -48l0.4 37l0.5 74.7l0.4 -12l0.5 -23.7l0.4 -9.1l0.5 0.2l0.4 4.6l0.5 1l0.4 -6l0.5 -3.6l0.4 10.5l0.5 -6.6l0.4 -3.9l0.5 -20.1l0.4 30l0.5 9.5l0.4 -16.2l0.5 5.5l0.4 -8.1l0.5 8.7l0.4 -1.8l0.5 -6.8l0.4 3.6l0.5 -11l0.4 -56.1l0.5 90.6l0.4 2.5l0.5 -24l0.4 -1.3l0.5 0.9l0.4 4.1l0.5 -3.9l0.4 3l0.5 -14.1l0.4 -9.2l0.5 35.7l0.4 -4.6l0.5 -5.7l0.4 -3.6l0.5 11.9l0.4 -16.3l0.5 4.2l0.4 6.9l0.5 -4.3l0.4 -29.4l0.5 -23.9l0.4 55.4l0.5 27.2l0.4 -21.6l0.5 -2.4l0.4 -8.5l0.5 1.2l0.4 -7.9l0.5 9.4l0.4 -10.5" fill="none" stroke="#000" stroke-width="1.0" stroke-linejoin="round" />
<path d="M92.5 1179.9v-18.9l1 5.6v13.4l1 4.8v-21.4l1 1.9v15.5l1 6.2v-24.3l1 -7.2v23.1l1 0.1v-11.2l1 -2.5v15l1 5.8v-18.9l1 -1.6v17.7l1 -2.2v-14.3l1 -4.5v22.9l1 -4.7v-15.3l1 -0.4v19.8l1 8.5v-29.3l1 -2.2v24.3l1 -1v-17.5l1 -0.6v14.4l1 5.1v-23.1l1 3.1v14.2l1 7.4v-22.4l1 -3.8v19.5l1 -2v-17l1 1.4v23.2l1 -2.3v-17.6l1 -7.8v29.8l1 0.2v-33l1 8.6v27.5l1 -1.5v-26l1 -25.8v49.7l1 -1.2v-39.8l1 10.3v38.2l1 -4.7v-38.1l1 3.8v29l1 5.9v-67.1l1 34.9v38.1l1 7.1v-47l1 5.9v24l1 17v-87.7l1 41.2v38.3l1 0v-36.7l1 -22.1v48.5l1 12.1v-42l1 6.2v37.9l1 -15.7v-60.8l1 6v56.2l1 2.7v-78l1 38.1v42.6l1 -4v-74.2l1 8v75.7l1 0.4v-36.9l1 -14v46.7l1 8.7v-92.8l1 30.1v57l1 0.1v-35.4l1 -14.6v37l1 4v-46.3l1 -26.4v74.7l1 13.7v-49.5l1 -5.5v37l1 1.3v-76.8l1 37.3v46.6l1 3.9v-69.7l1 14.5v46.5l1 13.9v-81l1 14.4v60.1l1 -0.2v-59.7l1 9.2v40.6l1 22.7v-49.3l1 -2.8v42.2l1 2.1v-42.7l1 0.4v38.5l1 -2.4v-44l1 1.3v33.6l1 7.3v-34.5l1 -11.7v46.1l1 -0.1v-39.3l1 -14.8v67.5l1 -18.6v-78.8l1 53.2v31.1l1 -2.2v-43.1l1 -28.1v64.8l1 2.6v-29.5l1 -1.8v32.7l1 9.4v-36.4l1 -0.4v39.5l1 -9.3v-27.9l1 -13.8v41.7l1 -1.7v-69.8l1 36v41.1l1 2.1v-40.6l1 -45.9v78.5l1 0v-41.5l1 -32.1v76.4l1 -3.1v-33.1l1 -2.5v28.8l1 4.7v-28.6l1 3.9v23.9l1 10.5v-38.6l1 -44.4v72.6l1 -2.7v-31l1 8.2v33.6l1 0.7v-35.8l1 -5.4v29.9l1 18.1v-86.5l1 44v26.6l1 12.1v-50.1l1 11.1v38.6l1 5.1v-41.7l1 -4.8v40.3l1 -7.8v-30.6l1 -3.2v35.5l1 21.7v-82.4l1 -9v67l1 0.6v-63.7l1 26.2v43.1l1 -7.1v-44.2l1 -26.5v69.6l1 14.7v-93.1l1 40.9v41.7l1 -7.6v-36.2l1 12.9v37.8l1 -1.7v-41.4l1 -2v33.6l1 18.7v-67.7l1 21v42.5l1 -9.8v-51.9l1 -3.9v64.7l1 -1.7v-47.3l1 -2.7v49l1 -2.5v-65.6l1 11.3v46.8l1 -0.7v-23.3l1 -54.2v80.1l1 2v-30.3l1 -16.4v60.7l1 -21.1v-60.8l1 25.8v43.4l1 -5.2v-27.9l1 -21.6v53.3l1 -2.6v-35.2l1 -17.3v50.9l1 12.3v-38l1 -16.4v43.6l1 6.1v-55.1l1 -27.4v81.3l1 -6.6v-65.3l1 24.4v50.4l1 4.8v-40.8l1 -36.5v72.3l1 -7.7v-92.6l1 64.2v30.4l1 -4.2v-27.5l1 -1.3v28.1l1 13.7v-57l1 -35.2v88l1 44.3v-106l1 27.8v40.7l1 -17.4v-23.4l1 -36v64.2l1 -3.7v-79.5l1 -12.6v93.3l1 4.2v-28.7l1 -24.8v70.1l1 -9.2v-44.9l1 6.8v31.2l1 8.6v-38.1l1 -3.6v45.7l1 6.1v-132.8l1 82.9v23.4l1 1.8v-28l1 -1v48.3l1 -19.6v-33.4l1 -2.2v50.8l1 -14.9v-78l1 42.8v36.6l1 -2.4v-35l1 -53.6v110.3l1 -19.5v-53l1 16.3v37.6l1 7v-87.4l1 22.1v57.5l1 13.2v-45.4l1 1.6v34.8l1 1.2v-38.2l1 -30.9v64.1l1 6.4v-38.1l1 -32.5v66.4l1 -4.5v-68.6l1 23.9v68.2l1 -19.4v-82.8l1 53.9v33.4l1 -6.4v-34.1l1 6.3v36.1l1 -7.8v-65.6l1 37.5v26.4l1 1v-98.3l1 4v106.7l1 1.4v-41.1l1 3.3v44.2l1 -22v-27.2l1 -16.5v47.1l1 23.4v-59.2l1 -0.7v36.1l1 6.4v-34.6l1 -3.6v32.2l1 9.6v-65.2l1 10.3v58.2l1 7.8v-47.5l1 -21.1v56.8l1 13.5v-65.5l1 -10.3v54.3l1 14.4v-43.9l1 -8.4v40.5l1 3.6v-76.8l1 35.8v47.1l1 -16.2v-27.8l1 5.4v30.7l1 0v-34l1 3.1v32.2l1 9.4v-42.3l1 -6.2v42l1 -5.6v-84l1 47.4v37.3l1 2.9v-38.6l1 -35.4v74.7l1 8.3v-50.6l1 -32.6v74.2l1 4.9v-43l1 -66.2v105.9l1 -8.6v-32.9l1 -14.3v61.4l1 -11.4v-34.1l1 -0.3v38.5l1 -10.4v-31l1 -13.8v64l1 -4.7v-71.6l1 25v42.7l1 11.4v-52.5l1 0.6v44.3l1 4.9v-43.9l1 -42.1v79.8l1 -9.9v-30.5l1 0.5v37.1l1 -5.5v-56.1l1 26.9v28.8l1 20.3v-71.9l1 -62.9v120.1l1 0.1v-47.6l1 -3v42.8l1 2.8v-57.4l1 25v31.8l1 7.1v-73.6l1 31.7v41.7l1 -8.2v-29.4l1 -38.8v64.3l1 11.6v-39.5l1 4.3v40.3l1 -4.4v-38.4l1 3.6v52.6l1 -25.5v-47.2l1 -30.2v81.1l1 -0.2v-30.5l1 -8.7v46.4l1 -6.9v-79.6l1 29.6v43.6l1 17.8v-74.6l1 27.8v26.3l1 13.7v-59.5l1 -28.5v78.2l1 -2.9v-50.4l1 25.7v37.5l1 -7.1v-32.4l1 -24.5v74.1l1 -4.8v-44.4l1 -5.1v49.4l1 -7.9v-77.1l1 -1.7v77.4l1 -0.4v-122l1 87.6v34.5l1 12.2v-95.9l1 37v47.3l1 3.9v-74.8l1 17.4v46.8l1 3.6v-28.3l1 -28.9v54.1l1 4.2v-51l1 10.4v48.7l1 -10.5v-95.1l1 42.5v46.3l1 6.1v-102.2l1 58.2v39.6l1 21v-75.8l1 19.8v43.9l1 8.8v-48.3l1 -0.4v44.5l1 0.3v-36.3l1 -8.4v49.7l1 -8.9v-32.7l1 -15.5v56.4l1 -16v-74.3l1 43.2v46.7l1 -10.5v-34.4l1 1.2v36.4l1 -2v-94l1 60.1v32.8l1 5v-37l1 -43.3v69.7l1 5.7v-35.6l1 -18.9v62l1 8.9v-49.3l1 3.2v32.1l1 1.7v-65.2l1 -14.9v81.3l1 -9.6v-27.3l1 -54.2v82.2l1 -5.4v-53.5l1 31.1v26.1l1 13.9v-44.7l1 -0.4v32.7l1 7.1v-34.6l1 -28.1v67l1 -9.8v-73.7l1 44.3v30.6l1 -3v-75l1 46.4v36.8l1 -6.6v-46.4l1 16.1v39l1 -1.8v-36.8l1 -3.4v38.2l1 -2.5v-34.5l1 1.1v39.6l1 -9.6v-30.1l1 1.7v27.3l1 3.8v-88.2l1 43.4v48.9l1 -6.5v-48.1l1 10.1v41.9l1 2v-48l1 -7.5v54.6l1 11.7v-46.7l1 -5.6v63.2l1 -17.9v-44.7l1 -40.7v83.3l1 6.8v-57l1 14.8v44.4l1 -4.1v-75.1l1 26v36.5l1 12.6v-42.3l1 -63.3v88.8l1 3.2v-36l1 -12.1v49.2l1 -2.4v-57.9l1 6.5v56.6l1 -7.3v-47.1l1 24.9v46.7l1 6.5v-58.8l1 -5.5v46.8l1 -6v-60.9l1 20.1v45.2l1 7.2v-55.6l1 2.4v52l1 -8.4v-34.7l1 -35.1v74.2l1 -5.8v-33.6l1 -10.6v50.6l1 -5.8v-30.7l1 -25.4v61.5l1 0.1v-67.3l1 2.8v63.4l1 -5.9v-48.5l1 17.5v25.1l1 15.3v-80.8l1 15.5v58.8l1 0.1v-62.4l1 29v42.7l1 -11.9v-60l1 10.9v42.9l1 9.4v-71.9l1 28.5v31.9l1 8.5v-38.5l1 -1.9v33.6l1 1.4v-73.6l1 48.1v23.5l1 9.1v-49.3l1 9.1v48.5l1 -14.8v-82.7l1 51.4v44.8l1 -0.6v-78.9l1 38.6v24.2l1 2.1v-30.5l1 3.4v37.3l1 -2.1v-66.2l1 28v45.7l1 -14.9v-44l1 16.4v36l1 -4.2v-49.1l1 -12.2v57.8l1 -1.3v-27.8l1 2.4v25.3l1 6.4v-37.8l1 6.7v29.5l1 0.8v-45.8l1 9.1v35.7l1 10.1v-41.9l1 -49.9v76.9l1 6.9v-79.9l1 39.9v33.3l1 7.2v-72.9l1 31.7v40.7l1 -2.5v-53.6l1 -20v78l1 -2.9v-36.8l1 2.8v30.1l1 -3.7v-66.7l1 3.8v68.6l1 2.7v-55.9l1 22.5v30l1 7.4v-33.9l1 -16.6v70l1 -24.4v-83.1l1 45.6v38.2l1 3v-35.4l1 -27.8v53.9l1 0.9v-50.2l1 17.1v43.1l1 4.5v-45.8l1 1.4v40l1 -10.8v-33.7l1 -11.6v58.9l1 -14v-55.4l1 28.7v36.4l1 -0.2v-35.2l1 -7v32.2l1 0.3v-39.4l1 -5v52.3l1 -0.4v-31.8l1 -2.9v32.8l1 -5.3v-30.6l1 -25.1v57l1 -1.3v-41.7l1 17.5v30.7l1 1.8v-31.7l1 -2.1v54.4l1 -27.5v-67.4l1 -9v88.1l1 -4.7v-52.3l1 -10.6v62.4l1 7.9v-73.7l1 28.8v35.2l1 9.2v-39.8l1 0.2v37.5l1 -8.5v-56.5l1 1.5v54.7l1 -2.3v-26.2l1 0v22.8l1 22.3v-47.7l1 -6.3v32.5l1 15.8v-40.9l1 -1.7v42.9l1 -15.8v-68.7l1 27.9v47.2l1 11.7v-67.1l1 23.5v47.7l1 -18.5v-47.7l1 6.4v48.4l1 2.5v-52.3l1 -7.1v48.4l1 10.8v-37.3l1 -47.8v80.6l1 13.4v-50.1l1 0.1v26.4l1 10.3v-34.2l1 -21.1v51.2l1 -0.3v-75l1 38.5v30.8l1 17.1v-54.4l1 3.9v38.3l1 -2.4v-32.1l1 -34v67.7l1 7.8v-37.7l1 -31.9v67.5l1 -5.3v-58.1l1 -17.2v71.5l1 10.9v-91.8l1 55.3v32.9l1 -6.9v-38.9l1 15.3v24.4l1 13v-58l1 4.1v52.8l1 -7.5v-53.7l1 -3.8v70.5l1 -0.6v-41.1l1 -26.6v77.8l1 -21.5v-55.2l1 25.8v33.8l1 10v-45.5l1 -43.5v83l1 -12.8v-27.1l1 -4.8v32.1l1 19v-52.4l1 1.7v31.3l1 -0.5v-81.4l1 54.9v40.1l1 8.8v-94.3l1 45.1v41.1l1 -0.5v-41.5l1 -34.2v67.4l1 2.1v-60.9l1 -25.2v77.6l1 4.6v-64.1l1 -10.4v70.7l1 8v-41.2l1 9v30.6l1 0.4v-57.6l1 14v42l1 -4.9v-48.7l1 -0.7v63.8l1 -6.9v-32.7l1 -1.1v29.6l1 6.7v-53.8l1 16.1v30l1 -3v-26.3l1 -49v80.1l1 3.1v-33.1l1 -56.5v110.8l1 -30.8v-74.1l1 48.9v39.6l1 11.2v-88.7l1 18.2v52.8l1 3.9v-36.4l1 -56.8v101.3l1 -6.8v-54.3l1 -36.4v81.4l1 -2.6v-37.5l1 -6.4v56.6l1 -10.9v-73.6l1 42.4v39.9l1 0.4v-41l1 -3.2v48.5l1 -17.9v-35.6l1 -1.4v43.4l1 -4.4v-45.3l1 -20.1v73.2l1 0v-106l1 44.5v61.7l1 -6.6v-28.9l1 -23.5v76.3l1 -17.7v-66.8l1 22v53.6l1 -17.4v-26.2l1 1.5v29.4l1 2.5v-34.9l1 6.1v27.5l1 -3.8v-26.7l1 -0.1v33.6l1 1.8v-44l1 -45.2v93.1l1 -3.4v-60.2l1 7.1v55.4l1 -13.7v-29.4l1 8.7v31.6l1 -6.7v-45.1l1 15.2v26.1l1 7.2v-37.3l1 8.3v26.1l1 0.6v-70.6l1 39.8v33.9l1 -4.3v-72.9l1 21.9v54.3l1 2.5v-33.4l1 1.4v29.6l1 -2v-47l1 17.1v37.3l1 -1.7v-63.8l1 -25v96.5l1 -19.4v-25.7l1 -9.8v41l1 -2v-65.2l1 35.8v39.1l1 -8.4v-28.8l1 1.2v24.9l1 3.3v-35.4l1 1.8v28.2l1 17.8v-51.5l1 9.8v30.2l1 7.4v-36.2l1 -10.5v51.8l1 -7.6v-72.5l1 35.6v40l1 0.1v-40.2l1 -2.5v27.4l1 1.9v-24.1l1 -14.3v46l1 3.3v-79.6l1 10.3v58.3l1 7.3v-47.1l1 3.1v41l1 5.2v-55.5l1 20.6v52.5l1 -16.9v-34l1 -25v68.2l1 -8.7v-51.1l1 13.8v34.4l1 4.4v-34.9l1 -8.6v42.7l1 -2.3v-32.2l1 -9v51.9l1 -20.8v-69l1 36.2v34.6l1 0.5v-30.5l1 2.9v40.9l1 -13v-36.1l1 -9.1v42.8l1 2.9v-40.3l1 0.3v40l1 2.2v-28.4l1 -26.8v57.4l1 3.5v-58.1l1 6.2v42.4l1 8.9v-40.8l1 -7.3v37.7l1 2v-41.3l1 -7.2v52.5l1 0.6v-35.7l1 7.7v35.6l1 -8.1v-28.9l1 -1v28.8l1 -1.7v-46.9l1 22.5v21.8l1 11.6v-70.7l1 26.7v37.9l1 -5.7v-38.3l1 5.1v36l1 -3.9v-26.3l1 -34.8v77.7l1 -13.8v-23.9l1 -29.6v53l1 15.1v-39.5l1 -16.7v63.3l1 -24.6v-28.1l1 -9v50.4l1 1.7v-41.5l1 -7.5v48.1l1 1.9v-71.5l1 -6v66.3l1 -3.3v-45.5l1 -13.8v68.1l1 -1.5v-56.8l1 -9.1v75.4l1 -18.4v-64.5l1 39.7v41.6l1 1v-57.1l1 -4.7v55.8l1 -3.2v-41.2l1 -4.4v58.4l1 -10.5v-80.1l1 46.2v30.4l1 -1.5v-25.5l1 -2.2v48l1 -15.7v-41.7l1 8.1v31.3l1 6.9v-66.7l1 26.3v45.5l1 -11.8v-43l1 14.8v21.2l1 2.6v-62.1l1 38v27.9l1 -0.6v-26.8l1 -18.1v39.1l1 9.1v-30.7l1 -0.1v44.1l1 -7.4v-36.1l1 -25.6v47.4l1 16.8v-71.1l1 28.5v30.7l1 5.8v-35.6l1 -44.6v75.4l1 -1.7v-27.5l1 -1.2v29l1 -0.5v-33.5l1 7v21.4l1 22v-46l1 1.2v42l1 -16.2v-37.2l1 6v38l1 6.5v-55.1l1 5.9v40l1 19v-49.2l1 -44.1v77.9l1 -7.6v-64.2l1 29.2v39l1 -4.3v-25.3l1 -12.9v52.6l1 -7.3v-68.5l1 -10v74.3l1 1.5v-41.2l1 7.9v41.5l1 3.4v-40.8l1 -0.4v35.9l1 -2.9v-32.8l1 -1.3v29l1 16.6v-72.2l1 26.4v36.8l1 11.5v-119.2l1 39.4v56.7l1 1.9v-27.5l1 1.2v27.9l1 0.9v-33.2l1 -13.6v43.9l1 12.2v-89.1l1 50.3v27.2l1 15.8v-59.1l1 5.5v33.5l1 15.1v-40.7l1 2.3v39.3l1 0.4v-37.4l1 -51.3v76.4l1 5.3v-36.8l1 4.5v32l1 -2.3v-27.8l1 -2.1v40.5l1 1.8v-53.5l1 10.6v69.1l1 -41.1v-96.9l1 56.6v40l1 -0.3v-25.9l1 -4.2v38.4l1 -6.6v-30.4l1 -71.9v99.9l1 0.1v-91.6l1 31v64l1 -6.3v-29.7l1 -53.6v89.8l1 13.5v-86.4l1 -13.4v86l1 -1.5v-66.1l1 38.8v28.1l1 4.2v-36.2l1 -32.6v66.1l1 0v-32.4l1 -5.7v39.4l1 12.7v-66.8l1 7.2v41.9l1 -2.6v-27.1l1 -13.1v58.7l1 -18v-30.5l1 3.3v28.1l1 2.9v-94.7l1 55.7v36.4l1 4.9v-50.2l1 -57.7v105.5l1 1.7v-29.3l1 -37.2v63.4l1 12v-72.9l1 -33.6v91.8l1 0.8v-74.8l1 14.3v59.7l1 0v-32.6l1 -20v53.3l1 5v-73.5l1 46.5v31.6l1 2v-39.8l1 4.7v25.2l1 20.9v-126.2l1 76.9v28.4l1 12.9v-37.7l1 -10.9v45.6l1 3.6v-56.1l1 -16.3v63.4l1 20.3v-111.8l1 51.2v46.9l1 11.2v-46.5l1 -0.4v32.8l1 26.5v-81.3l1 22.9v31.4l1 -5.5v-30.2l1 2.6v40.4l1 -4.5v-35.6l1 -6.5v28.7l1 14.1v-52.8l1 17.7v32.3l1 1.7v-46.9l1 5.7v28.6l1 9.9v-91l1 59.4v44.1l1 -16.6v-65.3l1 23.9v44.8l1 -8v-35.5l1 12.4v30.2l1 -9.4v-27l1 -3.8v32.3l1 1.5v-26.6l1 -12.2v46.9l1 8.6v-43.3l1 0.5v46.9l1 -17v-39.9l1 5.8v28.4l1 6.2v-30.8l1 0.1v28.1l1 -2.4v-94.6l1 71.6v24.3l1 0.4v-26.2l1 2.6v26.9l1 -0.5v-29.9l1 -33.6v61.1l1 12.3v-39.5l1 2.1v32.2l1 -7.9v-58.3l1 11.1v45.9l1 4.5v-29.4l1 -4.3v37.4l1 2.9v-34.3l1 -23v46.6l1 0.6v-35.3l1 -22v65.8l1 -10v-39.1l1 -15.5v56.1l1 14.7v-42.1l1 -24.6v59l1 8.9v-40.1l1 -36.3v69.7l1 -11.7v-29.6l1 -22.7v53.2l1 10v-32.3l1 2.8v19l1 3.6v-28.2l1 6.4v18.4l1 -4.9v-18.7l1 5.8v15.7l1 -3.9v-15.3l1 2.8v21.9l1 -1.5v-18.9l1 -5.3v18.5l1 -0.3v-14.7l1 -3.6v18.4l1 0.2v-14l1 -2.4v21.6l1 -3.1v-20.9l1 4.3v24.2l1 -9.7v-26.7l1 9.1v16.2l1 0v-13.5l1 1.5v21.2l1 -8v-29.3l1 9.3v26.5l1 -4.8v-17.5l1 -2.9v18.1l1 4.2v-21.7l1 -3.5v30.9l1 -8.7v-23.8l1 2.4v23.6l1 -3.5v-13.6l1 0.7v20.9l1 -4.6v-19l1 -0.5v17.8l1 6.8v-21.9l1 -0.3v14.5l1 0.2v-14.1l1 -4.4v27.7l1 -6.1v-15.6l1 -8.5v19.8l1 14.7v-30.8l1 3.2v13.2l1 7.1v-20.6l1 -4.4v23.7l1 -1.7v-18.6l1 -3.3v25.2l1 -4.5v-16.8l1 -0.3v14.2l1 4v-16.4l1 -5.5v18.5l1 4.4v-22.6l1 3.3v22.2l1 -2.2v-28.8l1 6.9v15.8l1 1.9v-17.8l1 1.5v20.3l1 -2.3v-25.8l1 4.2v21.9l1 0.3v-17.3l1 -6.9v19.9l1 1.4v-15.3l1 1.6v15.4l1 0.1v-19.1l1 1v20.9l1 -4.4v-16.5l1 -0.8v15.7l1 1v-18" fill="none" stroke="#000" stroke-width="1.0" stroke-linejoin="round" />
<path d="M1013.5 1178.7v-12.4l1 -6.5v18.3l1 0.4v-15.7l1 2.1v15l1 -2.9v-12.8l1 -1.9v14.2l1 6.6v-18.1l1 -1.2v13.2l1 1.3v-15.6l1 -5.3v19.1l1 -0.2v-11.4l1 0.7v18.9l1 -4.6v-20.3l1 -6.8v24.4l1 1.1v-12l1 -1.3v13.2l1 6.4v-19.2l1 -1.4v13l1 14.2v-28l1 0.5v15.4l1 -2v-18.5l1 5.9v16.2l1 0.4v-21.8l1 4.5v15l1 -1.3v-13.5l1 -6.2v19.2l1 12.3v-51l1 27.1v15.4l1 -2.9v-16.4l1 0.9v24.2l1 -5.1v-16.3l1 -0.8v19.2l1 -2.1v-15.5l1 -2.4v16.1l1 -1.9v-11.4l1 -7.9v19.6l1 -1.2v-14.8l1 -3.8v20l1 0.5v-22.9l1 8.7v14.1l1 -2.2v-10.9l1 -1.3v17.4l1 -4.4v-14.1l1 1.9v14.8l1 0.7v-16.8l1 -5.2v23.5l1 -4.5v-16.4l1 2.9v15.5l1 5.9v-20.2l1 -1.7v14.3l1 3.5v-16.7l1 0.2v14.9l1 -2.1v-14.5l1 2.7v20.1l1 -7.7v-18.2l1 4.8v13.2l1 23.2v-52l1 15.6v12.7l1 2.5v-17.3l1 0.8v21.8l1 -4.7v-22.3l1 3.6v14.9l1 1.9v-18l1 0.3v15l1 2.7v-17.9l1 3.4v22l1 -6.7v-14.3l1 -2.3v14.8l1 2.7v-14.4l1 -2.6v14.6l1 3.1v-16.2l1 -7.2v18.8l1 -0.4v-18.8l1 9.1v13.5l1 -1.9v-12.2l1 -0.2v15.6l1 -3.5v-15.1l1 2.9v17.2l1 -6v-13.7l1 1.9v19.8l1 -7.1v-20.3l1 6.6v13.9l1 -1.1v-13.5l1 -2.5v17.3l1 1.1v-14.4l1 -0.3v17.1l1 -3.4v-15.2l1 3v10.9l1 -0.4v-10.3l1 -1.2v12.5l1 -0.3v-14.2l1 2.3v17.2l1 3.5v-25.3l1 4.6v11.3l1 5.4v-17.4l1 -1.7v15.3l1 -1.3v-12.9l1 0.4v18.6l1 -6.2v-14.8l1 -0.4v16.2l1 -0.5v-16l1 2.8v13.9l1 -1.3v-12.3l1 -4.3v21.2l1 4.8v-26.7l1 -0.2v22.1l1 -3.9v-16.8l1 5.6v11.2l1 8.8v-25l1 -2.5v18.8l1 6.9v-21.5l1 -9.4v29.6l1 0.5v-20.2l1 -1.1v23l1 -9v-11.3l1 0.4v12.5l1 -1.2v-11.9l1 -0.1v12.6l1 1.5v-14l1 -4.4v17.1l1 -1.3v-12.1l1 -2.4v15.3l1 -0.3v-10.5l1 -5.3v19.2l1 7.5v-22.7l1 -4.7v17.6l1 2.4v-13.7l1 -0.6v10.7l1 8.2v-27.4l1 7v12.4l1 -0.3v-15.3l1 3.8v12.7l1 1.4v-14.6l1 -1.5v15.1l1 -1.2v-12.2l1 -0.3v13.7l1 -0.1v-13.6l1 -5.3v23.3l1 -2.6v-18.5l1 -3.1v19.4l1 4.9v-18.6l1 2.2v14l1 0.3v-17.1l1 -1.5v18.8l1 7.1v-26.1l1 1.9v13.7l1 -0.5v-11.9l1 -2.8v18.7l1 0.7v-16.5l1 -0.4v12.2l1 0.5v-12.4l1 -0.3v13.6l1 -0.1v-15.1l1 -1.1v19.2l1 -0.7v-14.4l1 -1.6v18.3l1 -4.4v-14l1 -0.5v19.2l1 0.7v-17.7l1 -5.1v16.7l1 5.6v-20.5l1 2.7v14.9l1 -1.6v-13.4l1 0v12.2l1 -0.8v-12.2l1 -7.8v26.7l1 -3.7v-15.8l1 -5.2v17.7l1 2.4v-13.9l1 0.6v14.2l1 -1.7v-14.1l1 -1.9v15.7l1 -0.5v-14.8l1 -5.4v20.2l1 -0.3v-17.8l1 6.3v16.1l1 -1.7v-18.4l1 -0.3v16.8l1 11.5v-25.9l1 -2.9v19.1l1 -1v-15.6l1 2.4v16.8l1 -2.6v-15.9l1 2.8v13.2l1 0.8v-16.7l1 -0.8v14.4l1 0.1v-13.2l1 -2.9v15l1 0.6v-11.6l1 -3.2v14.2l1 10.2v-21.8l1 1.2v15.6l1 -1.6v-16.1l1 -0.9v17.5l1 0v-16l1 0.5v17.2l1 -3.3v-20l1 -0.5v22.8l1 -3.3v-13.6l1 1.5v10.4l1 5.6v-15.7l1 -0.1v12.4l1 4.7v-18.7l1 -0.1v14.7l1 0.4v-15.1l1 -2.7v20.5l1 -2.2v-16.8l1 1.2v13.1l1 1.2v-16l1 2.8v14l1 -2.3v-18l1 5v16.5l1 -1.1v-15.6l1 1.9v14l1 8.2v-23l1 -1.9v17.4l1 -3.3v-17.5l1 2.8v18.5l1 -3v-17.1l1 2.1v14l1 0.5v-22.1l1 8.8v14.3l1 -1.4v-18.7l1 3.1v21.2l1 -2.6v-15.3l1 -6.7v19.8l1 1.5v-14.2l1 1v16.6l1 -5.4v-13.9l1 -4.3v18.3l1 4.5v-18l1 0v24.7l1 -10.7v-16l1 4.4v17.3l1 -5.7v-13.3l1 -4.7v18.1l1 -0.2v-12.6l1 -0.7v12.9l1 4.5v-17.9l1 -1.2v13.2l1 0.1v-12.7l1 2.7v10.6l1 7v-18.9l1 -6v22.4l1 -5.1v-17.1l1 4.4v15.2l1 -0.8v-17.2l1 3.3v12.7l1 3v-15.7l1 -2.3v15l1 6v-18.2l1 -3.2v16.3l1 3.7v-16.5l1 -0.8v14.6l1 -0.6v-13.3l1 0.6v12l1 1.8v-13.1l1 -1.7v13.8l1 0.1v-16.1l1 3.2v13.9l1 0.5v-14.9l1 -1.3v12.9l1 1.6v-24.1l1 1v22.6l1 -0.3v-11.2l1 -3.7v18.7l1 -0.1v-18.9l1 2.9v22.6l1 -9v-16.7l1 1.8v13.9l1 1.9v-14.4l1 -0.6v17.2l1 -4.9v-15.5l1 2.7v14l1 -0.3v-13.7l1 1.6v10.8l1 1.7v-13.3l1 -4.3v18.5l1 -1.6v-13l1 -1.7v14.2l1 1.8v-15.8l1 -1.8v24.6l1 -4.4v-15.9l1 -2.7v22.8l1 -7.5v-15l1 0.9v14.2l1 0v-15.3l1 -3.1v18.5l1 0.5v-13.4l1 -5.5v31.4l1 -11.4v-16.1l1 0v16.1l1 -1.4v-12.5l1 0v16.4l1 -0.4v-15.5l1 -1v13l1 -0.1v-14.4l1 1.5v19.5l1 -2.9v-19.9l1 2.8v18.6l1 -6.5v-11.9l1 -0.6v13.8l1 -1.8v-15.7l1 0.5v16.4l1 4.9v-20.2l1 -1.6v17.3l1 1.8v-20.1l1 4.3v13.6l1 0.4v-19.3l1 6.6v11l1 1.3v-14.4l1 -0.2v14.7l1 3v-20.7l1 5.3v11.5l1 1v-12.1l1 -1.7v12.6l1 -0.2v-11.9l1 0.3v16.4l1 -0.6v-20.8l1 1.6v16.9l1 4.2v-17.5l1 0.5v13.6l1 -0.3v-13.9l1 0.7v17.2l1 -5.4v-14l1 -23.1v74l1 -31.8v-25.6l1 5.6v15.1l1 0.4v-11.5l1 -4.5v15.4l1 5.2v-19.3l1 -0.5v16.6l1 3.6v-19l1 -0.3v17.9l1 -1.9v-14.3l1 -3.2v18.5l1 4.8v-25.9l1 4.7v14.6l1 1v-13.9l1 -3.1v19.7l1 -2.1v-18.9l1 3.2v12.7l1 0.3v-13.1l1 0.4v14.8l1 -1v-14.7l1 1.8v11.3l1 0.9v-12.1l1 -2.1v15.6l1 -0.9v-18l1 0.8v23.6l1 -7.9v-13.8l1 -6v19.6l1 10.9v-22.7l1 0.4v20.7l1 -9.9v-11.2l1 0.7v11.9l1 6.1v-18.1l1 -1.3v16.2l1 -2.7v-14.2l1 -1v17.1l1 0.1v-20.4l1 6.7v14.6l1 -4.4v-17.3l1 4.4v13.9l1 2.5v-19.8l1 4.4v13.3l1 4.2v-23.9l1 6.4v19.1l1 -6.8v-10.9l1 -0.4v13.8l1 -1.3v-14.3l1 1v14.5l1 -1.2v-13.5l1 -4.1v17.9l1 7.7v-25l1 0.4v18.6l1 -1.1v-12.8l1 -4.3v20.7l1 -0.9v-16.1l1 -1.1v16.3l1 -2.8v-16.3l1 3.1v13.5l1 1.5v-13.5l1 -1.7v12.6l1 6.1v-23.4l1 -0.5v19.9l1 0.8v-15.5l1 1.3v15.4l1 -1v-17.9l1 2v14.5l1 -0.9v-13.7l1 -1.2v15.1l1 5.3v-18.3l1 -0.5v15.4l1 -1.2v-14.5l1 -0.1v13.4l1 8.8v-23.4l1 -1.4v16.1l1 -0.2v-15.2l1 2.8v11.8l1 1.1v-13.8l1 1.7v11.4l1 2v-13.4l1 -2.9v18.6l1 -1.3v-14.9l1 -0.6v16.9l1 1.8v-18l1 -1.3v12.3l1 3.2v-14.9l1 -1.8v20.5l1 -2.3v-17.9l1 -4.8v28.2l1 -10.3v-11.8l1 -3.9v17.1l1 0v-13.1l1 1.4v17.1l1 -6.2v-17.4l1 -4.9v22.3l1 4.4v-24.2l1 8.3v16.5l1 -5v-13.8l1 0.6v14.7l1 -0.6v-13.5l1 -0.6v15.8l1 -1.5v-13l1 -4.8v19l1 -2.3v-10.7l1 -0.3v12.7l1 -2.7v-11.2l1 1.5v14.2l1 -2.4v-15.3l1 3.4v12.5l1 1.7v-15.3l1 -4.8v16.4l1 9.9v-22.4l1 -0.5v13.5l1 -0.7v-14.2l1 2v13.9l1 7.9v-23.2l1 1.3v16.9l1 -3.2v-15.6l1 0.4v15.5l1 0.2v-17.5l1 2.1v14.5l1 5.7v-20.4l1 1.5v20.9l1 -4.2v-15.4l1 -0.3v14.7l1 -1.6v-14.2l1 0.7v24.3l1 -9.7v-14.1l1 0v17.2l1 -4.4v-13.6l1 1v11.7l1 -0.8v-14.1l1 2.7v20.3l1 -7.4v-19.9l1 6.1v16.5l1 -1.1v-13.7l1 -0.7v15.1l1 1.2v-16.2l1 -4.2v20.4l1 -4.1v-14l1 2.3v11l1 1v-13.5l1 1.7v14.2l1 -3.3v-12l1 -6.8v18l1 1v-12.5l1 1.8v10.3l1 2.4v-17.6l1 3.6v16.1l1 4.4v-22.5l1 -5.6v21.1l1 2.2v-21.1l1 -0.2v18.8l1 -1.1v-12.9l1 -0.6v15.6l1 -2.2v-13.9l1 -6.6v20.1l1 -0.3v-15.7l1 0v15.9l1 0.8v-14.9l1 1v23l1 -8.9v-14.6l1 1v15.9l1 1.4v-22l1 5.2v13.2l1 -0.7v-11.4l1 -0.9v13.3l1 2.7v-14.8l1 -2.8v14.8l1 -0.3v-14.2l1 -3.1v17.1l1 2v-18.1l1 4v25l1 -11.9v-16.3l1 -2.9v19l1 -0.5v-17.4l1 3.6v15l1 -2.5v-13.3l1 -1.4v17.2l1 -2.4v-10.8l1 -1.4v17.3l1 -2.2v-16.2l1 -7.6v22l1 0.7v-16.5l1 1.4v16.7l1 -2.5v-11.5l1 -1.4v17.6l1 -5.8v-16.1l1 6.2v21.1l1 -7.4v-14.6l1 -1.9v14.9l1 3.6v-20.8l1 2.6v17.1l1 -3.1v-20.3l1 8.2v14.8l1 -1.8v-18.4l1 -0.2v16l1 11.3v-23.1l1 -0.1v19.3l1 -6.1v-14.5l1 2v12.7l1 3.7v-23.2l1 8.2v13.2l1 -1.3v-20.4l1 -2.4v28l1 -6.7v-11.6l1 -0.4v11.8l1 -0.1v-10.9l1 -0.3v13l1 42v-136l1 80v13.6l1 -1.2v-16.7l1 5.7v11.5l1 5.9v-19.9l1 -3.2v16.8l1 1.8v-16l1 -1v16.1l1 0.6v-14.7l1 0.7v16l1 1.8v-17.2l1 -1.5v20l1 -5.7v-15.6l1 0.8v14.8l1 1.5v-22.5l1 7.2v15l1 2.5v-17.5l1 -12.2v26.4l1 0.1v-13.4l1 -4.2v18.6l1 0.7v-15l1 0.4v14.8l1 3.6v-18.5l1 -1v11.9l1 2.2v-14.7l1 1.3v17l1 -3.7v-14l1 0.2v15.9l1 -0.6v-17.7l1 3.9v11.6l1 2.2v-15.4l1 0.2v19.4l1 -2.5v-17l1 -2.9v18.7l1 -3.9v-14.7l1 -0.1v16.3l1 -0.9v-16.1l1 -0.2v17.9l1 -1.5v-19.8l1 5.5v17.4l1 -2.6v-17.9l1 5v14.4l1 -1.3v-14.6l1 -1.6v17.1l1 -2.2v-12.9l1 -3.4v17.5l1 0.2v-18l1 4.8v16.2l1 1.4v-19.3l1 1.2v15.8l1 -0.5v-30.9l1 16.5v24l1 -7.9v-17.6l1 -0.5v14.9l1 5.1v-20.2l1 1v14.8l1 2.1v-15.5l1 -0.4v12.4l1 4.1v-32l1 15.5v15.6l1 1.6v-17.6l1 1.2v11.2l1 2.7v-13.3l1 -0.9v11.2l1 0.3v-14.5l1 2.6v13.1l1 0.3v-18.6l1 5.5v11.3l1 4.8v-16.2l1 -0.9v12.9l1 6.5v-18.5l1 -0.4v18.8l1 0.1v-24.5l1 6.1v13.4l1 -1v-17.5l1 2.2v17.2l1 -0.9v-13.5l1 -6.1v20.5l1 -1.1v-15.2l1 -1.2v18.3l1 -2.4v-15.3l1 3.3v10.9l1 2.8v-17.4l1 2.9v14.7l1 -1.4v-13l1 -7.8v20.7l1 -0.1v-16.2l1 1.5v16.2l1 -0.3v-16.2l1 2.7v17.4l1 -0.3v-29.3l1 11.8v17.4l1 -4.7v-11.9l1 -6v18.9l1 -1.3v-13.6l1 -1.7v17.4l1 -3.1v-12.7l1 -5.2v18.8l1 3.8v-16.7l1 -0.7v13.8l1 3.3v-14.8l1 -1.9v13.5l1 1.2v-13.9l1 -0.1v21.9l1 -7.8v-17.4l1 4.3v13.3l1 -2.1v-12.7l1 1v16.2l1 -0.2v-15.3l1 -2.9v23.3l1 -9.4v-16.7l1 4.7v16.9l1 -2.1v-19.4l1 2.8v16.3l1 -1.7v-16.9l1 4.3v10.7l1 1.3v-13.6l1 0.6v13.1l1 4.7v-17.6l1 -5.3v22.5l1 -3v-12.6l1 -4.2v15.9l1 -0.4v-14l1 1.2v13l1 4.9v-20.1l1 0.4v15.1l1 4.3v-16.3l1 -1.8v16.5l1 6.3v-27.4l1 6.5v12.3l1 -1v-14.7l1 3v19l1 -6.4v-13.1l1 -0.7v18.8l1 -4.9v-16.8l1 0.8v15.5l1 -0.1v-13l1 -1.5v12.8l1 0.3v-24.9l1 12.6v23l1 -9.8v-17.7l1 4.6v12.4l1 1.3v-14l1 1v11.2l1 4.1v-16.4l1 0.2v14.7l1 2.4v-16.9l1 -0.4v15.2l1 -3v-16.5l1 6.3v17.2l1 -4.9v-14.2l1 -7.5v24.5l1 9.4v-25.5l1 -6v24.3l1 4.1v-21.6l1 -6.5v20.4l1 -0.6v-15.3l1 -1.7v20l1 0.5v-27.6l1 7.6v14.6l1 -0.2v-10.6l1 -0.8v11.4l1 0.1v-14.9l1 0.2v20.7l1 -3.5v-13.6l1 -4.5v15.5l1 -0.6v-15.3l1 -1.3v23.4l1 -2.5v-22l1 7.2v11.2l1 1.3v-14l1 0.7v17.8l1 -5.3v-18.5l1 2.9v21.3l1 30.9v-71l1 16.3v17.9l1 4v-19.4l1 -2v17.1l1 -0.7v-12.5l1 1v13.8l1 0.2v-13.7l1 -0.3v17.1l1 -1.8v-22.3l1 7.7v13.5l1 0.5v-14.5l1 -3v14.5l1 8.7v-21.8l1 -0.8v17.3l1 1.7v-19.9l1 3.3v12.1l1 1.8v-13.2l1 0.3v10l1 3.2v-19.6l1 5.2v15.1l1 3.6v-19.3l1 1.8v17.9l1 -6.2v-15.4l1 -0.8v17.8l1 0.3v-15.3l1 -1.9v15.4l1 2.6v-16l1 -1.6v17.2l1 -3.2v-14.1l1 -1.4v20.9l1 -0.5v-17.6l1 -1.6v18.8l1 -4.1v-13.1l1 -0.7v22.3l1 -4.4v-22.1l1 4.6v15l1 2.2v-16.7l1 -0.1v13.7l1 2.4v-16.6l1 1.5v12.5l1 0.1v-12.7l1 -3v18.2l1 -3.4v-15.8l1 -0.4v18.8l1 10.2v-27.6l1 0.2v17.1l1 3.4v-18.5l1 1.2v17.1l1 -0.3v-22.3l1 4.8v12.9l1 9.6v-24.2l1 2v19.2l1 -4.2v-15.4l1 -5.1v21.5l1 2.5v-19.5l1 -2.4v14.9l1 1.4v-13.3l1 -4v15.4l1 4.4v-22.8l1 6.9v20.5l1 -7.2v-13.5l1 0.2v13.7l1 3.7v-18.7l1 -0.1v18.8l1 -4.5v-14.4l1 2.5v14.9l1 0.6v-15.4l1 -1.2v12.6l1 0v-18.6l1 6.3v13.7l1 1.9v-21.1l1 -3.1v21.7l1 0v-20.2l1 1v19.4l1 -0.7v-11.4l1 0v12.1l1 -0.1v-18.7l1 1.9v18l1 4.7v-17.9l1 -0.2v13.7l1 1.4v-20.1l1 -0.3v16.9l1 -0.5v-19l1 4.6v16.1l1 5.4v-19.8l1 -3.4v17.3l1 5v-17l1 -4.9v16.2l1 1.6v-13.8l1 -0.4v12l1 3.8v-15.4l1 -1.4v15.1l1 -1.7v-16.9l1 4.4v17.7l1 -4.2v-16.2l1 2.3v12.9l1 9.3v-36l1 12.1v13.7l1 5.6v-24.5l1 7.4v22.7l1 -9.7v-11.7l1 -1.9v13.3l1 1.8v-17.2l1 2.3v16.6l1 5.4v-22.4l1 -3.1v19l1 4.7v-18.7l1 -1.4v12.4l1 1.5v-14l1 0.4v14.7l1 9.7v-23.7l1 -4.9v16.3l1 0.7v-12.3l1 -1.1v15l1 3.8v-18.6l1 1.1v12.8l1 0.3v-14.5l1 0.3v21.1l1 -7.4v-19.5l1 6.5v16.9l1 -4.3v-14.3l1 -7.5v25.2l1 -2.5v-13.5l1 -0.5v26l1 -10.5v-15.2l1 0v19.3l1 0.5v-20.5l1 0.9v11.7l1 4.3v-15l1 -3v16l1 2.8v-17.5l1 -0.3v16.6l1 3.7v-19.6l1 -6.2v19.3l1 -0.3v-13l1 -0.5v28.5l1 -14.7v-12.1l1 -7.1v18.6l1 -0.8v-14.4l1 3.2v23.1l1 -10.6v-12.9l1 -2.8v17.7l1 -3.3v-13.7l1 2.4v17.8l1 -3.9v-16.6l1 1.1v16.1l1 -2.6v-17.1l1 4.9v12.6l1 2.2v-14.6l1 -2.2v18.8l1 -5v-11.7l1 -4v22.9l1 -6.1v-12.9l1 -0.4v18.5l1 -3.6v-15.3l1 -3.3v17.5l1 8.2v-21.9l1 -0.5v12.3l1 5.6v-17.7l1 -2v20.4l1 -6v-18.3l1 -3.3v22.2l1 -0.1v-20.5l1 8.4v12.8l1 -1.2v-15.3l1 -1.4v19.3l1 0.8v-17.6l1 -0.2v20.5l1 -2.1v-14.5l1 -1.9v13.3l1 -0.6v-14.3l1 0v25.3l1 0.6v-27.9l1 3.5v12.2l1 2.8v-14.7l1 -4v16.3l1 1.8v-14.7l1 -3.9v18l1 0v-13.9l1 -1v14.7l1 1.3v-15.3l1 -2.4v14.7" fill="none" stroke="#000" stroke-width="1.0" stroke-linejoin="round" />
<path d="M92.5 2045.8v-7.1l1 -1.6v8.8l1 2.5v-9.3l1 0.4v7.5l1 1.7v-10.6l1 -1.8v11.3l1 -0.9v-8.8l1 1.5v11.6l1 -5.3v-6.6l1 -2.2v9.1l1 4.2v-12.1l1 0.6v9.9l1 1.9v-12.6l1 1v10.6l1 -3.2v-9.2l1 1.8v8.3l1 0.2v-12.5l1 4.1v7.4l1 -0.1v-7.3l1 -2.1v8.5l1 2v-9.6l1 -0.3v10.8l1 0.1v-11.1l1 1v11l1 -3v-8.8l1 1.2v7.7l1 3.5v-13.5l1 0.3v9.7l1 0.4v-7l1 -1.8v8.5l1 0.7v-8.2l1 0.3v8.2l1 -1.6v-6.5l1 -1.6v11l1 -2.3v-9.3l1 1.8v9.8l1 -1.3v-8.8l1 -0.7v7.7l1 2.3v-8.9l1 -0.2v6.4l1 2.8v-10.2l1 0.7v13.2l1 -5v-9.7l1 2v8.7l1 1.4v-10l1 0v10l1 0.3v-11.3l1 -2.9v10.3l1 0v-8.8l1 -1.1v10.6l1 1.2v-10.7l1 -0.6v10.3l1 -0.9v-7.4l1 0.9v7.2l1 0.3v-7.9l1 -2.8v11.7l1 0.1v-9.1l1 0v11.6l1 -4.3v-6.1l1 -1.2v10.3l1 -1.1v-9.3l1 -1.4v9.9l1 -1.3v-9.7l1 -0.1v10.3l1 0.1v-7.6l1 -31.1v41l1 -3v-10.7l1 4.6v6.1l1 0.3v-7.7l1 0.7v7.1l1 1.5v-9.4l1 -5.9v14l1 1.7v-9l1 -0.1v7.4l1 -0.3v-9.8l1 3.3v11.4l1 -3.3v-9.4l1 0.1v9.5l1 -0.9v-7.8l1 0.4v6.7l1 0.1v-9.1l1 0.7v8.7l1 2.4v-13.4l1 0.9v9.7l1 -0.1v-7.4l1 0.6v6.5l1 2v-9l1 1.1v5.7l1 2.8v-8.8l1 -0.5v7l1 3.1v-10.2l1 -2.1v9.6l1 0.9v-9.3l1 0.9v13.1l1 -4.4v-8l1 -0.9v8.5l1 4.7v-14.9l1 0.7v7.6l1 0.7v-12.4l1 5.2v9.9l1 0.1v-10.1l1 0.4v7l1 0.7v-9l1 1.1v11.1l1 -2.4v-10.8l1 2.1v9.2l1 -0.6v-8.1l1 -5.6v12l1 2.2v-9.3l1 -0.9v11.7l1 -2.4v-8.5l1 0.7v10l1 0v-10.7l1 -39v57l1 -8.8v-8.2l1 -0.6v7.3l1 0.2v-10.5l1 0.9v9.3l1 1.6v-9.1l1 -4.7v12.3l1 0.6v-8.2l1 0.3v8.1l1 -1v-6.6l1 -3.9v10.8l1 -0.5v-8l1 1v8.6l1 0.4v-9.2l1 0.6v6.4l1 0.9v-11.6l1 0.7v12l1 0.7v-9.7l1 0.6v9.4l1 -2.2v-7l1 -5.9v15.8l1 -2.4v-7.7l1 -1.9v9.3l1 -1.1v-6.9l1 -1v7.9l1 -0.1v-6.8l1 0.3v7.2l1 -0.4v-7l1 -3.4v12.8l1 1.3v-12.7l1 -0.4v9.9l1 -0.2v-7.1l1 -1.9v9.3l1 2.1v-12.9l1 4.2v6.4l1 0.6v-8.6l1 0.5v8.3l1 -0.8v-10.3l1 1.7v8.2l1 1.2v-12.5l1 1v12.4l1 3.4v-14.4l1 0.8v8.8l1 2.5v-11l1 -7.8v15.3l1 0.1v-6.9l1 0v9.2l1 -0.8v-10l1 1.9v6.5l1 5.1v-62l1 51.1v6.4l1 -0.3v-10.3l1 3.9v7.6l1 2.4v-12.2l1 -1v9.3l1 2.9v-11.9l1 1.8v9.8l1 -2.2v-6.8l1 -1.1v8.4l1 -0.5v-9.4l1 -0.2v9.3l1 0.9v-7.6l1 -1.3v8.4l1 -0.4v-6.7l1 -0.1v10l1 -1.2v-12.5l1 2.6v8.8l1 -0.5v-6.8l1 -2.1v11.5l1 -2.2v-10.3l1 2.3v6.9l1 1.7v-12.3l1 2.5v9.4l1 -0.8v-9.9l1 3.3v7l1 1v-8.5l1 0.5v8.2l1 0.2v-13.9l1 2.9v9.6l1 0.3v-11.2l1 0.9v9.8l1 0.5v-10.1l1 2.7v8.7l1 -1.3v-8.7l1 0.2v11.5l1 -2.2v-7.5l1 -0.1v8.5l1 -2.3v-6.2l1 -2.4v9l1 0.1v-7.7l1 0v7l1 2.2v-8.7l1 -0.5v7.1l1 3.3v-10.8l1 -0.3v7.8l1 -0.1v-9.3l1 1.7v9.4l1 -2v-8.9l1 1.8v7.5l1 0.6v-6.8l1 -0.8v9.6l1 -2.1v-8.1l1 1.3v6.5l1 2.1v-8.6l1 -1.3v7.4l1 0.2v-6.9l1 0.5v10.2l1 -1.1v-10.7l1 -1.2v11.5l1 -1.1v-9.5l1 1.9v8.8l1 1.1v-10.2l1 -0.4v7.4l1 2.5v-9.1l1 -3.4v9.5l1 2.7v-9.9l1 0.7v11.5l1 -4.6v-8.1l1 0.5v11.1l1 -3.7v-9.5l1 2.9v8.8l1 -0.4v-8.2l1 -21.3v30.4l1 -2.9v-27.2l1 20.1v12.5l1 -4.5v-8.3l1 -0.7v8.2l1 1.7v-10.2l1 1v7.8l1 1.1v-8.7l1 0.3v9.7l1 -1.3v-8.6l1 0.5v7.4l1 1.6v-8.8l1 -15.6v24.8l1 0.3v-46.2l1 34.7v12.4l1 5.8v-16.9l1 0v11.6l1 -3.1v-8.4l1 -7.7v17.7l1 0.4v-9.6l1 -1.5v13.2l1 2.8v-38l1 22.5v8.3l1 2.6v-11.3l1 0.2v10.4l1 -2.3v-9l1 1v16.1l1 -3v-21.4l1 -48.5v71l1 -2.5v-12.3l1 -5.6v17.7l1 -2.4v-9.2l1 -0.9v9.7l1 0.5v-8.3l1 -10.2v17.8l1 3.7v-50l1 37v12.2l1 -2.4v-9.2l1 -3.1v11.4l1 3.2v-12.9l1 -1.1v11l1 1.7v-9.3l1 -1.3v10.5l1 4.3v-50l1 36.1v8.4l1 -0.6v-11.9l1 4.5v7.8l1 4.8v-15.6l1 2.6v8.2l1 -0.6v-15.3l1 6.8v10.7l1 -0.5v-24.4l1 12.4v11.6l1 8.1v-42l1 24.5v8.6l1 0v-9l1 -3.2v18.8l1 -4.3v-13.2l1 -14.6v29.5l1 14.5v-39.4l1 -0.5v37.8l1 -6.7v-30.2l1 -0.2v31.6l1 5.8v-39.7l1 -8v51.2l1 2.1v-66.3l1 22.2v47.8l1 -2.6v-48.4l1 -13.7v54.6l1 -4.3v-33.9l1 -7v44l1 -0.7v-48.1l1 9.5v56.2l1 -16.7v-43.2l1 -14.8v68.4l1 6.8v-61l1 -20v83.7l1 6.3v-98.2l1 19.6v62.9l1 -1v-54.6l1 -16v72.5l1 -6.2v-56.8l1 -20v89.5l1 -14.1v-61.6l1 -20v92l1 -0.7v-89.1l1 27.9v55.1l1 -6v-118l1 2.4v121.5l1 -1.1v-70.6l1 4.4v61.7l1 8.3v-86l1 -19.5v124.2l1 16.9v-100l1 4.8v53.6l1 -0.9v-77.6l1 -15.3v104.9l1 -7.3v-77.3l1 21.6v80.3l1 -19.5v-80l1 23.2v53.9l1 10.5v-81.7l1 17.4v50.8l1 5.7v-95l1 25.1v57.1l1 1.1v-45.7l1 -14.5v79l1 -10.3v-53.4l1 4.6v38.4l1 -3.6v-59.1l1 -12.4v76.4l1 -3.4v-72.3l1 18.2v52.9l1 2.4v-66.3l1 32.3v30.2l1 12.9v-44l1 -9.8v42.8l1 5.8v-56.7l1 17.1v32.3l1 0.6v-32.3l1 -4v28.3l1 -1.3v-24.2l1 -7.3v41.6l1 -9.5v-22.2l1 0.6v25.5l1 -7.4v-20.1l1 -7.4v26.8l1 -2.4v-15.9l1 -2.5v22.3l1 5v-28.3l1 -12.1v30.3l1 -2.6v-13l1 -28.2v44.3l1 -3v-13.1l1 1.4v16.2l1 4.8v-22.2l1 3.4v18.5l1 0.6v-30.8l1 -7.3v36l1 -2v-27.5l1 16.7v10.9l1 10.5v-20l1 -1.2v14.4l1 -1.1v-9.7l1 0v11.1l1 1.2v-10.5l1 0.2v13.6l1 1.1v-11.5l1 0.7v17.3l1 -7.9v-8.7l1 1.1v8.9l1 1v-10.2l1 -1.2v12.7l1 0.8v-9.1l1 1.1v8l1 0.4v-11.8l1 2.4v11.9l1 0.2v-8.9l1 -0.3v11.3l1 5.7v-23.1l1 8.5v9.9l1 0.2v-9.1l1 0.6v9.3l1 0.4v-11.3l1 2.2v9.6l1 0.8v-12.3l1 -0.1v7.8l1 5.2v-13.9l1 -0.9v11.6l1 -2.4v-9.6l1 -11.3v18.8l1 2.6v-12.1l1 -7.4v15l1 7.2v-15.8l1 -1.2v8.3l1 6.5v-16l1 -5.7v17l1 -3.3v-10.8l1 -3.6v12.9l1 3.2v-11.5l1 -7.6v15.8l1 -1.3v-7.2l1 -1.6v7.9l1 0.9v-10.3l1 1.4v7.3l1 5.7v-13.7l1 -1.5v8.4l1 0.2v-8.6l1 -5v13.8l1 4.3v-8.9l1 3.2v8.6l1 1.6v-11.6l1 3.8v11.3l1 -2.5v-9.8l1 -0.2v15.6l1 -8.6v-14.6l1 6.1v8.6l1 0v-9.3l1 0.9v8.9l1 2.3v-15.6l1 1.9v9.3l1 -1.2v-7.9l1 -2.7v10.1l1 3.8v-14.8l1 3.9v7.2l1 1.8v-10l1 0.2v11.7l1 -5.1v-7.3l1 0.6v7l1 0.6v-9.5l1 0.1v6.7l1 -0.7v-7.1l1 1.4v5.3l1 1.5v-8.1l1 -1.6v10.3l1 -0.9v-9.9l1 1.5v6.3l1 1.7v-10.7l1 1.6v6.5l1 0v-8.1l1 1.1v9l1 1.1v-11.3l1 0.9v6.4l1 -0.7v-6.6l1 -1.2v6.4l1 1.4v-6.7l1 -0.3v4.8l1 1.1v-6.9l1 0.3v5.8l1 2.1v-10.9l1 1.7v5.1l1 0v-4.9l1 -3.3v9l1 -1.5v-6l1 -2.7v9.6l1 -1.8v-4.8l1 -0.1v5.5l1 0.2v-5.9l1 -0.1v4.7l1 0.6v-5.9l1 1v5.5l1 -0.5v-4.2l1 -0.8v7l1 0.2v-6.1l1 0.1v4.6l1 0v-4.1l1 -1.6v7.5l1 -1v-4.8l1 0.4v5l1 0v-5.2l1 0.9v4.4l1 0.4v-5l1 -0.9v8.9l1 -2.9v-4.8l1 0v5.6l1 1.5v-6.6l1 -1.7v8.1l1 -0.9v-6.4l1 1.8v7.4l1 0.1v-6.9l1 0v4.7l1 1.5v-6.3l1 -2.3v7.5l1 3.7v-8.2l1 0.2v4.9l1 0.7v-6.5l1 1.3v7l1 -1v-6.6l1 1.1v4.6l1 0.2v-4.6l1 0.6v6.1l1 -1.6v-4.9l1 0.8v3.7l1 0.9v-4.9l1 0v5.4l1 1.7v-7.1l1 -1.1v5.9l1 0.9v-4.9l1 0.1v4.7l1 1.3v-6.5l1 1v8.5l1 -1.8v-6.9l1 0.7v4.6l1 2.3v-7.4l1 -0.7v7.5l1 -1v-6.9l1 1.3v5.2l1 -0.6v-4.1l1 -0.1v4.4l1 0.3v-6l1 1.4v7.7l1 -0.9v-7.5l1 -0.1v6l1 0.3v-6.8l1 0.8v5.9l1 -0.4v-6.4l1 0.5v4.8l1 1.7v-6.5l1 -1.2v5.7l1 -0.2v-6.2l1 1.9v8.3l1 -1.3v-8.5l1 1.2v5.7l1 2.7v-7.8l1 -1.3v6l1 0.2v-5.5l1 0.5v7l1 -0.1v-9l1 1.4v5.3l1 0v-5.5l1 -0.6v6.8l1 -0.1v-6.4l1 -1.2v7.4l1 1.5v-8.3l1 1.3v5.3l1 -1.1v-5l1 0.1v5.1l1 1.1v-6.2l1 -0.3v9.1l1 -4v-5.2l1 -1.1v8.6l1 -2.3v-5l1 0.2v6.2l1 -1.9v-6.2l1 1.6v6.7l1 -2.1v-5.4l1 -1.3v8.3l1 1.2v-7.3l1 -1.9v6.5l1 0.5v-5.6l1 -0.1v7.2l1 -1.3v-5.7l1 -1.8v9.9l1 -3.1v-4.6l1 0v4.4l1 0.1v-6l1 0.2v6.2l1 -0.7v-4.2l1 -0.5v6.7l1 -1.3v-5.8l1 -1v7.7l1 -1.7v-5.5l1 0.8v5.3l1 -0.4v-4.9l1 -0.9v7.2l1 1.2v-7.7l1 -1.2v6.7l1 -0.4v-5l1 -0.1v5.7l1 0.4v-6.9l1 0.7v6.5l1 1.3v-8.1l1 -0.5v7.2l1 -0.4v-5.8l1 -1v10.1l1 -4.7v-5.2l1 0.6v5.8l1 -0.7v-8.9l1 4.4v7l1 -2.4v-5.3l1 -1.4v6.6l1 0.7v-5.7l1 -2.2v6.8l1 0.4v-5.3l1 -0.5v6.1l1 -0.6v-6.5l1 2v4.5l1 1.4v-5.6l1 -2.7v8.5l1 0.8v-6.7l1 0v5.2l1 0.6v-6.5l1 -0.6v6.8l1 0v-8l1 1.5v5.9l1 0.2v-4.4l1 -0.5v4.8l1 2.4v-7.1l1 -1.7v6.8l1 2.3v-7.6l1 0.2v4.7l1 0.6v-6.6l1 1.2v5.1l1 1v-6.6l1 1.1v6l1 -0.7v-5.7l1 0.6v7.5l1 -3.1v-4.2l1 -2.4v6.8l1 0v-5.4l1 0.5v4.8l1 0.4v-7.2l1 -3.5v13.8l1 -3.2v-5.9l1 0.7v5.4l1 -0.3v-4.8l1 -3.9v8.9l1 1.7v-6.8l1 -0.5v6.2l1 0.7v-5.6l1 -2.6v6.8l1 0.3v-6.2l1 1.3v5.1l1 -0.2v-5.4l1 -1v5.2l1 -0.4v-4.7l1 -2.2v6.9l1 -0.8v-6.1l1 -1v7.1l1 -1.3v-7.1l1 2v5.8l1 0.6v-8.9l1 2.7v7.3l1 -1.8v-5.1l1 -1v5.6l1 1.1v-7.8l1 2.2v4.6l1 -0.3v-4.9l1 -2.3v8.9l1 -0.6v-5.8l1 -1.8v7.6l1 2v-7.7l1 0.4v4.8l1 -0.1v-4.6l1 -0.8v5.5l1 -0.6v-4.4l1 0v6.7l1 -0.1v-7.2l1 0.4v5.7l1 0.9v-9.9l1 3.7v5.3l1 0.9v-6.8l1 -2.6v10.9l1 -2.6v-4.7l1 -0.6v5.5l1 1.4v-6.4l1 0.5v4l1 3v-9.5l1 2v8.5l1 -1.6v-6.9l1 0.6v4.1l1 1v-5.1l1 -0.9v7.3l1 -0.8v-6.1l1 0.3v4.4l1 2.8v-7.3l1 0.3v4.5l1 1.1v-5.6l1 0.1v4.7l1 1.8v-7l1 -0.2v5.9l1 -0.1v-6.8l1 1.8v4.7l1 3.5v-8.8l1 -0.9v6.9l1 -0.4v-5.8l1 -1.9v10.7l1 -2.1v-5.5l1 -0.2v4.8l1 0.4v-4.9l1 -1.3v6l1 0.1v-5.7l1 0.6v4.9l1 -0.2v-6.9l1 1.6v5.4l1 0.5v-4.9l1 -0.4v5.1l1 0.5v-6.8l1 2.1v4.5l1 0.2v-5.3l1 -0.4v5.8l1 1.1v-7.1l1 -0.1v6.1l1 3.3v-8.5l1 -1.5v7.9l1 -1.1v-5.2l1 0.3v4.9l1 0.9v-5.8l1 0.4v5.3l1 -0.1v-5.9l1 -0.4v6.2l1 1.1v-6.2l1 -1.6v7.7l1 -0.7v-7.5l1 0.4v9.2l1 -2.9v-4.6l1 -1.4v8.9l1 -1.1v-6.7l1 0.5v8.4l1 -3.8v-4.8l1 -0.3v5.8l1 -0.8v-5.3l1 0.8v6.2l1 -1.3v-5.3l1 0.3v5.9l1 -0.9v-6l1 1.5v6l1 -1.7v-4.6l1 0.5v4.7l1 -0.1v-4.8l1 0.3v4.6l1 0v-4.6l1 -4v8.7l1 -0.4v-4.7l1 -0.4v8.4l1 -1.2v-7l1 -1.2v6.7l1 2.7v-7.6l1 0.2v7l1 -1.5v-6l1 -0.1v7.3l1 -2v-6.7l1 0.4v7.6l1 1.3v-9l1 1.1v5.4l1 0.1v-4.9l1 0.3v5.1l1 -0.9v-5l1 0.1v9.5l1 -1.8v-8.9l1 1.2v5.8l1 -0.5v-6.3l1 0.7v6l1 -0.2v-9.2l1 2.6v6.4l1 0.1v-5.4l1 -2.5v9.6l1 0.7v-6.8l1 -0.4v6.2l1 0.1v-6.6l1 0.7v5.1l1 2v-7.5l1 0.1v5.8l1 2.5v-10l1 -1.6v19l1 1.8v-27l1 -1.7v20.4l1 17.7v-30.1l1 -0.2v28.6l1 -12.6v-15.4l1 -2.1v51.4l1 -34.1v-27.6l1 11.5v14.8l1 0.1v-18.1l1 -5.9v24.9l1 39.2v-71.7l1 13.5v33.7l1 49.6v-84l1 1.5v25l1 14.2v-57.5l1 9.4v72l1 -45.5v-45.2l1 10.2v36.2l1 -2.6v-18.7l1 -4.7v23.3l1 1v-50.8l1 1.7v55.3l1 -1.2v-26.3l1 -4.3v63l1 -32.8v-21.8l1 -25.4v109.8l1 -46v-79l1 15.4v55.7l1 10.2v-43.9l1 0.3v20.3l1 12.3v-30.4l1 -12.5v38.5l1 -4.2v-33.4l1 12.2v23.3l1 1.9v-24.2l1 0.1v24.2l1 -8.1v-17.6l1 -5.4v21.3l1 2.4v-30.4l1 0.6v45.4l1 -15.9v-21.1l1 -8.3v26.2l1 -0.8v-21.1l1 10v14.1l1 0.1v-13.4l1 -1.1v11.4l1 -0.4v-7.9l1 -0.7v6.8l1 0.4v-6l1 -2v6.2l1 1.1v-5.1l1 -0.8v7.4l1 -1.5v-5l1 -0.4v6l1 0.4v-6.8l1 0.3v6.3l1 -0.5v-6.2l1 0.8v4.7l1 -0.4v-4.6l1 0.5v4.5l1 -0.4v-4.6l1 -1.9v7.2l1 -0.1v-6.3l1 0.9v4.4l1 0.2v-5.2l1 0.8v4.4l1 1.5v-7.5l1 1.2v6.2l1 -0.1v-5.4l1 -0.3v5.2l1 -0.6v-4.9l1 -0.4v6.7l1 -1.4v-5.7l1 0.1v5.4l1 4v-11.4l1 -4.9v17.4l1 8.1v-22.6l1 1.6v12.1l1 0.5v-12.9l1 -2v18.9l1 -5.9v-12.9l1 -0.4v16.8l1 0.6v-19.8l1 3.9v15l1 -3.5v-12.1l1 0.7v16l1 -3.7v-14.8l1 -7.9v21.8l1 -0.1v-14.2l1 -2.8v17.5l1 9.5v-23.2l1 -8.2v30.1l1 6.6v-32.9l1 -5.3v31.4l1 -7.2v-22.2l1 0.5v20.2l1 1.1v-11.3l1 -1.2v17.9l1 -3.4v-14.4l1 -8v31.9l1 -10.5v-14.3l1 -0.2v18.4l1 -3.9v-13.2l1 -0.2v13.4l1 -0.5v-12.4l1 -3.8v21.4l1 -7.8v-13.3l1 2v16.2l1 -4.1v-17.8l1 -7.7v27l1 -1.5v-20.9l1 2.8v19.4l1 -0.6v-11.9l1 -5.7v17l1 -0.6v-15.7l1 -6.5v22.1l1 18.2v-29.3l1 -0.8v13.1l1 4.2v-28" fill="none" stroke="#000" stroke-width="1.0" stroke-linejoin="round" />
<path d="M1008.5 2045.1v-7.6l1 1.4v6.2l1 0.5v-6.6l1 -2v8.6l1 7.7v-24.4l1 8.6v9.3l1 -1.1v-6.6l1 0v6.9l1 -0.8v-10l1 4.3v5.9l1 -0.8v-4.7l1 -1.2v5.9l1 1.4v-7.5l1 -7.7v21.6l1 -5.7v-10.2l1 1.4v7.7l1 0v-7.8l1 1.3v6.8l1 -0.7v-7.5l1 1.2v8.1l1 -1.8v-5.7l1 -10.5v22.6l1 -6.2v-5.8l1 -1.6v7.2l1 1v-7.5l1 -1.7v9.7l1 0.3v-7.8l1 -0.5v11.7l1 -4.5v-6.8l1 -0.2v6.5l1 9v-25.2l1 2.1v13.3l1 0.5v-7.8l1 2.9v5.2l1 -0.3v-6.8l1 -0.8v7.5l1 0.8v-6.8l1 0.7v5.8l1 7.4v-21l1 7.4v6.8l1 -0.2v-7.2l1 0v6.2l1 0.3v-7.2l1 2.3v6.2l1 0.6v-7.2l1 -0.3v6l1 0.1v-7.4l1 -9.7v25.7l1 -7.5v-9.1l1 0.3v7.1l1 2.8v-8.2l1 0.6v6.9l1 -2.4v-7.9l1 0.5v10l1 -2v-6l1 0.2v7.2l1 5.5v-23.2l1 10.6v6.2l1 0.2v-6.6l1 -0.7v6.9l1 0.1v-6.1l1 -2.5v9.3l1 0v-6.7l1 0.2v5.8l1 7.5v-22l1 9.1v5.4l1 1.8v-7.3l1 -0.7v5.6l1 2.8v-9.9l1 2v8.8l1 -1.8v-9.9l1 1.8v6.3l1 9.5v-22.8l1 5.2v8.2l1 0.6v-6.3l1 -1.6v10.2l1 -1.5v-6.4l1 -0.3v7.4l1 2.1v-9.3l1 -3.2v8.8l1 6v-20.6l1 8.7v6.4l1 0.1v-6.3l1 0.4v6.6l1 0.1v-7.9l1 1v12l1 -4.7v-9.6l1 1.2v6.4l1 0.9v-8.2l1 -5.8v19.5l1 -4.7v-7.1l1 -0.5v7.7l1 -0.6v-7.9l1 0.9v5.8l1 1.4v-6.9l1 -0.4v7.8l1 0.4v-9l1 -1.3v9.4l1 8.3v-23.1l1 7.8v6l1 0.8v-8.5l1 0.1v10.2l1 -1.1v-7.4l1 -0.6v7l1 2.7v-8.8l1 -2v9.4l1 6.2v-24l1 7.9v8.5l1 -0.2v-5.9l1 0.1v5.8l1 0.1v-8.2l1 1v12.8l1 -2.8v-9.8l1 0.7v6.5l1 1.9v-9.2l1 -9.7v23.7l1 -7.4v-4.8l1 -1.3v8.9l1 -2.7v-5.6l1 0v6.4l1 -0.5v-6.5l1 0.8v10l1 -2.4v-7.5l1 -2.2v7.5l1 8.5v-21.2l1 6.5v7l1 0.4v-7.9l1 0.7v7.2l1 0.7v-8.7l1 1.3v9.2l1 -0.5v-8.4l1 -0.4v6.6l1 6.2v-22.5l1 10v8.8l1 -3.2v-6.1l1 0.4v6l1 1v-8.7l1 1.7v6l1 0.6v-8.8l1 2v7.6l1 6.9v-21.2l1 7v6.3l1 0.6v-6.9l1 -2.2v9.9l1 -1.7v-5.6l1 -0.5v6.5l1 -0.6v-4.9l1 -4.6v9.9l1 0.4v-6.8l1 -0.7v8l1 7.3v-24l1 9.9v8.7l1 -2.8v-6.1l1 -2.1v8.1l1 -0.1v-6.6l1 0.9v6.8l1 0.3v-8.9l1 0.4v8.9l1 -1.2v-6.2l1 -8.7v22l1 -3.2v-9.5l1 -5.2v10.4l1 0.8v-10l1 1.7v11.8l1 -3.4v-8.4l1 0.8v14l1 -3.4v-10.1l1 0.5v7.1l1 -0.9v-11.7l1 -0.2v12.1l1 3v-9.8l1 -1.4v8.9l1 -0.2v-8.4l1 0.1v12.1l1 6.2v-18.6l1 -2v11.9l1 8v-18.4l1 0.2v13.8l1 -5.1v-9l1 -11v20.7l1 4.5v-12.2l1 -5.1v14.4l1 2.7v-12.4l1 -0.4v7.9l1 3.2v-13.7l1 0.5v13.6l1 -2v-9l1 -10.9v19.4l1 3.1v-14.3l1 -4.1v22.2l1 5.3v-21.5l1 -22.9v32l1 0.2v-8.6l1 -15.4v55l1 -6.9v-45.1l1 9.1v19.2l1 -6.6v-8.4l1 -13.1v21.4l1 -0.7v-7.7l1 -5.7v15.4l1 -0.1v-9.8l1 -3v13.4l1 14.1v-23.6l1 -0.1v19.4l1 -9.9v-17.4l1 8v9.1l1 -0.9v-8.1l1 -20.4v31.7l1 12.8v-24.5l1 -12.2v27.5l1 -0.6v-14.5l1 -4.9v14l1 18.6v-29.7l1 2.9v9.6l1 5.6v-31.2l1 2.3v21.8l1 -0.8v-8.9l1 -1.4v9.1l1 -1.3v-7.5l1 -0.7v7.3l1 -0.4v-7.7l1 1.1v5.8l1 2.4v-9.2l1 0.4v6.6l1 1.7v-9.4l1 -3.1v8.9l1 -0.1v-5.7l1 -3.3v12.4l1 3.4v-68l1 57.7v6.8l1 3.8v-9.5l1 1.3v7.9l1 -1.3v-6.9l1 0.9v8.6l1 -2.4v-8.2l1 -5.5v14l1 18.9v-72l1 0.1v54.2l1 -1.2v-6.1l1 0v7l1 -0.2v-11.6l1 5.4v6.3l1 5v-11.5l1 0.4v7.1l1 2.4v-9.7l1 -2.6v11l1 -0.2v-7.5l1 -36.5v44.5l1 0.4v-11.6l1 3.8v6.2l1 1.2v-7.5l1 0v6.3l1 1.7v-7.7l1 -0.6v8.9l1 -0.6v-8.5l1 -1.1v12.2l1 -3.1v-7.2l1 -40.3v58.3l1 -8.6v-9.2l1 0.3v11l1 -2.4v-13.4l1 5.1v7l1 1.6v-9.5l1 1.8v7.7l1 -1.9v-5.9l1 -1.5v10.5l1 -2.1v-6.9l1 -45.9v58.4l1 -6.9v-8.9l1 -0.2v10.3l1 -1v-9l1 -0.9v12.3l1 -2.8v-6.4l1 0.1v9.4l1 -2.1v-8.2l1 1.3v6.2l1 2.4v-53.9l1 45.1v7.7l1 31.8v-98l1 59.1v7.6l1 -0.8v-9.3l1 -3.2v12.2l1 -0.5v-8.4l1 1.3v8.9l1 0.2v-11.2l1 2.7v6.7l1 0.5v-6.7l1 -46v60l1 -5.6v-8.7l1 -0.1v8.5l1 -2.1v-6.8l1 1v7l1 0.6v-7.9l1 -1.4v13.9l1 -3.9v-14.7l1 -32.1v47l1 3.3v-12.3l1 0.4v6.1l1 2v-8.4l1 0.2v7.3l1 -1v-6.2l1 -2.8v9.1l1 5.4v-11.8l1 -0.4v7.5l1 0.5v-9.9l1 -40.3v53.5l1 -4.9v-7.9l1 -4v12.6l1 -0.8v-6.4l1 0.7v6.4l1 0v-7.7l1 0.8v7.8l1 -0.7v-8.6l1 1.6v13.2l1 -6.3v-7l1 -41v49.6l1 -1.2v-7.6l1 0.7v6.2l1 0.1v-9.7l1 3.3v7.3l1 0.1v-11.8l1 2.4v8.6l1 -0.3v-8.6l1 1.1v7.6l1 7.9v-61.2l1 47.5v6l1 0.6v-7l1 -0.8v13.2l1 -4.3v-8l1 -0.4v9.2l1 5.7v-15.3l1 0.1v11.3l1 -4.5v-10.1l1 1.3v13.6l1 -3.3v-53.8l1 44.1v7.9l1 0.1v-6.7l1 -5.2v12.4l1 0.1v-7.1l1 -3.7v12.7l1 2.1v-11.1l1 -0.1v9.1l1 -0.8v-11l1 -35.8v50.5l1 -2.7v-9.3l1 0.1v7.3l1 -0.4v-9.4l1 2.5v7.5l1 4.9v-11.8l1 -1.7v13.4l1 -2.5v-11l1 0.1v7.4l1 1.1v-7.2l1 -46.4v56.6l1 -1.3v-8.8l1 -2.6v9.2l1 -0.3v-9.7l1 -2v11.7l1 2.2v-11.7l1 -0.5v12.7l1 -2.2v-10.7l1 1.6v8.9l1 1v-47.6l1 34.2v12.8l1 2v-10.8l1 1.2v7.9l1 -0.1v-6.9l1 -1.3v7.2l1 0.9v-11.3l1 4.9v6.1l1 3.9v-9.8l1 -41.8v60.2l1 -10.9v-18.1l1 9.3v8.7l1 -0.4v-8l1 -7.7v16.5l1 -1.4v-9.4l1 2.3v12.3l1 -3.9v-10.6l1 -0.3v9.7l1 0.2v-7.4l1 -35.5v43.5l1 -1.2v-8.4l1 1.7v9.9l1 -2.7v-11.7l1 3.6v7l1 0.4v-7.1l1 0.4v6.6l1 0.5v-13.6l1 5.2v10l1 -0.8v-46.7l1 38.1v9.8l1 4.6v-14.1l1 0.8v7l1 1v-11.4l1 0.8v12.6l1 4.4v-18.2l1 1.9v10.1l1 -0.7v-10.1l1 2.7v8l1 3.8v-47.8l1 32.5v10.4l1 4.3v-10.9l1 -1v9.4l1 -2.1v-9.2l1 2.2v7.2l1 0.5v-13.9l1 0.6v15.8l1 -2.9v-7.2l1 -3.6v10l1 4.8v-57.5l1 44.8v7.6l1 3.6v-10.1l1 -0.4v8.7l1 -1.2v-6.6l1 -2.6v11.5l1 3.3v-12.2l1 -2.1v13.5l1 -1.6v-44.9l1 33.2v8.7l1 0v-8l1 1.1v15l1 -4.7v-10.2l1 0.2v10.3l1 -3.7v-11.4l1 4.2v7.5l1 3.1v-47.1l1 32.7v10.4l1 4.9v-13.9l1 1.1v8.3l1 1.3v-10.3l1 2.4v7l1 4.7v-15.1l1 -31.6v53l1 -10.4v-8.3l1 -0.9v8.2l1 1.1v-7.3l1 -7.7v22.7l1 -3.5v-11.8l1 -0.1v6.6l1 6.6v-56.9l1 41.6v12.4l1 -3v-7.8l1 1v7.5l1 1.2v-8.5l1 -0.2v7.5l1 4.7v-11.6l1 0.3v8.1l1 6.1v-49.9l1 36.1v8.4l1 -1.1v-9.1l1 1.8v8l1 0.5v-11.4l1 2.9v10.5l1 4.5v-13.3l1 -2.5v14.8l1 -0.8v-52.1l1 37.7v11.8l1 -1.3v-15.1l1 7v7.7l1 2.9v-10.5l1 -1.1v13.9l1 20.2v-86l1 51.5v10.5l1 8.7v-55.7l1 33.5v11.6l1 -1v-10.5l1 -5.6v15.7l1 5.3v-15.4l1 1.2v6.6l1 -0.1v-8.4l1 -44.9v57l1 -4.4v-8.3l1 0.8v8.4l1 -0.5v-9.3l1 -3.7v16.1l1 23v-70l1 35.9v15l1 -5.6v-53l1 44.2v7.4l1 0v-9.8l1 1.7v7.3l1 1.7v-11.7l1 1.6v8.8l1 2.9v-53.9l1 35.3v15.6l1 0.2v-9.2l1 1.2v7.9l1 2.1v-9.7l1 -0.2v9.1l1 -2.3v-17.3l1 -35.9v61.9l1 -7.5v-11.1l1 0.7v9.9l1 0.5v-10.1l1 1.5v9.7l1 1.7v-12.4l1 1.5v8.8l1 -1.5v-6.9l1 -36.3v51.4l1 -6.9v-9l1 1v12.7l1 3.8v-16.8l1 -7.7v19.3l1 -2.2v-10.1l1 -10.1v18.5l1 4.8v-58.5l1 42.5v13.7l1 -2.7v-15.9l1 7.5v8.1l1 0.3v-7.9l1 -0.4v17.5l1 -9.4v-7.9l1 -42.2v52l1 3.4v-13.5l1 0.7v7.7l1 -1.3v-8l1 0.8v9.5l1 0.9v-11.2l1 0.7v7.8l1 2.7v-9.5l1 -42.9v61.3l1 -7.5v-12.9l1 1.8v7.4l1 5.9v-19.2l1 5.5v10.4l1 -2.9v-10.4l1 -43.5v63.3l1 -9.1v-12.1l1 4.2v9.6l1 -1.9v-8.1l1 0.9v8.6l1 0.3v-10.2l1 0.5v10.1l1 4.3v-16.6l1 -44.6v55.5l1 -1.8v-7.1l1 0.5v9.1l1 2.6v-15.2l1 0.4v13.5l1 -3v-10.9l1 2v8.6l1 1.7v-51.3l1 36.5v16.8l1 -0.4v-12.1l1 -0.8v9l1 1.8v-9l1 -10.4v23.8l1 -6.3v-7.8l1 -45.9v54.4l1 10.3v-25.5l1 7v7.9l1 4.7v-15.6l1 2.3v8.7l1 5v-14.6l1 2v6.9l1 1.4v-21.7l1 -35.9v57.1l1 -0.8v-18.1l1 8.1v9.4l1 3.8v-12.6l1 -0.6v8l1 5.9v-18.2l1 -37.8v53l1 -3v-9.4l1 -7.1v16.5l1 -0.5v-7.9l1 -1.6v9.8l1 0.2v-18.3l1 9.4v12.8l1 1.8v-59.2l1 40.2v11l1 7.4v-15.2l1 -3.3v11.5l1 -0.7v-6.9l1 -0.7v7.6l1 -0.1v-8.2l1 0.3v8.1l1 8.8v-52l1 29.8v11.9l1 2.9v-15l1 4.5v7l1 15.3v-21.7l1 -4.5v18.5l1 -2.6v-12.5l1 -47.1v65.5l1 -11.3v-17.4l1 3.7v13.4l1 -0.1v-9.5l1 -6.8v16.7l1 -0.2v-8.3l1 -0.9v9.6l1 1.8v-50.7l1 38.1v15.8l1 1.5v-27.1l1 -8.9v37.3l1 1v-24.2l1 -0.8v28.3l1 -7.7v-23.5l1 -14.5v35.5l1 1.4v-20.3l1 -6.4v24.1l1 17.8v-41.4l1 7.1v31.1l1 -12.1v-24.5l1 -15v47.6l1 -9.9v-19.9l1 -18v46l1 -0.9v-25.9l1 -7v34.5l1 -7.1v-18.7l1 -8.5v49.4l1 -24v-21.7l1 4.7v22.4l1 -3.2v-20.1l1 -22.6v47.8l1 6.8v-36.3l1 2.1v28.2l1 4.6v-47.5l1 -3.5v50.9l1 2.5v-44.9l1 14v25.7l1 -9.4v-35l1 11.9v40.2l1 -13.1v-23l1 -2.2v24.7l1 11.6v-50l1 16v18.8l1 6.9v-24.3l1 -21v51l1 8.4v-44.6l1 -7.6v40.4l1 4v-30.3l1 -4.2v37l1 -16.6v-38.6l1 19.1v38.8l1 -7.3v-27.1l1 -5.6v39.1l1 -6.4v-30.1l1 -7v54l1 -18.1v-37.3l1 -9.8v42l1 4.6v-49.4l1 22v27.8l1 -2.9v-31.4l1 9v20.6l1 10.3v-33.6l1 -25.7v62.9l1 -12.6v-24.9l1 0.1v20.7l1 3.8v-25.6l1 1.2v22.3l1 5.9v-36.4l1 -13.6v55.6l1 -10.2v-37.5l1 -16.9v53.5l1 0v-33.3l1 -10.9v44l1 -1.5v-36.7l1 6.6v41.2l1 -9.1v-27.7l1 -7.6v32.4l1 -0.8v-34.8l1 -4.4v52.9l1 -12.3v-20.2l1 2.2v20.6l1 8.9v-50.9l1 -0.7v54.7l1 -12.9v-56.2l1 11.7v49.4l1 -9.3v-22l1 -7.7v32.5l1 4.3v-23.5l1 -2.4v27.5l1 -5.9v-24.8l1 1.4v39l1 -8.1v-36.3l1 3.5v34.2l1 -9v-32.7l1 -3.2v35.9l1 2.5v-23.4l1 -6.8v37.3l1 -10v-19l1 -7.8v41l1 -5.7v-29.8l1 1.4v22.1l1 7.1v-27.6l1 -0.6v25.1l1 4.6v-49.8l1 20.2v19.2l1 4v-42.2l1 15.6v27.8l1 2.2v-27.9l1 -13.3v38.7l1 -3.3v-45.8l1 17.2v32.6l1 -4.6v-21.1l1 -4.2v24.5l1 21.9v-51l1 1.9v27.2l1 12.8v-34.9l1 -6.7v31.2l1 -2.1v-19.6l1 -10.8v29.1l1 21v-42.2l1 0.2v30.9l1 -5.7v-28.5l1 -0.2v38.8l1 -5.8v-40.7l1 1.8v29.4l1 0.1v-20.7l1 -24.6v53.8l1 -0.2v-40.4l1 12.4v21.1l1 7.2v-34.8l1 -17.1v66l1 -6.5v-46.9l1 -0.1v36.1l1 4.7v-31.7l1 -5.9v33l1 6.2v-36.5l1 5.7v23.8l1 5.1v-29.7l1 -12.2v31.8l1 5v-45.5l1 22.9v19.8l1 0v-31.9l1 11.4v38.4l1 -1.1v-52.7l1 12.4v26.3l1 8.5v-63.1l1 13.3v40.9l1 -3.7v-40l1 21.2v33.5l1 -3.4v-38.4l1 2.6v25.7l1 10.5v-46l1 -0.2v35.6l1 3.5v-40.3l1 14.4v38.1l1 -16.7v-36.2l1 17.2v26.7l1 -0.1v-52.9l1 24.7v28.4l1 -1.6v-26.8l1 -8.8v46.9l1 -7.4v-36.2l1 -4.1v32.2l1 4.5v-49.9l1 3.4v41.9l1 10.2v-38.8l1 -4.3v47.6l1 -11.9v-34.7l1 7.6v29.2l1 -3.5v-23.2l1 -26.9v48l1 3.3v-26.4l1 -2.5v23.8l1 2.3v-25l1 -2.3v35l1 -8.1v-21.8l1 -11.7v42.7l1 8.8v-45.9l1 7.2v33.5l1 0.1v-36l1 -1.2v22.1l1 10.2v-41.8l1 -6.2v49l1 -3.2v-29.3l1 -10.5v33.4l1 12.2v-58.4l1 22.7v30.8l1 -2.4v-28.8l1 -11.4v36.2l1 1.4v-29.8l1 5.4v41.6l1 -16.4v-26.7l1 -7.3v29.6l1 2.9v-26.2l1 -16.3v45.2l1 -5.9v-42.7l1 21.9v21.1l1 5.2v-33.1l1 -8.3v53.2l1 -14.8v-22.4l1 -12v33.6l1 -0.9v-22.7l1 -1.3v27.4l1 7v-47.3l1 -4.4v53.1l1 14.4v-40.5l1 9.9v15.3l1 -3v-5.7l1 -1.3v6.3l1 1.4v-8.9l1 -2v6.7l1 -1.2v-5.5l1 -3.8v8.8l1 -1.5v-5.4l1 -0.7v6.3l1 0.9v-7.8l1 -1.1v6.3l1 -1.1v-5.8l1 -1v6.3l1 -0.9v-6.3l1 0v6.4l1 0.8v-8.9l1 -0.3v8.6l1 -1.9v-7.5l1 -1.7v7l1 2.5v-10.5l1 0.7v7.2l1 -1.3v-5.6l1 -0.6v6.8l1 -1v-6.6l1 0.7v8.3l1 0.6v-8.7l1 -0.1v8.1l1 -1.5v-5.7l1 -3.8v10.5l1 -1.1v-7l1 -1v11.2l1 -2.3v-7.6l1 1.1v5.5l1 0.1v-5.3l1 0.1v6.7l1 1.4v-9.7l1 0.2v10.2l1 -0.1v-9.6l1 -0.5v6.7l1 0.9v-7l1 -0.8v7.7l1 -0.5v-5.2l1 -0.2v5.4l1 3v-8.7l1 0.5v5.4l1 1.4v-7.4l1 -1.1v9.7l1 -2.2v-6.8l1 0.9v5.7l1 0.1v-6.3l1 -1.1v8.8l1 -0.4v-9.3l1 3.3v5.8l1 -0.5v-5.5l1 -2.9v9.4l1 -0.6v-6.1l1 0v5.8l1 3.6v-10.5l1 1.5v7.5l1 -1v-6.5l1 -0.9v6.4l1 1v-8.4l1 1.9v6.5l1 0.1v-7.3l1 0.8v8.2l1 -2.3v-7.2l1 1.7v7.4l1 0v-7.9l1 -0.7v6.3l1 0.4v-5.2l1 -0.5v6.5l1 0.7v-7.1l1 -2.8v8l1 0.4v-8.6l1 3.4v5.8l1 1.4v-9.8l1 -0.1v8.4l1 -0.1v-5.8l1 -0.8v7l1 -0.6v-8l1 2v5.8l1 1.4v-6.4l1 -0.1v5.6l1 0.6v-5.7l1 -1.7v9.3l1 -2.6v-6.6l1 0.5v7.2l1 0.1v-6.8l1 0.3v5.6l1 0v-5.6l1 -0.6v6.1l1 0.6v-6l1 0.1v5.8l1 0.6v-6.5l1 1.1v4.7l1 1.3v-6.9l1 0v9.3" fill="none" stroke="#000" stroke-width="1.0" stroke-linejoin="round" />
<path d="M156.3 970.5V816.8H215.7V970.5" fill="none" stroke="#9fa0a0" stroke-width="2.6"/>
<path d="M264.3 970.5V928.8H323.7V970.5" fill="none" stroke="#ff7f7f" stroke-width="2.6"/>
<path d="M372.7 970.5V819.3H431.7V970.5" fill="none" stroke="#9fa0a0" stroke-width="2.6"/>
<path d="M138.2 656.2V970.5M131.4 970.5H452.0" fill="none" stroke="#000" stroke-width="3.6"/>
<path d="M131.8 658.0H138.2M131.8 736.1H138.2M131.8 814.2H138.2M131.8 892.4H138.2M131.8 970.5H138.2M185.6 970.5V977.0M293.6 970.5V977.0M401.8 970.5V977.0" fill="none" stroke="#000" stroke-width="3.6"/>
<path d="M185.6 686.5L293.6 799.4M293.6 799.4L401.8 817.5M185.6 692.8L293.6 888.0M293.6 888.0L401.8 695.0M185.6 775.3L293.6 944.0M293.6 944.0L401.8 714.0M185.6 782.4L293.6 928.0M293.6 928.0L401.8 795.5M185.6 823.3L293.6 951.5M293.6 951.5L401.8 831.0M185.6 878.6L293.6 969.5M293.6 969.5L401.8 869.6M185.6 925.5L293.6 969.5M293.6 969.5L401.8 898.5M185.6 941.0L293.6 969.5M293.6 969.5L401.8 904.5" fill="none" stroke="#000" stroke-width="3.5" stroke-linecap="round"/>
<circle cx="185.6" cy="686.5" r="7.8" fill="#fff" stroke="#000" stroke-width="3.4"/>
<circle cx="185.6" cy="692.8" r="7.8" fill="#fff" stroke="#000" stroke-width="3.4"/>
<circle cx="185.6" cy="775.3" r="7.8" fill="#fff" stroke="#000" stroke-width="3.4"/>
<circle cx="185.6" cy="782.4" r="7.8" fill="#fff" stroke="#000" stroke-width="3.4"/>
<circle cx="185.6" cy="823.3" r="7.8" fill="#fff" stroke="#000" stroke-width="3.4"/>
<circle cx="185.6" cy="878.6" r="7.8" fill="#fff" stroke="#000" stroke-width="3.4"/>
<circle cx="185.6" cy="925.5" r="7.8" fill="#fff" stroke="#000" stroke-width="3.4"/>
<circle cx="185.6" cy="941.0" r="7.8" fill="#fff" stroke="#000" stroke-width="3.4"/>
<circle cx="293.6" cy="799.4" r="7.8" fill="#f98181" stroke="#000" stroke-width="3.4"/>
<circle cx="293.6" cy="888.0" r="7.8" fill="#f98181" stroke="#000" stroke-width="3.4"/>
<circle cx="293.6" cy="928.0" r="7.8" fill="#f98181" stroke="#000" stroke-width="3.4"/>
<circle cx="293.6" cy="944.0" r="7.8" fill="#f98181" stroke="#000" stroke-width="3.4"/>
<circle cx="293.6" cy="951.5" r="7.8" fill="#f98181" stroke="#000" stroke-width="3.4"/>
<circle cx="293.6" cy="969.5" r="7.8" fill="#f98181" stroke="#000" stroke-width="3.4"/>
<circle cx="293.6" cy="969.5" r="7.8" fill="#f98181" stroke="#000" stroke-width="3.4"/>
<circle cx="293.6" cy="969.5" r="7.8" fill="#f98181" stroke="#000" stroke-width="3.4"/>
<circle cx="401.8" cy="695.0" r="7.8" fill="#fff" stroke="#000" stroke-width="3.4"/>
<circle cx="401.8" cy="714.0" r="7.8" fill="#fff" stroke="#000" stroke-width="3.4"/>
<circle cx="401.8" cy="795.5" r="7.8" fill="#fff" stroke="#000" stroke-width="3.4"/>
<circle cx="401.8" cy="817.5" r="7.8" fill="#fff" stroke="#000" stroke-width="3.4"/>
<circle cx="401.8" cy="831.0" r="7.8" fill="#fff" stroke="#000" stroke-width="3.4"/>
<circle cx="401.8" cy="869.6" r="7.8" fill="#fff" stroke="#000" stroke-width="3.4"/>
<circle cx="401.8" cy="898.5" r="7.8" fill="#fff" stroke="#000" stroke-width="3.4"/>
<circle cx="401.8" cy="904.5" r="7.8" fill="#fff" stroke="#000" stroke-width="3.4"/>
<text x="131.0" y="668.0" font-size="29" fill="#231815" font-weight="bold" text-anchor="end" textLength="28.3" lengthAdjust="spacingAndGlyphs">80</text>
<text x="131.0" y="746.1" font-size="29" fill="#231815" font-weight="bold" text-anchor="end" textLength="28.3" lengthAdjust="spacingAndGlyphs">60</text>
<text x="131.0" y="824.2" font-size="29" fill="#231815" font-weight="bold" text-anchor="end" textLength="28.3" lengthAdjust="spacingAndGlyphs">40</text>
<text x="131.0" y="902.4" font-size="29" fill="#231815" font-weight="bold" text-anchor="end" textLength="28.3" lengthAdjust="spacingAndGlyphs">20</text>
<text x="131.0" y="980.5" font-size="29" fill="#231815" font-weight="bold" text-anchor="end" textLength="14.0" lengthAdjust="spacingAndGlyphs">0</text>
<text x="187.1" y="999.9" font-size="28.5" fill="#231815" font-weight="bold" text-anchor="middle" textLength="43.0" lengthAdjust="spacingAndGlyphs">Pre</text>
<text x="295.1" y="999.9" font-size="28.5" fill="#231815" font-weight="bold" text-anchor="middle" textLength="59.0" lengthAdjust="spacingAndGlyphs">CNO</text>
<text x="403.3" y="999.9" font-size="28.5" fill="#231815" font-weight="bold" text-anchor="middle" textLength="59.0" lengthAdjust="spacingAndGlyphs">Post</text>
<text x="88.5" y="812.5" font-size="27" fill="#231815" font-weight="bold" text-anchor="middle" textLength="240.0" lengthAdjust="spacingAndGlyphs" transform="rotate(-90 88.5 812.5)">Number of FS (/8h)</text>
<text x="160.0" y="653.6" font-size="33.5" fill="#000" font-weight="bold" textLength="52.5" lengthAdjust="spacingAndGlyphs">n=8</text>
<text x="295.5" y="682.6" font-size="39" fill="#000" font-weight="bold" text-anchor="middle">**</text>
<text x="295.5" y="695.7" font-size="27.5" fill="#000" font-weight="bold" text-anchor="middle">##</text>
<text x="32.3" y="820.8" font-size="28.5" fill="#e60012" font-weight="bold" text-anchor="middle" textLength="121.0" lengthAdjust="spacingAndGlyphs" transform="rotate(-90 32.3 820.8)">ANT-CNO</text>
<path d="M619.5 967.2V840.5H677.7V967.2" fill="none" stroke="#9fa0a0" stroke-width="2.6"/>
<path d="M726.6 967.2V932.3H784.7V967.2" fill="none" stroke="#ff7f7f" stroke-width="2.6"/>
<path d="M834.8 967.2V851.3H892.2V967.2" fill="none" stroke="#9fa0a0" stroke-width="2.6"/>
<path d="M600.5 656.2V967.2M593.7 967.2H912.0" fill="none" stroke="#000" stroke-width="3.6"/>
<path d="M594.1 658.0H600.5M594.1 735.3H600.5M594.1 812.6H600.5M594.1 889.9H600.5M594.1 967.2H600.5M648.6 967.2V973.7M756.0 967.2V973.7M863.4 967.2V973.7" fill="none" stroke="#000" stroke-width="3.6"/>
<path d="M648.6 694.4L756.0 805.5M756.0 805.5L863.4 819.1M648.6 745.0L756.0 898.7M756.0 898.7L863.4 757.4M648.6 809.4L756.0 946.0M756.0 946.0L863.4 789.4M648.6 834.9L756.0 936.0M756.0 936.0L863.4 845.9M648.6 845.9L756.0 955.0M756.0 955.0L863.4 853.8M648.6 892.7L756.0 967.0M756.0 967.0L863.4 886.1M648.6 934.7L756.0 967.0M756.0 967.0L863.4 913.7M648.6 940.5L756.0 962.0M756.0 962.0L863.4 920.3" fill="none" stroke="#000" stroke-width="3.5" stroke-linecap="round"/>
<circle cx="648.6" cy="694.4" r="7.8" fill="#fff" stroke="#000" stroke-width="3.4"/>
<circle cx="648.6" cy="745.0" r="7.8" fill="#fff" stroke="#000" stroke-width="3.4"/>
<circle cx="648.6" cy="809.4" r="7.8" fill="#fff" stroke="#000" stroke-width="3.4"/>
<circle cx="648.6" cy="834.9" r="7.8" fill="#fff" stroke="#000" stroke-width="3.4"/>
<circle cx="648.6" cy="845.9" r="7.8" fill="#fff" stroke="#000" stroke-width="3.4"/>
<circle cx="648.6" cy="892.7" r="7.8" fill="#fff" stroke="#000" stroke-width="3.4"/>
<circle cx="648.6" cy="934.7" r="7.8" fill="#fff" stroke="#000" stroke-width="3.4"/>
<circle cx="648.6" cy="940.5" r="7.8" fill="#fff" stroke="#000" stroke-width="3.4"/>
<circle cx="756.0" cy="805.5" r="7.8" fill="#f98181" stroke="#000" stroke-width="3.4"/>
<circle cx="756.0" cy="898.7" r="7.8" fill="#f98181" stroke="#000" stroke-width="3.4"/>
<circle cx="756.0" cy="936.0" r="7.8" fill="#f98181" stroke="#000" stroke-width="3.4"/>
<circle cx="756.0" cy="946.0" r="7.8" fill="#f98181" stroke="#000" stroke-width="3.4"/>
<circle cx="756.0" cy="955.0" r="7.8" fill="#f98181" stroke="#000" stroke-width="3.4"/>
<circle cx="756.0" cy="962.0" r="7.8" fill="#f98181" stroke="#000" stroke-width="3.4"/>
<circle cx="756.0" cy="967.0" r="7.8" fill="#f98181" stroke="#000" stroke-width="3.4"/>
<circle cx="756.0" cy="967.0" r="7.8" fill="#f98181" stroke="#000" stroke-width="3.4"/>
<circle cx="863.4" cy="757.4" r="7.8" fill="#fff" stroke="#000" stroke-width="3.4"/>
<circle cx="863.4" cy="789.4" r="7.8" fill="#fff" stroke="#000" stroke-width="3.4"/>
<circle cx="863.4" cy="819.1" r="7.8" fill="#fff" stroke="#000" stroke-width="3.4"/>
<circle cx="863.4" cy="845.9" r="7.8" fill="#fff" stroke="#000" stroke-width="3.4"/>
<circle cx="863.4" cy="853.8" r="7.8" fill="#fff" stroke="#000" stroke-width="3.4"/>
<circle cx="863.4" cy="886.1" r="7.8" fill="#fff" stroke="#000" stroke-width="3.4"/>
<circle cx="863.4" cy="913.7" r="7.8" fill="#fff" stroke="#000" stroke-width="3.4"/>
<circle cx="863.4" cy="920.3" r="7.8" fill="#fff" stroke="#000" stroke-width="3.4"/>
<text x="590.5" y="668.0" font-size="29" fill="#231815" font-weight="bold" text-anchor="end" textLength="56.9" lengthAdjust="spacingAndGlyphs">2000</text>
<text x="590.5" y="745.3" font-size="29" fill="#231815" font-weight="bold" text-anchor="end" textLength="56.9" lengthAdjust="spacingAndGlyphs">1500</text>
<text x="590.5" y="822.6" font-size="29" fill="#231815" font-weight="bold" text-anchor="end" textLength="56.9" lengthAdjust="spacingAndGlyphs">1000</text>
<text x="590.5" y="899.9" font-size="29" fill="#231815" font-weight="bold" text-anchor="end" textLength="42.6" lengthAdjust="spacingAndGlyphs">500</text>
<text x="590.5" y="977.2" font-size="29" fill="#231815" font-weight="bold" text-anchor="end" textLength="14.0" lengthAdjust="spacingAndGlyphs">0</text>
<text x="650.1" y="1000.7" font-size="28.5" fill="#231815" font-weight="bold" text-anchor="middle" textLength="43.0" lengthAdjust="spacingAndGlyphs">Pre</text>
<text x="757.5" y="1000.7" font-size="28.5" fill="#231815" font-weight="bold" text-anchor="middle" textLength="59.0" lengthAdjust="spacingAndGlyphs">CNO</text>
<text x="864.9" y="1000.7" font-size="28.5" fill="#231815" font-weight="bold" text-anchor="middle" textLength="59.0" lengthAdjust="spacingAndGlyphs">Post</text>
<text x="524.5" y="811.0" font-size="27" fill="#231815" font-weight="bold" text-anchor="middle" textLength="221.0" lengthAdjust="spacingAndGlyphs" transform="rotate(-90 524.5 811.0)">Time of FS (s/8h)</text>
<text x="756.8" y="682.6" font-size="39" fill="#000" font-weight="bold" text-anchor="middle">**</text>
<text x="756.8" y="695.7" font-size="27.5" fill="#000" font-weight="bold" text-anchor="middle">#</text>
<path d="M1135.3 970.2V843.3H1193.3V970.2" fill="none" stroke="#9fa0a0" stroke-width="2.6"/>
<path d="M1351.4 970.2V912.8H1409.5V970.2" fill="none" stroke="#9fa0a0" stroke-width="2.6"/>
<path d="M1116.9 656.0V970.2M1110.1 970.2H1429.5" fill="none" stroke="#000" stroke-width="3.6"/>
<path d="M1110.5 657.8H1116.9M1110.5 761.9H1116.9M1110.5 866.1H1116.9M1110.5 970.2H1116.9M1164.2 970.2V976.7M1271.9 970.2V976.7M1380.1 970.2V976.7" fill="none" stroke="#000" stroke-width="3.6"/>
<path d="M1164.2 693.0L1271.9 970.2M1271.9 970.2L1372.2 866.4M1155.5 866.4L1271.9 970.2M1271.9 970.2L1394.5 866.4M1177.8 866.4L1271.9 970.2M1271.9 970.2L1380.1 936.0M1164.2 936.0L1271.9 970.2" fill="none" stroke="#000" stroke-width="3.5" stroke-linecap="round"/>
<circle cx="1164.2" cy="693.0" r="7.8" fill="#fff" stroke="#000" stroke-width="3.4"/>
<circle cx="1155.5" cy="866.4" r="7.8" fill="#fff" stroke="#000" stroke-width="3.4"/>
<circle cx="1177.8" cy="866.4" r="7.8" fill="#fff" stroke="#000" stroke-width="3.4"/>
<circle cx="1164.2" cy="936.0" r="7.8" fill="#fff" stroke="#000" stroke-width="3.4"/>
<circle cx="1271.9" cy="970.2" r="7.8" fill="#f98181" stroke="#000" stroke-width="3.4"/>
<circle cx="1372.2" cy="866.4" r="7.8" fill="#fff" stroke="#000" stroke-width="3.4"/>
<circle cx="1394.5" cy="866.4" r="7.8" fill="#fff" stroke="#000" stroke-width="3.4"/>
<circle cx="1380.1" cy="936.0" r="7.8" fill="#fff" stroke="#000" stroke-width="3.4"/>
<circle cx="1380.1" cy="970.2" r="7.8" fill="#fff" stroke="#000" stroke-width="3.4"/>
<text x="1109.0" y="667.8" font-size="29" fill="#231815" font-weight="bold" text-anchor="end" textLength="14.0" lengthAdjust="spacingAndGlyphs">3</text>
<text x="1109.0" y="771.9" font-size="29" fill="#231815" font-weight="bold" text-anchor="end" textLength="14.0" lengthAdjust="spacingAndGlyphs">2</text>
<text x="1109.0" y="876.1" font-size="29" fill="#231815" font-weight="bold" text-anchor="end" textLength="14.0" lengthAdjust="spacingAndGlyphs">1</text>
<text x="1109.0" y="980.2" font-size="29" fill="#231815" font-weight="bold" text-anchor="end" textLength="14.0" lengthAdjust="spacingAndGlyphs">0</text>
<text x="1165.7" y="1000.7" font-size="28.5" fill="#231815" font-weight="bold" text-anchor="middle" textLength="43.0" lengthAdjust="spacingAndGlyphs">Pre</text>
<text x="1273.4" y="1000.7" font-size="28.5" fill="#231815" font-weight="bold" text-anchor="middle" textLength="59.0" lengthAdjust="spacingAndGlyphs">CNO</text>
<text x="1381.6" y="1000.7" font-size="28.5" fill="#231815" font-weight="bold" text-anchor="middle" textLength="59.0" lengthAdjust="spacingAndGlyphs">Post</text>
<text x="1079.0" y="806.5" font-size="27" fill="#231815" font-weight="bold" text-anchor="middle" textLength="246.0" lengthAdjust="spacingAndGlyphs" transform="rotate(-90 1079.0 806.5)">Number of GS (/8h)</text>
<text x="1139.2" y="653.6" font-size="33.5" fill="#000" font-weight="bold" textLength="52.5" lengthAdjust="spacingAndGlyphs">n=4</text>
<text x="1272.4" y="682.8" font-size="39" fill="#000" font-weight="bold" text-anchor="middle">*</text>
<path d="M1596.8 970.2V832.6H1654.5V970.2" fill="none" stroke="#9fa0a0" stroke-width="2.6"/>
<path d="M1812.7 970.2V925.3H1870.7V970.2" fill="none" stroke="#9fa0a0" stroke-width="2.6"/>
<path d="M1577.6 656.0V970.2M1570.8 970.2H1889.8" fill="none" stroke="#000" stroke-width="3.6"/>
<path d="M1571.2 657.8H1577.6M1571.2 761.9H1577.6M1571.2 866.1H1577.6M1571.2 970.2H1577.6M1625.4 970.2V976.7M1733.4 970.2V976.7M1841.6 970.2V976.7" fill="none" stroke="#000" stroke-width="3.6"/>
<path d="M1625.4 700.4L1733.4 970.2M1733.4 970.2L1841.6 884.3M1625.4 817.8L1733.4 970.2M1733.4 970.2L1841.6 895.3M1625.4 862.5L1733.4 970.2M1733.4 970.2L1841.6 938.6M1625.4 935.2L1733.4 970.2" fill="none" stroke="#000" stroke-width="3.5" stroke-linecap="round"/>
<circle cx="1625.4" cy="700.4" r="7.8" fill="#fff" stroke="#000" stroke-width="3.4"/>
<circle cx="1625.4" cy="817.8" r="7.8" fill="#fff" stroke="#000" stroke-width="3.4"/>
<circle cx="1625.4" cy="862.5" r="7.8" fill="#fff" stroke="#000" stroke-width="3.4"/>
<circle cx="1625.4" cy="935.2" r="7.8" fill="#fff" stroke="#000" stroke-width="3.4"/>
<circle cx="1733.4" cy="970.2" r="7.8" fill="#f98181" stroke="#000" stroke-width="3.4"/>
<circle cx="1841.6" cy="884.3" r="7.8" fill="#fff" stroke="#000" stroke-width="3.4"/>
<circle cx="1841.6" cy="895.3" r="7.8" fill="#fff" stroke="#000" stroke-width="3.4"/>
<circle cx="1841.6" cy="938.6" r="7.8" fill="#fff" stroke="#000" stroke-width="3.4"/>
<circle cx="1841.6" cy="970.2" r="7.8" fill="#fff" stroke="#000" stroke-width="3.4"/>
<text x="1570.3" y="667.8" font-size="29" fill="#231815" font-weight="bold" text-anchor="end" textLength="42.6" lengthAdjust="spacingAndGlyphs">150</text>
<text x="1570.3" y="771.9" font-size="29" fill="#231815" font-weight="bold" text-anchor="end" textLength="42.6" lengthAdjust="spacingAndGlyphs">100</text>
<text x="1570.3" y="876.1" font-size="29" fill="#231815" font-weight="bold" text-anchor="end" textLength="28.3" lengthAdjust="spacingAndGlyphs">50</text>
<text x="1570.3" y="980.2" font-size="29" fill="#231815" font-weight="bold" text-anchor="end" textLength="14.0" lengthAdjust="spacingAndGlyphs">0</text>
<text x="1626.9" y="1000.7" font-size="28.5" fill="#231815" font-weight="bold" text-anchor="middle" textLength="43.0" lengthAdjust="spacingAndGlyphs">Pre</text>
<text x="1734.9" y="1000.7" font-size="28.5" fill="#231815" font-weight="bold" text-anchor="middle" textLength="59.0" lengthAdjust="spacingAndGlyphs">CNO</text>
<text x="1843.1" y="1000.7" font-size="28.5" fill="#231815" font-weight="bold" text-anchor="middle" textLength="59.0" lengthAdjust="spacingAndGlyphs">Post</text>
<text x="1513.5" y="810.5" font-size="27" fill="#231815" font-weight="bold" text-anchor="middle" textLength="224.0" lengthAdjust="spacingAndGlyphs" transform="rotate(-90 1513.5 810.5)">Time of GS (s/8h)</text>
<text x="1733.4" y="682.8" font-size="39" fill="#000" font-weight="bold" text-anchor="middle">*</text>
<path d="M151.0 1870.4V1789.3H208.7V1870.4" fill="none" stroke="#9fa0a0" stroke-width="2.6"/>
<path d="M258.7 1870.4V1735.7H317.3V1870.4" fill="none" stroke="#ff7f7f" stroke-width="2.6"/>
<path d="M366.9 1870.4V1797.4H425.0V1870.4" fill="none" stroke="#9fa0a0" stroke-width="2.6"/>
<path d="M132.7 1555.4V1870.4M125.9 1870.4H445.8" fill="none" stroke="#000" stroke-width="3.6"/>
<path d="M126.3 1557.2H132.7M126.3 1635.5H132.7M126.3 1713.8H132.7M126.3 1792.1H132.7M126.3 1870.4H132.7M179.9 1870.4V1876.9M288.2 1870.4V1876.9M396.1 1870.4V1876.9" fill="none" stroke="#000" stroke-width="3.6"/>
<path d="M179.9 1698.8L288.2 1582.2M288.2 1582.2L396.1 1706.7M179.9 1714.6L288.2 1651.6M288.2 1651.6L396.1 1776.6M179.9 1745.6L288.2 1733.8M288.2 1733.8L396.1 1804.2M179.9 1840.7L288.2 1787.6M288.2 1787.6L396.1 1844.1M179.9 1865.1L288.2 1805.5M288.2 1805.5L396.1 1838.1M179.9 1849.4L288.2 1835.7" fill="none" stroke="#000" stroke-width="3.5" stroke-linecap="round"/>
<circle cx="179.9" cy="1698.8" r="7.8" fill="#fff" stroke="#000" stroke-width="3.4"/>
<circle cx="179.9" cy="1714.6" r="7.8" fill="#fff" stroke="#000" stroke-width="3.4"/>
<circle cx="179.9" cy="1745.6" r="7.8" fill="#fff" stroke="#000" stroke-width="3.4"/>
<circle cx="179.9" cy="1849.4" r="7.8" fill="#fff" stroke="#000" stroke-width="3.4"/>
<circle cx="179.9" cy="1840.7" r="7.8" fill="#fff" stroke="#000" stroke-width="3.4"/>
<circle cx="179.9" cy="1865.1" r="7.8" fill="#fff" stroke="#000" stroke-width="3.4"/>
<circle cx="288.2" cy="1582.2" r="7.8" fill="#f98181" stroke="#000" stroke-width="3.4"/>
<circle cx="288.2" cy="1651.6" r="7.8" fill="#f98181" stroke="#000" stroke-width="3.4"/>
<circle cx="288.2" cy="1733.8" r="7.8" fill="#f98181" stroke="#000" stroke-width="3.4"/>
<circle cx="288.2" cy="1787.6" r="7.8" fill="#f98181" stroke="#000" stroke-width="3.4"/>
<circle cx="288.2" cy="1805.5" r="7.8" fill="#f98181" stroke="#000" stroke-width="3.4"/>
<circle cx="288.2" cy="1835.7" r="7.8" fill="#f98181" stroke="#000" stroke-width="3.4"/>
<circle cx="396.1" cy="1706.7" r="7.8" fill="#fff" stroke="#000" stroke-width="3.4"/>
<circle cx="396.1" cy="1776.6" r="7.8" fill="#fff" stroke="#000" stroke-width="3.4"/>
<circle cx="396.1" cy="1804.2" r="7.8" fill="#fff" stroke="#000" stroke-width="3.4"/>
<circle cx="396.1" cy="1844.1" r="7.8" fill="#fff" stroke="#000" stroke-width="3.4"/>
<circle cx="396.1" cy="1838.1" r="7.8" fill="#fff" stroke="#000" stroke-width="3.4"/>
<text x="124.0" y="1567.2" font-size="29" fill="#231815" font-weight="bold" text-anchor="end" textLength="28.3" lengthAdjust="spacingAndGlyphs">80</text>
<text x="124.0" y="1645.5" font-size="29" fill="#231815" font-weight="bold" text-anchor="end" textLength="28.3" lengthAdjust="spacingAndGlyphs">60</text>
<text x="124.0" y="1723.8" font-size="29" fill="#231815" font-weight="bold" text-anchor="end" textLength="28.3" lengthAdjust="spacingAndGlyphs">40</text>
<text x="124.0" y="1802.1" font-size="29" fill="#231815" font-weight="bold" text-anchor="end" textLength="28.3" lengthAdjust="spacingAndGlyphs">20</text>
<text x="124.0" y="1880.4" font-size="29" fill="#231815" font-weight="bold" text-anchor="end" textLength="14.0" lengthAdjust="spacingAndGlyphs">0</text>
<text x="181.4" y="1900.4" font-size="28.5" fill="#231815" font-weight="bold" text-anchor="middle" textLength="43.0" lengthAdjust="spacingAndGlyphs">Pre</text>
<text x="289.7" y="1900.4" font-size="28.5" fill="#231815" font-weight="bold" text-anchor="middle" textLength="59.0" lengthAdjust="spacingAndGlyphs">CNO</text>
<text x="397.6" y="1900.4" font-size="28.5" fill="#231815" font-weight="bold" text-anchor="middle" textLength="59.0" lengthAdjust="spacingAndGlyphs">Post</text>
<text x="82.0" y="1713.5" font-size="27" fill="#231815" font-weight="bold" text-anchor="middle" textLength="240.0" lengthAdjust="spacingAndGlyphs" transform="rotate(-90 82.0 1713.5)">Number of FS (/8h)</text>
<text x="155.5" y="1547.6" font-size="33.5" fill="#000" font-weight="bold" textLength="52.5" lengthAdjust="spacingAndGlyphs">n=6</text>
<text x="289.0" y="1558.2" font-size="39" fill="#000" font-weight="bold" text-anchor="middle">*</text>
<text x="31.5" y="1741.5" font-size="28.5" fill="#e60012" font-weight="bold" text-anchor="middle" textLength="103.5" lengthAdjust="spacingAndGlyphs" transform="rotate(-90 31.5 1741.5)">EC-CNO</text>
<path d="M618.9 1866.0V1805.8H676.4V1866.0" fill="none" stroke="#9fa0a0" stroke-width="2.6"/>
<path d="M725.8 1866.0V1754.1H783.8V1866.0" fill="none" stroke="#ff7f7f" stroke-width="2.6"/>
<path d="M833.0 1866.0V1805.3H891.0V1866.0" fill="none" stroke="#9fa0a0" stroke-width="2.6"/>
<path d="M600.5 1555.4V1866.0M593.7 1866.0H911.3" fill="none" stroke="#000" stroke-width="3.6"/>
<path d="M594.1 1557.2H600.5M594.1 1634.4H600.5M594.1 1711.6H600.5M594.1 1788.8H600.5M594.1 1866.0H600.5M647.3 1866.0V1872.5M754.2 1866.0V1872.5M861.4 1866.0V1872.5" fill="none" stroke="#000" stroke-width="3.6"/>
<path d="M647.3 1731.2L754.2 1626.9M754.2 1626.9L861.4 1728.0M647.3 1765.3L754.2 1679.4M754.2 1679.4L861.4 1782.4M647.3 1754.8L754.2 1739.0M754.2 1739.0L861.4 1813.9M647.3 1847.3L754.2 1806.0M754.2 1806.0L861.4 1848.8M647.3 1863.3L754.2 1813.9M754.2 1813.9L861.4 1837.0M647.3 1854.0L754.2 1840.7" fill="none" stroke="#000" stroke-width="3.5" stroke-linecap="round"/>
<circle cx="647.3" cy="1731.2" r="7.8" fill="#fff" stroke="#000" stroke-width="3.4"/>
<circle cx="647.3" cy="1754.8" r="7.8" fill="#fff" stroke="#000" stroke-width="3.4"/>
<circle cx="647.3" cy="1765.3" r="7.8" fill="#fff" stroke="#000" stroke-width="3.4"/>
<circle cx="647.3" cy="1854.0" r="7.8" fill="#fff" stroke="#000" stroke-width="3.4"/>
<circle cx="647.3" cy="1847.3" r="7.8" fill="#fff" stroke="#000" stroke-width="3.4"/>
<circle cx="647.3" cy="1863.3" r="7.8" fill="#fff" stroke="#000" stroke-width="3.4"/>
<circle cx="754.2" cy="1626.9" r="7.8" fill="#f98181" stroke="#000" stroke-width="3.4"/>
<circle cx="754.2" cy="1679.4" r="7.8" fill="#f98181" stroke="#000" stroke-width="3.4"/>
<circle cx="754.2" cy="1739.0" r="7.8" fill="#f98181" stroke="#000" stroke-width="3.4"/>
<circle cx="754.2" cy="1813.9" r="7.8" fill="#f98181" stroke="#000" stroke-width="3.4"/>
<circle cx="754.2" cy="1806.0" r="7.8" fill="#f98181" stroke="#000" stroke-width="3.4"/>
<circle cx="754.2" cy="1840.7" r="7.8" fill="#f98181" stroke="#000" stroke-width="3.4"/>
<circle cx="861.4" cy="1728.0" r="7.8" fill="#fff" stroke="#000" stroke-width="3.4"/>
<circle cx="861.4" cy="1782.4" r="7.8" fill="#fff" stroke="#000" stroke-width="3.4"/>
<circle cx="861.4" cy="1813.9" r="7.8" fill="#fff" stroke="#000" stroke-width="3.4"/>
<circle cx="861.4" cy="1837.0" r="7.8" fill="#fff" stroke="#000" stroke-width="3.4"/>
<circle cx="861.4" cy="1848.8" r="7.8" fill="#fff" stroke="#000" stroke-width="3.4"/>
<text x="590.5" y="1567.2" font-size="29" fill="#231815" font-weight="bold" text-anchor="end" textLength="56.9" lengthAdjust="spacingAndGlyphs">2000</text>
<text x="590.5" y="1644.4" font-size="29" fill="#231815" font-weight="bold" text-anchor="end" textLength="56.9" lengthAdjust="spacingAndGlyphs">1500</text>
<text x="590.5" y="1721.6" font-size="29" fill="#231815" font-weight="bold" text-anchor="end" textLength="56.9" lengthAdjust="spacingAndGlyphs">1000</text>
<text x="590.5" y="1798.8" font-size="29" fill="#231815" font-weight="bold" text-anchor="end" textLength="42.6" lengthAdjust="spacingAndGlyphs">500</text>
<text x="590.5" y="1876.0" font-size="29" fill="#231815" font-weight="bold" text-anchor="end" textLength="14.0" lengthAdjust="spacingAndGlyphs">0</text>
<text x="648.8" y="1900.4" font-size="28.5" fill="#231815" font-weight="bold" text-anchor="middle" textLength="43.0" lengthAdjust="spacingAndGlyphs">Pre</text>
<text x="755.7" y="1900.4" font-size="28.5" fill="#231815" font-weight="bold" text-anchor="middle" textLength="59.0" lengthAdjust="spacingAndGlyphs">CNO</text>
<text x="862.9" y="1900.4" font-size="28.5" fill="#231815" font-weight="bold" text-anchor="middle" textLength="59.0" lengthAdjust="spacingAndGlyphs">Post</text>
<text x="522.0" y="1710.0" font-size="27" fill="#231815" font-weight="bold" text-anchor="middle" textLength="217.0" lengthAdjust="spacingAndGlyphs" transform="rotate(-90 522.0 1710.0)">Time of FS (s/8h)</text>
<text x="754.2" y="1558.2" font-size="39" fill="#000" font-weight="bold" text-anchor="middle">*</text>
<path d="M1135.3 1870.4V1853.1H1193.3V1870.4" fill="none" stroke="#9fa0a0" stroke-width="2.6"/>
<path d="M1243.0 1870.4V1764.6H1301.0V1870.4" fill="none" stroke="#ff7f7f" stroke-width="2.6"/>
<path d="M1352.0 1870.4V1867.3H1409.5V1870.4" fill="none" stroke="#9fa0a0" stroke-width="2.6"/>
<path d="M1116.9 1555.4V1870.4M1110.1 1870.4H1429.5" fill="none" stroke="#000" stroke-width="3.6"/>
<path d="M1110.5 1557.2H1116.9M1110.5 1635.5H1116.9M1110.5 1713.8H1116.9M1110.5 1792.1H1116.9M1110.5 1870.4H1116.9M1163.6 1870.4V1876.9M1271.9 1870.4V1876.9M1380.1 1870.4V1876.9" fill="none" stroke="#000" stroke-width="3.6"/>
<path d="M1163.6 1870.4L1271.9 1636.6M1271.9 1636.6L1380.1 1870.4M1163.6 1870.4L1271.9 1714.9M1271.9 1714.9L1380.1 1870.4M1163.6 1870.4L1271.9 1792.4M1163.6 1818.4L1271.9 1818.4M1271.9 1818.4L1380.1 1870.4M1163.6 1870.4L1271.9 1844.6M1271.9 1844.6L1380.1 1844.6" fill="none" stroke="#000" stroke-width="3.5" stroke-linecap="round"/>
<circle cx="1163.6" cy="1818.4" r="7.8" fill="#fff" stroke="#000" stroke-width="3.4"/>
<circle cx="1163.6" cy="1870.4" r="7.8" fill="#fff" stroke="#000" stroke-width="3.4"/>
<circle cx="1271.9" cy="1636.6" r="7.8" fill="#f98181" stroke="#000" stroke-width="3.4"/>
<circle cx="1271.9" cy="1714.9" r="7.8" fill="#f98181" stroke="#000" stroke-width="3.4"/>
<circle cx="1271.9" cy="1792.4" r="7.8" fill="#f98181" stroke="#000" stroke-width="3.4"/>
<circle cx="1271.9" cy="1818.4" r="7.8" fill="#f98181" stroke="#000" stroke-width="3.4"/>
<circle cx="1271.9" cy="1844.6" r="7.8" fill="#f98181" stroke="#000" stroke-width="3.4"/>
<circle cx="1380.1" cy="1844.6" r="7.8" fill="#fff" stroke="#000" stroke-width="3.4"/>
<circle cx="1380.1" cy="1870.4" r="7.8" fill="#fff" stroke="#000" stroke-width="3.4"/>
<text x="1109.0" y="1567.2" font-size="29" fill="#231815" font-weight="bold" text-anchor="end" textLength="14.0" lengthAdjust="spacingAndGlyphs">4</text>
<text x="1109.0" y="1645.5" font-size="29" fill="#231815" font-weight="bold" text-anchor="end" textLength="14.0" lengthAdjust="spacingAndGlyphs">3</text>
<text x="1109.0" y="1723.8" font-size="29" fill="#231815" font-weight="bold" text-anchor="end" textLength="14.0" lengthAdjust="spacingAndGlyphs">2</text>
<text x="1109.0" y="1802.1" font-size="29" fill="#231815" font-weight="bold" text-anchor="end" textLength="14.0" lengthAdjust="spacingAndGlyphs">1</text>
<text x="1109.0" y="1880.4" font-size="29" fill="#231815" font-weight="bold" text-anchor="end" textLength="14.0" lengthAdjust="spacingAndGlyphs">0</text>
<text x="1165.1" y="1900.4" font-size="28.5" fill="#231815" font-weight="bold" text-anchor="middle" textLength="43.0" lengthAdjust="spacingAndGlyphs">Pre</text>
<text x="1273.4" y="1900.4" font-size="28.5" fill="#231815" font-weight="bold" text-anchor="middle" textLength="59.0" lengthAdjust="spacingAndGlyphs">CNO</text>
<text x="1381.6" y="1900.4" font-size="28.5" fill="#231815" font-weight="bold" text-anchor="middle" textLength="59.0" lengthAdjust="spacingAndGlyphs">Post</text>
<text x="1079.0" y="1716.0" font-size="27" fill="#231815" font-weight="bold" text-anchor="middle" textLength="246.0" lengthAdjust="spacingAndGlyphs" transform="rotate(-90 1079.0 1716.0)">Number of GS (/8h)</text>
<text x="1139.2" y="1547.6" font-size="33.5" fill="#000" font-weight="bold" textLength="52.5" lengthAdjust="spacingAndGlyphs">n=5</text>
<text x="1214.9" y="1548.6" font-size="29.5" fill="#000" font-weight="bold" textLength="113.5" lengthAdjust="spacingAndGlyphs">P=0.0537</text>
<text x="1271.9" y="1581.6" font-size="27.5" fill="#000" font-weight="bold" text-anchor="middle">#</text>
<path d="M1594.7 1870.4V1860.4H1653.2V1870.4" fill="none" stroke="#9fa0a0" stroke-width="2.6"/>
<path d="M1702.9 1870.4V1753.3H1761.2V1870.4" fill="none" stroke="#ff7f7f" stroke-width="2.6"/>
<path d="M1811.3 1870.4V1868.6H1869.4V1870.4" fill="none" stroke="#9fa0a0" stroke-width="2.6"/>
<path d="M1576.8 1555.4V1870.4M1570.0 1870.4H1889.8" fill="none" stroke="#000" stroke-width="3.6"/>
<path d="M1570.4 1557.2H1576.8M1570.4 1635.5H1576.8M1570.4 1713.8H1576.8M1570.4 1792.1H1576.8M1570.4 1870.4H1576.8M1624.4 1870.4V1876.9M1732.0 1870.4V1876.9M1840.3 1870.4V1876.9" fill="none" stroke="#000" stroke-width="3.6"/>
<path d="M1624.4 1823.9L1732.0 1628.7M1732.0 1628.7L1840.3 1870.4M1624.4 1870.4L1732.0 1664.2M1732.0 1664.2L1840.3 1870.4M1624.4 1848.6L1732.0 1800.2M1624.4 1870.4L1732.0 1812.6M1732.0 1812.6L1840.3 1870.4M1624.4 1870.4L1732.0 1844.1M1732.0 1844.1L1840.3 1848.8" fill="none" stroke="#000" stroke-width="3.5" stroke-linecap="round"/>
<circle cx="1624.4" cy="1823.9" r="7.8" fill="#fff" stroke="#000" stroke-width="3.4"/>
<circle cx="1624.4" cy="1848.6" r="7.8" fill="#fff" stroke="#000" stroke-width="3.4"/>
<circle cx="1624.4" cy="1870.4" r="7.8" fill="#fff" stroke="#000" stroke-width="3.4"/>
<circle cx="1732.0" cy="1628.7" r="7.8" fill="#f98181" stroke="#000" stroke-width="3.4"/>
<circle cx="1732.0" cy="1664.2" r="7.8" fill="#f98181" stroke="#000" stroke-width="3.4"/>
<circle cx="1732.0" cy="1812.6" r="7.8" fill="#f98181" stroke="#000" stroke-width="3.4"/>
<circle cx="1732.0" cy="1800.2" r="7.8" fill="#f98181" stroke="#000" stroke-width="3.4"/>
<circle cx="1732.0" cy="1844.1" r="7.8" fill="#f98181" stroke="#000" stroke-width="3.4"/>
<circle cx="1840.3" cy="1848.8" r="7.8" fill="#fff" stroke="#000" stroke-width="3.4"/>
<circle cx="1840.3" cy="1870.4" r="7.8" fill="#fff" stroke="#000" stroke-width="3.4"/>
<text x="1570.3" y="1567.2" font-size="29" fill="#231815" font-weight="bold" text-anchor="end" textLength="42.6" lengthAdjust="spacingAndGlyphs">200</text>
<text x="1570.3" y="1645.5" font-size="29" fill="#231815" font-weight="bold" text-anchor="end" textLength="42.6" lengthAdjust="spacingAndGlyphs">150</text>
<text x="1570.3" y="1723.8" font-size="29" fill="#231815" font-weight="bold" text-anchor="end" textLength="42.6" lengthAdjust="spacingAndGlyphs">100</text>
<text x="1570.3" y="1802.1" font-size="29" fill="#231815" font-weight="bold" text-anchor="end" textLength="28.3" lengthAdjust="spacingAndGlyphs">50</text>
<text x="1570.3" y="1880.4" font-size="29" fill="#231815" font-weight="bold" text-anchor="end" textLength="14.0" lengthAdjust="spacingAndGlyphs">0</text>
<text x="1625.9" y="1900.4" font-size="28.5" fill="#231815" font-weight="bold" text-anchor="middle" textLength="43.0" lengthAdjust="spacingAndGlyphs">Pre</text>
<text x="1733.5" y="1900.4" font-size="28.5" fill="#231815" font-weight="bold" text-anchor="middle" textLength="59.0" lengthAdjust="spacingAndGlyphs">CNO</text>
<text x="1841.8" y="1900.4" font-size="28.5" fill="#231815" font-weight="bold" text-anchor="middle" textLength="59.0" lengthAdjust="spacingAndGlyphs">Post</text>
<text x="1513.5" y="1713.5" font-size="27" fill="#231815" font-weight="bold" text-anchor="middle" textLength="220.0" lengthAdjust="spacingAndGlyphs" transform="rotate(-90 1513.5 1713.5)">Time of GS (s/8h)</text>
<rect x="93.1" y="1261.2" width="888.1" height="181.6" fill="#00f"/><g clip-path="url(#ch1_0)"><g filter="url(#fh1_0)"><use href="#eh1"/></g></g>
<rect x="1008.6" y="1261.2" width="888.0" height="181.6" fill="#00f"/><g clip-path="url(#ch2_0)"><g filter="url(#fh2_0)"><use href="#eh2"/></g></g>
<rect x="87.4" y="2141" width="888.2" height="181.6" fill="#00f"/><g clip-path="url(#cm1_0)"><g filter="url(#fm1_0)"><use href="#em1"/></g></g><g clip-path="url(#cm1_1)"><g filter="url(#fm1_1)"><use href="#em1"/></g></g>
<rect x="1008.4" y="2142.2" width="888.4" height="181.6" fill="#00f"/><g clip-path="url(#cm2_0)"><g filter="url(#fm2_0)"><use href="#em2"/></g></g><g clip-path="url(#cm2_1)"><g filter="url(#fm2_1)"><use href="#em2"/></g></g><g clip-path="url(#cm2_2)"><g filter="url(#fm2_2)"><use href="#em2"/></g></g>
<rect x="1920.6" y="1325.4" width="12.9" height="148.6" fill="url(#jet)"/>
<rect x="1920.6" y="2207.3" width="12.9" height="148" fill="url(#jet)"/>
<text x="96.2" y="1056.4" font-size="30.5" fill="#e60012" font-weight="bold" textLength="49.5" lengthAdjust="spacingAndGlyphs">Pre</text>
<text x="998.6" y="1062.8" font-size="30.5" fill="#e60012" font-weight="bold" textLength="68.5" lengthAdjust="spacingAndGlyphs">CNO</text>
<text x="114.0" y="1953.5" font-size="30.5" fill="#e60012" font-weight="bold" textLength="49.5" lengthAdjust="spacingAndGlyphs">Pre</text>
<text x="998.6" y="1953.0" font-size="30.5" fill="#e60012" font-weight="bold" textLength="68.5" lengthAdjust="spacingAndGlyphs">CNO</text>
<path d="M112.9 1069H130.7L121.6 1093.6Z" fill="#000"/>
<path d="M348 1958H365.4L356.3 1982Z" fill="#000"/>
<path d="M1228.3 1958H1245.2L1236.4 1982.6Z" fill="#000"/>
<path d="M1917.8 1200V1251.2M1917.8 2071.4V2122.2" stroke="#000" stroke-width="3.3" fill="none"/>
<text x="1843.2" y="1234.6" font-size="27" fill="#000" textLength="61.0" lengthAdjust="spacingAndGlyphs">1 mV</text>
<text x="1841.6" y="2105.0" font-size="27" fill="#000" textLength="63.5" lengthAdjust="spacingAndGlyphs">2 mV</text>
<path d="M1875.1 1483.2H1951.8M1875.1 2363.7H1951.8" stroke="#000" stroke-width="3.3" fill="none"/>
<text x="1889.3" y="1511.0" font-size="27" fill="#000" textLength="48.5" lengthAdjust="spacingAndGlyphs">10 s</text>
<text x="1889.3" y="2391.3" font-size="27" fill="#000" textLength="48.5" lengthAdjust="spacingAndGlyphs">10 s</text>
<text x="1938.2" y="1333.5" font-size="21.5" fill="#000" textLength="24.0" lengthAdjust="spacingAndGlyphs">80</text>
<text x="1938.2" y="1473.6" font-size="21.5" fill="#000" textLength="24.0" lengthAdjust="spacingAndGlyphs">50</text>
<text x="1938.2" y="2215.4" font-size="21.5" fill="#000" textLength="24.0" lengthAdjust="spacingAndGlyphs">80</text>
<text x="1938.2" y="2355.0" font-size="21.5" fill="#000" textLength="24.0" lengthAdjust="spacingAndGlyphs">50</text>
<text x="1947.5" y="1383.2" font-size="21.5" fill="#000" textLength="26.0" lengthAdjust="spacingAndGlyphs" transform="rotate(90 1947.5 1383.2)">dB</text>
<text x="1947.5" y="2263.5" font-size="21.5" fill="#000" textLength="26.0" lengthAdjust="spacingAndGlyphs" transform="rotate(90 1947.5 2263.5)">dB</text>
<text x="43.5" y="1354.0" font-size="24" fill="#000" font-weight="bold" text-anchor="middle" textLength="188.0" lengthAdjust="spacingAndGlyphs" transform="rotate(-90 43.5 1354.0)">Frequency(Hz)</text>
<text x="34.5" y="2234.0" font-size="24" fill="#000" font-weight="bold" text-anchor="middle" textLength="188.0" lengthAdjust="spacingAndGlyphs" transform="rotate(-90 34.5 2234.0)">Frequency(Hz)</text>
<text x="86.0" y="1276.0" font-size="25" fill="#000" font-weight="bold" text-anchor="end">50</text>
<text x="86.0" y="1452.0" font-size="25" fill="#000" font-weight="bold" text-anchor="end">0</text>
<text x="80.5" y="2159.0" font-size="25" fill="#000" font-weight="bold" text-anchor="end">50</text>
<text x="80.5" y="2331.0" font-size="25" fill="#000" font-weight="bold" text-anchor="end">0</text>

</svg>
</body></html>
